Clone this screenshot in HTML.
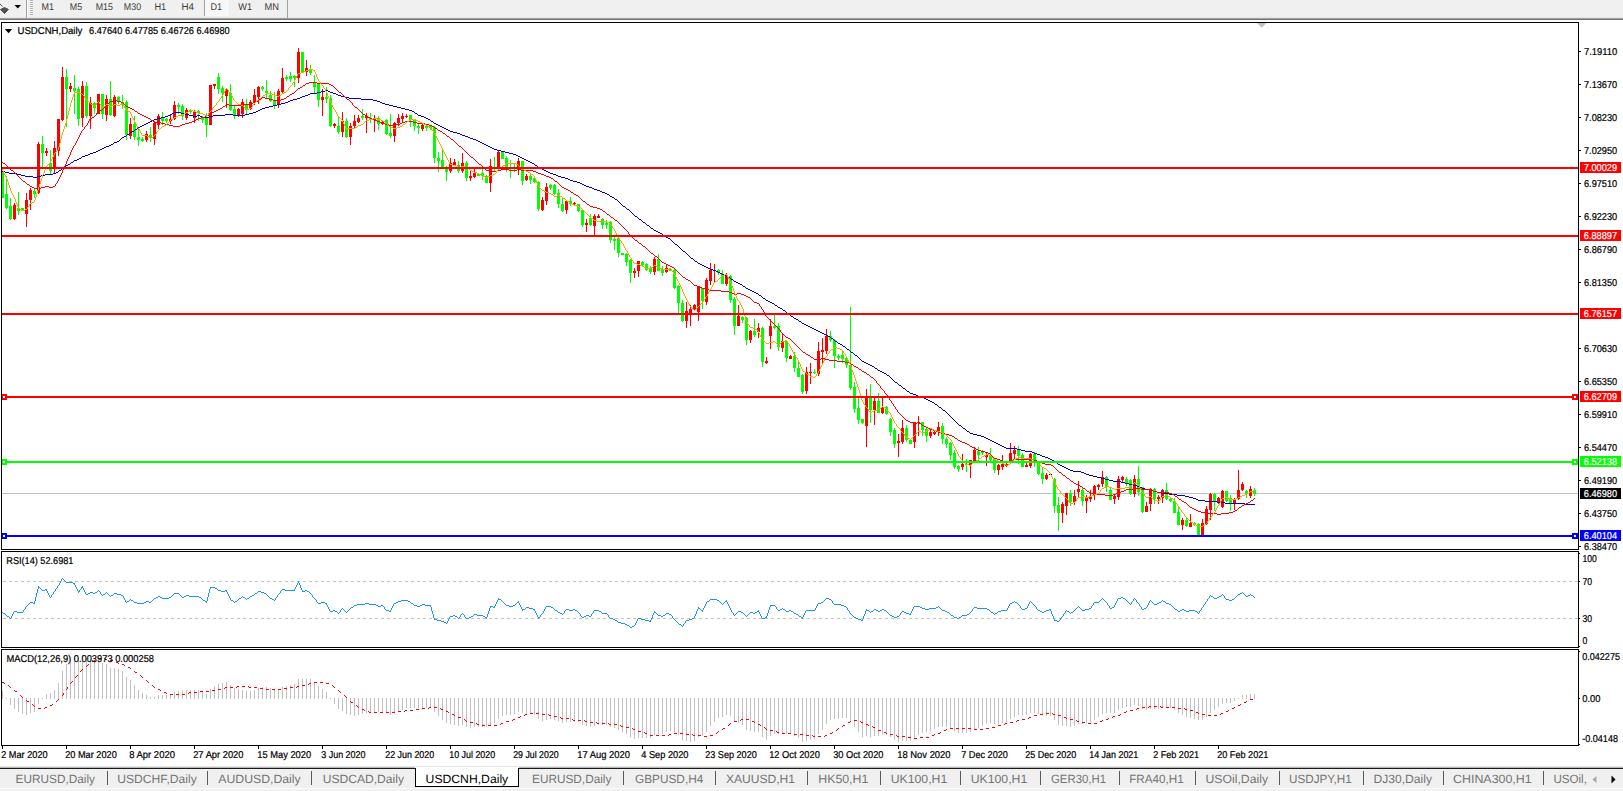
<!DOCTYPE html>
<html><head><meta charset="utf-8"><title>USDCNH,Daily</title>
<style>
html,body{margin:0;padding:0;background:#fff;overflow:hidden}
svg{display:block}
text{font-family:"Liberation Sans",sans-serif;text-rendering:geometricPrecision}
</style></head><body>
<svg width="1623" height="791" viewBox="0 0 1623 791">
<rect x="0" y="0" width="1623" height="791" fill="#fff"/>
<rect x="0" y="0" width="1623" height="18" fill="#f0f0f0"/>
<rect x="0" y="17" width="1623" height="1" fill="#e4e4e4"/>
<rect x="0" y="18" width="1623" height="1" fill="#a4a4a4"/>
<rect x="0" y="19" width="1623" height="1" fill="#707070"/>
<rect x="26" y="0" width="1" height="18" fill="#a0a0a0"/><rect x="27" y="0" width="1" height="18" fill="#fff"/>
<rect x="30" y="0" width="3" height="1" fill="#b4b4b4"/>
<rect x="30" y="2" width="3" height="1" fill="#b4b4b4"/>
<rect x="30" y="4" width="3" height="1" fill="#b4b4b4"/>
<rect x="30" y="6" width="3" height="1" fill="#b4b4b4"/>
<rect x="30" y="8" width="3" height="1" fill="#b4b4b4"/>
<rect x="30" y="10" width="3" height="1" fill="#b4b4b4"/>
<rect x="30" y="12" width="3" height="1" fill="#b4b4b4"/>
<rect x="30" y="14" width="3" height="1" fill="#b4b4b4"/>
<rect x="205" y="0" width="24" height="16" fill="#f8f8f8"/><rect x="204" y="0" width="1" height="16" fill="#a0a0a0"/>
<rect x="287" y="0" width="1" height="18" fill="#a0a0a0"/>
<path d="M0,4 L2.5,6.5 M0.5,9.5 L4.5,13.5 L8.5,9.5 L4.5,7.5 Z" fill="#505050" stroke="#505050" stroke-width="1"/>
<path d="M14.5,5 L21,5 L17.75,8.5 Z" fill="#000"/>
<text x="41.6" y="10" font-size="9.8" fill="#3c3c3c" textLength="12.5" lengthAdjust="spacingAndGlyphs">M1</text>
<text x="69.8" y="10" font-size="9.8" fill="#3c3c3c" textLength="12.3" lengthAdjust="spacingAndGlyphs">M5</text>
<text x="95.7" y="10" font-size="9.8" fill="#3c3c3c" textLength="17.2" lengthAdjust="spacingAndGlyphs">M15</text>
<text x="123.8" y="10" font-size="9.8" fill="#3c3c3c" textLength="17.3" lengthAdjust="spacingAndGlyphs">M30</text>
<text x="154.4" y="10" font-size="9.8" fill="#3c3c3c" textLength="11.8" lengthAdjust="spacingAndGlyphs">H1</text>
<text x="181.4" y="10" font-size="9.8" fill="#3c3c3c" textLength="12.5" lengthAdjust="spacingAndGlyphs">H4</text>
<text x="210.5" y="10" font-size="9.8" fill="#3c3c3c" textLength="11.6" lengthAdjust="spacingAndGlyphs">D1</text>
<text x="238.3" y="10" font-size="9.8" fill="#3c3c3c" textLength="13.8" lengthAdjust="spacingAndGlyphs">W1</text>
<text x="264.6" y="10" font-size="9.8" fill="#3c3c3c" textLength="14.5" lengthAdjust="spacingAndGlyphs">MN</text>
<rect x="2" y="493" width="1576" height="1" fill="#c0c0c0"/>
<g shape-rendering="crispEdges">
<rect x="2" y="168" width="1" height="30" fill="#00ff00"/><rect x="1" y="171" width="3" height="27" fill="#00ff00"/><rect x="6" y="176" width="1" height="33" fill="#00ff00"/><rect x="5" y="194" width="3" height="14" fill="#00ff00"/><rect x="10" y="198" width="1" height="22" fill="#00ff00"/><rect x="9" y="206" width="3" height="13" fill="#00ff00"/><rect x="14" y="203" width="1" height="17" fill="#ff0000"/><rect x="13" y="205" width="3" height="14" fill="#ff0000"/><rect x="18" y="192" width="1" height="23" fill="#00ff00"/><rect x="17" y="208" width="3" height="3" fill="#00ff00"/><rect x="22" y="208" width="1" height="3" fill="#00ff00"/><rect x="21" y="208" width="3" height="3" fill="#00ff00"/><rect x="26" y="193" width="1" height="34" fill="#ff0000"/><rect x="25" y="200" width="3" height="14" fill="#ff0000"/><rect x="30" y="188" width="1" height="22" fill="#ff0000"/><rect x="29" y="190" width="3" height="10" fill="#ff0000"/><rect x="34" y="189" width="1" height="9" fill="#00ff00"/><rect x="33" y="191" width="3" height="3" fill="#00ff00"/><rect x="38" y="142" width="1" height="52" fill="#ff0000"/><rect x="37" y="144" width="3" height="49" fill="#ff0000"/><rect x="42" y="136" width="1" height="32" fill="#00ff00"/><rect x="41" y="144" width="3" height="9" fill="#00ff00"/><rect x="46" y="148" width="1" height="8" fill="#ff0000"/><rect x="45" y="151" width="3" height="2" fill="#ff0000"/><rect x="50" y="150" width="1" height="24" fill="#00ff00"/><rect x="49" y="163" width="3" height="8" fill="#00ff00"/><rect x="54" y="141" width="1" height="32" fill="#ff0000"/><rect x="53" y="148" width="3" height="20" fill="#ff0000"/><rect x="58" y="119" width="1" height="37" fill="#ff0000"/><rect x="57" y="119" width="3" height="32" fill="#ff0000"/><rect x="62" y="67" width="1" height="54" fill="#ff0000"/><rect x="61" y="77" width="3" height="43" fill="#ff0000"/><rect x="66" y="69" width="1" height="58" fill="#00ff00"/><rect x="65" y="77" width="3" height="12" fill="#00ff00"/><rect x="70" y="83" width="1" height="9" fill="#ff0000"/><rect x="69" y="86" width="3" height="3" fill="#ff0000"/><rect x="74" y="75" width="1" height="39" fill="#00ff00"/><rect x="73" y="88" width="3" height="3" fill="#00ff00"/><rect x="78" y="87" width="1" height="39" fill="#00ff00"/><rect x="77" y="89" width="3" height="30" fill="#00ff00"/><rect x="82" y="81" width="1" height="46" fill="#ff0000"/><rect x="81" y="86" width="3" height="32" fill="#ff0000"/><rect x="86" y="82" width="1" height="36" fill="#00ff00"/><rect x="85" y="86" width="3" height="30" fill="#00ff00"/><rect x="90" y="97" width="1" height="32" fill="#ff0000"/><rect x="89" y="103" width="3" height="13" fill="#ff0000"/><rect x="94" y="102" width="1" height="12" fill="#00ff00"/><rect x="93" y="103" width="3" height="5" fill="#00ff00"/><rect x="98" y="94" width="1" height="20" fill="#ff0000"/><rect x="97" y="94" width="3" height="20" fill="#ff0000"/><rect x="102" y="94" width="1" height="25" fill="#00ff00"/><rect x="101" y="94" width="3" height="20" fill="#00ff00"/><rect x="106" y="95" width="1" height="26" fill="#ff0000"/><rect x="105" y="99" width="3" height="16" fill="#ff0000"/><rect x="110" y="81" width="1" height="35" fill="#00ff00"/><rect x="109" y="99" width="3" height="16" fill="#00ff00"/><rect x="114" y="95" width="1" height="22" fill="#ff0000"/><rect x="113" y="97" width="3" height="19" fill="#ff0000"/><rect x="118" y="96" width="1" height="8" fill="#00ff00"/><rect x="117" y="97" width="3" height="5" fill="#00ff00"/><rect x="122" y="95" width="1" height="14" fill="#00ff00"/><rect x="121" y="102" width="3" height="2" fill="#00ff00"/><rect x="126" y="100" width="1" height="40" fill="#00ff00"/><rect x="125" y="102" width="3" height="33" fill="#00ff00"/><rect x="130" y="118" width="1" height="21" fill="#ff0000"/><rect x="129" y="124" width="3" height="12" fill="#ff0000"/><rect x="134" y="116" width="1" height="24" fill="#00ff00"/><rect x="133" y="124" width="3" height="13" fill="#00ff00"/><rect x="138" y="127" width="1" height="19" fill="#00ff00"/><rect x="137" y="137" width="3" height="3" fill="#00ff00"/><rect x="142" y="137" width="1" height="5" fill="#00ff00"/><rect x="141" y="139" width="3" height="2" fill="#00ff00"/><rect x="146" y="131" width="1" height="11" fill="#ff0000"/><rect x="145" y="134" width="3" height="6" fill="#ff0000"/><rect x="150" y="127" width="1" height="15" fill="#00ff00"/><rect x="149" y="135" width="3" height="2" fill="#00ff00"/><rect x="154" y="121" width="1" height="24" fill="#ff0000"/><rect x="153" y="123" width="3" height="16" fill="#ff0000"/><rect x="158" y="114" width="1" height="15" fill="#ff0000"/><rect x="157" y="116" width="3" height="9" fill="#ff0000"/><rect x="162" y="112" width="1" height="13" fill="#00ff00"/><rect x="161" y="118" width="3" height="3" fill="#00ff00"/><rect x="166" y="118" width="1" height="5" fill="#00ff00"/><rect x="165" y="119" width="3" height="2" fill="#00ff00"/><rect x="170" y="115" width="1" height="9" fill="#ff0000"/><rect x="169" y="119" width="3" height="2" fill="#ff0000"/><rect x="174" y="101" width="1" height="19" fill="#ff0000"/><rect x="173" y="105" width="3" height="14" fill="#ff0000"/><rect x="178" y="103" width="1" height="11" fill="#00ff00"/><rect x="177" y="105" width="3" height="2" fill="#00ff00"/><rect x="182" y="104" width="1" height="16" fill="#00ff00"/><rect x="181" y="106" width="3" height="10" fill="#00ff00"/><rect x="186" y="108" width="1" height="12" fill="#ff0000"/><rect x="185" y="110" width="3" height="8" fill="#ff0000"/><rect x="190" y="109" width="1" height="5" fill="#00ff00"/><rect x="189" y="110" width="3" height="2" fill="#00ff00"/><rect x="194" y="110" width="1" height="13" fill="#ff0000"/><rect x="193" y="111" width="3" height="7" fill="#ff0000"/><rect x="198" y="110" width="1" height="11" fill="#00ff00"/><rect x="197" y="111" width="3" height="2" fill="#00ff00"/><rect x="202" y="116" width="1" height="7" fill="#00ff00"/><rect x="201" y="118" width="3" height="2" fill="#00ff00"/><rect x="206" y="113" width="1" height="24" fill="#00ff00"/><rect x="205" y="118" width="3" height="7" fill="#00ff00"/><rect x="210" y="85" width="1" height="40" fill="#ff0000"/><rect x="209" y="85" width="3" height="40" fill="#ff0000"/><rect x="214" y="84" width="1" height="5" fill="#ff0000"/><rect x="213" y="84" width="3" height="2" fill="#ff0000"/><rect x="218" y="73" width="1" height="21" fill="#00ff00"/><rect x="217" y="77" width="3" height="12" fill="#00ff00"/><rect x="222" y="86" width="1" height="16" fill="#00ff00"/><rect x="221" y="88" width="3" height="5" fill="#00ff00"/><rect x="226" y="88" width="1" height="20" fill="#ff0000"/><rect x="225" y="90" width="3" height="6" fill="#ff0000"/><rect x="230" y="84" width="1" height="27" fill="#00ff00"/><rect x="229" y="93" width="3" height="17" fill="#00ff00"/><rect x="234" y="105" width="1" height="14" fill="#00ff00"/><rect x="233" y="109" width="3" height="7" fill="#00ff00"/><rect x="238" y="108" width="1" height="9" fill="#ff0000"/><rect x="237" y="109" width="3" height="6" fill="#ff0000"/><rect x="242" y="99" width="1" height="19" fill="#ff0000"/><rect x="241" y="102" width="3" height="12" fill="#ff0000"/><rect x="246" y="99" width="1" height="15" fill="#00ff00"/><rect x="245" y="105" width="3" height="5" fill="#00ff00"/><rect x="250" y="100" width="1" height="10" fill="#ff0000"/><rect x="249" y="102" width="3" height="7" fill="#ff0000"/><rect x="254" y="89" width="1" height="16" fill="#ff0000"/><rect x="253" y="95" width="3" height="7" fill="#ff0000"/><rect x="258" y="86" width="1" height="18" fill="#ff0000"/><rect x="257" y="87" width="3" height="10" fill="#ff0000"/><rect x="262" y="86" width="1" height="5" fill="#00ff00"/><rect x="261" y="87" width="3" height="2" fill="#00ff00"/><rect x="266" y="80" width="1" height="18" fill="#00ff00"/><rect x="265" y="91" width="3" height="2" fill="#00ff00"/><rect x="270" y="91" width="1" height="11" fill="#00ff00"/><rect x="269" y="95" width="3" height="6" fill="#00ff00"/><rect x="274" y="92" width="1" height="17" fill="#00ff00"/><rect x="273" y="100" width="3" height="5" fill="#00ff00"/><rect x="278" y="89" width="1" height="19" fill="#ff0000"/><rect x="277" y="91" width="3" height="13" fill="#ff0000"/><rect x="282" y="68" width="1" height="25" fill="#ff0000"/><rect x="281" y="78" width="3" height="14" fill="#ff0000"/><rect x="286" y="75" width="1" height="6" fill="#00ff00"/><rect x="285" y="77" width="3" height="2" fill="#00ff00"/><rect x="290" y="72" width="1" height="10" fill="#00ff00"/><rect x="289" y="76" width="3" height="3" fill="#00ff00"/><rect x="294" y="75" width="1" height="12" fill="#00ff00"/><rect x="293" y="76" width="3" height="2" fill="#00ff00"/><rect x="298" y="48" width="1" height="35" fill="#ff0000"/><rect x="297" y="52" width="3" height="26" fill="#ff0000"/><rect x="302" y="52" width="1" height="21" fill="#00ff00"/><rect x="301" y="52" width="3" height="20" fill="#00ff00"/><rect x="306" y="60" width="1" height="16" fill="#ff0000"/><rect x="305" y="68" width="3" height="4" fill="#ff0000"/><rect x="310" y="65" width="1" height="10" fill="#00ff00"/><rect x="309" y="69" width="3" height="4" fill="#00ff00"/><rect x="314" y="75" width="1" height="18" fill="#00ff00"/><rect x="313" y="83" width="3" height="4" fill="#00ff00"/><rect x="318" y="83" width="1" height="24" fill="#00ff00"/><rect x="317" y="84" width="3" height="16" fill="#00ff00"/><rect x="322" y="89" width="1" height="27" fill="#ff0000"/><rect x="321" y="97" width="3" height="3" fill="#ff0000"/><rect x="326" y="87" width="1" height="16" fill="#00ff00"/><rect x="325" y="97" width="3" height="2" fill="#00ff00"/><rect x="330" y="95" width="1" height="32" fill="#00ff00"/><rect x="329" y="98" width="3" height="28" fill="#00ff00"/><rect x="334" y="123" width="1" height="5" fill="#ff0000"/><rect x="333" y="124" width="3" height="2" fill="#ff0000"/><rect x="338" y="116" width="1" height="18" fill="#00ff00"/><rect x="337" y="126" width="3" height="6" fill="#00ff00"/><rect x="342" y="112" width="1" height="25" fill="#ff0000"/><rect x="341" y="121" width="3" height="11" fill="#ff0000"/><rect x="346" y="118" width="1" height="20" fill="#00ff00"/><rect x="345" y="121" width="3" height="16" fill="#00ff00"/><rect x="350" y="123" width="1" height="22" fill="#ff0000"/><rect x="349" y="126" width="3" height="11" fill="#ff0000"/><rect x="354" y="115" width="1" height="14" fill="#ff0000"/><rect x="353" y="121" width="3" height="5" fill="#ff0000"/><rect x="358" y="115" width="1" height="8" fill="#ff0000"/><rect x="357" y="118" width="3" height="4" fill="#ff0000"/><rect x="362" y="109" width="1" height="11" fill="#00ff00"/><rect x="361" y="116" width="3" height="2" fill="#00ff00"/><rect x="366" y="113" width="1" height="20" fill="#ff0000"/><rect x="365" y="116" width="3" height="2" fill="#ff0000"/><rect x="370" y="113" width="1" height="10" fill="#00ff00"/><rect x="369" y="118" width="3" height="1" fill="#00ff00"/><rect x="374" y="115" width="1" height="17" fill="#ff0000"/><rect x="373" y="118" width="3" height="2" fill="#ff0000"/><rect x="378" y="116" width="1" height="14" fill="#00ff00"/><rect x="377" y="118" width="3" height="6" fill="#00ff00"/><rect x="382" y="121" width="1" height="4" fill="#ff0000"/><rect x="381" y="122" width="3" height="2" fill="#ff0000"/><rect x="386" y="119" width="1" height="16" fill="#00ff00"/><rect x="385" y="120" width="3" height="14" fill="#00ff00"/><rect x="390" y="114" width="1" height="24" fill="#00ff00"/><rect x="389" y="133" width="3" height="3" fill="#00ff00"/><rect x="394" y="122" width="1" height="20" fill="#ff0000"/><rect x="393" y="123" width="3" height="13" fill="#ff0000"/><rect x="398" y="114" width="1" height="12" fill="#ff0000"/><rect x="397" y="118" width="3" height="5" fill="#ff0000"/><rect x="402" y="113" width="1" height="9" fill="#ff0000"/><rect x="401" y="116" width="3" height="3" fill="#ff0000"/><rect x="406" y="114" width="1" height="4" fill="#ff0000"/><rect x="405" y="116" width="3" height="1" fill="#ff0000"/><rect x="410" y="115" width="1" height="12" fill="#00ff00"/><rect x="409" y="115" width="3" height="5" fill="#00ff00"/><rect x="414" y="120" width="1" height="11" fill="#00ff00"/><rect x="413" y="120" width="3" height="6" fill="#00ff00"/><rect x="418" y="123" width="1" height="11" fill="#00ff00"/><rect x="417" y="126" width="3" height="2" fill="#00ff00"/><rect x="422" y="124" width="1" height="7" fill="#ff0000"/><rect x="421" y="125" width="3" height="4" fill="#ff0000"/><rect x="426" y="125" width="1" height="6" fill="#00ff00"/><rect x="425" y="126" width="3" height="2" fill="#00ff00"/><rect x="430" y="125" width="1" height="5" fill="#00ff00"/><rect x="429" y="126" width="3" height="2" fill="#00ff00"/><rect x="434" y="126" width="1" height="37" fill="#00ff00"/><rect x="433" y="127" width="3" height="31" fill="#00ff00"/><rect x="438" y="152" width="1" height="20" fill="#00ff00"/><rect x="437" y="158" width="3" height="3" fill="#00ff00"/><rect x="442" y="150" width="1" height="18" fill="#00ff00"/><rect x="441" y="160" width="3" height="7" fill="#00ff00"/><rect x="446" y="166" width="1" height="15" fill="#00ff00"/><rect x="445" y="168" width="3" height="4" fill="#00ff00"/><rect x="450" y="158" width="1" height="15" fill="#ff0000"/><rect x="449" y="163" width="3" height="8" fill="#ff0000"/><rect x="454" y="159" width="1" height="7" fill="#ff0000"/><rect x="453" y="162" width="3" height="3" fill="#ff0000"/><rect x="458" y="161" width="1" height="12" fill="#00ff00"/><rect x="457" y="165" width="3" height="6" fill="#00ff00"/><rect x="462" y="153" width="1" height="20" fill="#ff0000"/><rect x="461" y="163" width="3" height="8" fill="#ff0000"/><rect x="466" y="161" width="1" height="20" fill="#00ff00"/><rect x="465" y="163" width="3" height="15" fill="#00ff00"/><rect x="470" y="171" width="1" height="10" fill="#ff0000"/><rect x="469" y="176" width="3" height="2" fill="#ff0000"/><rect x="474" y="169" width="1" height="9" fill="#ff0000"/><rect x="473" y="173" width="3" height="4" fill="#ff0000"/><rect x="478" y="173" width="1" height="3" fill="#00ff00"/><rect x="477" y="174" width="3" height="2" fill="#00ff00"/><rect x="482" y="166" width="1" height="14" fill="#00ff00"/><rect x="481" y="173" width="3" height="3" fill="#00ff00"/><rect x="486" y="175" width="1" height="8" fill="#00ff00"/><rect x="485" y="176" width="3" height="7" fill="#00ff00"/><rect x="490" y="159" width="1" height="33" fill="#ff0000"/><rect x="489" y="166" width="3" height="17" fill="#ff0000"/><rect x="494" y="157" width="1" height="14" fill="#00ff00"/><rect x="493" y="167" width="3" height="2" fill="#00ff00"/><rect x="498" y="150" width="1" height="21" fill="#ff0000"/><rect x="497" y="152" width="3" height="16" fill="#ff0000"/><rect x="502" y="152" width="1" height="7" fill="#00ff00"/><rect x="501" y="152" width="3" height="7" fill="#00ff00"/><rect x="506" y="156" width="1" height="16" fill="#00ff00"/><rect x="505" y="158" width="3" height="9" fill="#00ff00"/><rect x="510" y="160" width="1" height="18" fill="#00ff00"/><rect x="509" y="167" width="3" height="2" fill="#00ff00"/><rect x="514" y="163" width="1" height="9" fill="#00ff00"/><rect x="513" y="168" width="3" height="1" fill="#00ff00"/><rect x="518" y="158" width="1" height="17" fill="#ff0000"/><rect x="517" y="161" width="3" height="8" fill="#ff0000"/><rect x="522" y="161" width="1" height="24" fill="#00ff00"/><rect x="521" y="161" width="3" height="20" fill="#00ff00"/><rect x="526" y="174" width="1" height="7" fill="#ff0000"/><rect x="525" y="176" width="3" height="4" fill="#ff0000"/><rect x="530" y="174" width="1" height="10" fill="#00ff00"/><rect x="529" y="176" width="3" height="4" fill="#00ff00"/><rect x="534" y="176" width="1" height="7" fill="#00ff00"/><rect x="533" y="178" width="3" height="4" fill="#00ff00"/><rect x="538" y="181" width="1" height="30" fill="#00ff00"/><rect x="537" y="182" width="3" height="27" fill="#00ff00"/><rect x="542" y="197" width="1" height="14" fill="#ff0000"/><rect x="541" y="200" width="3" height="10" fill="#ff0000"/><rect x="546" y="183" width="1" height="22" fill="#ff0000"/><rect x="545" y="187" width="3" height="14" fill="#ff0000"/><rect x="550" y="184" width="1" height="6" fill="#00ff00"/><rect x="549" y="185" width="3" height="3" fill="#00ff00"/><rect x="554" y="184" width="1" height="11" fill="#00ff00"/><rect x="553" y="185" width="3" height="9" fill="#00ff00"/><rect x="558" y="189" width="1" height="19" fill="#00ff00"/><rect x="557" y="193" width="3" height="11" fill="#00ff00"/><rect x="562" y="198" width="1" height="14" fill="#00ff00"/><rect x="561" y="204" width="3" height="7" fill="#00ff00"/><rect x="566" y="200" width="1" height="14" fill="#ff0000"/><rect x="565" y="201" width="3" height="9" fill="#ff0000"/><rect x="570" y="197" width="1" height="9" fill="#00ff00"/><rect x="569" y="201" width="3" height="3" fill="#00ff00"/><rect x="574" y="202" width="1" height="3" fill="#ff0000"/><rect x="573" y="203" width="3" height="1" fill="#ff0000"/><rect x="578" y="204" width="1" height="8" fill="#00ff00"/><rect x="577" y="204" width="3" height="7" fill="#00ff00"/><rect x="582" y="209" width="1" height="18" fill="#00ff00"/><rect x="581" y="210" width="3" height="15" fill="#00ff00"/><rect x="586" y="219" width="1" height="13" fill="#ff0000"/><rect x="585" y="223" width="3" height="2" fill="#ff0000"/><rect x="590" y="214" width="1" height="12" fill="#00ff00"/><rect x="589" y="218" width="3" height="7" fill="#00ff00"/><rect x="594" y="214" width="1" height="22" fill="#ff0000"/><rect x="593" y="216" width="3" height="10" fill="#ff0000"/><rect x="598" y="214" width="1" height="4" fill="#ff0000"/><rect x="597" y="216" width="3" height="2" fill="#ff0000"/><rect x="602" y="218" width="1" height="11" fill="#00ff00"/><rect x="601" y="219" width="3" height="6" fill="#00ff00"/><rect x="606" y="220" width="1" height="9" fill="#00ff00"/><rect x="605" y="223" width="3" height="2" fill="#00ff00"/><rect x="610" y="221" width="1" height="22" fill="#00ff00"/><rect x="609" y="222" width="3" height="18" fill="#00ff00"/><rect x="614" y="236" width="1" height="14" fill="#00ff00"/><rect x="613" y="239" width="3" height="2" fill="#00ff00"/><rect x="618" y="236" width="1" height="21" fill="#00ff00"/><rect x="617" y="238" width="3" height="15" fill="#00ff00"/><rect x="622" y="253" width="1" height="2" fill="#00ff00"/><rect x="621" y="253" width="3" height="2" fill="#00ff00"/><rect x="626" y="253" width="1" height="13" fill="#00ff00"/><rect x="625" y="254" width="3" height="8" fill="#00ff00"/><rect x="630" y="259" width="1" height="24" fill="#00ff00"/><rect x="629" y="260" width="3" height="13" fill="#00ff00"/><rect x="634" y="268" width="1" height="10" fill="#ff0000"/><rect x="633" y="271" width="3" height="2" fill="#ff0000"/><rect x="638" y="261" width="1" height="16" fill="#ff0000"/><rect x="637" y="261" width="3" height="10" fill="#ff0000"/><rect x="642" y="261" width="1" height="5" fill="#00ff00"/><rect x="641" y="262" width="3" height="3" fill="#00ff00"/><rect x="646" y="263" width="1" height="8" fill="#00ff00"/><rect x="645" y="264" width="3" height="6" fill="#00ff00"/><rect x="650" y="266" width="1" height="8" fill="#00ff00"/><rect x="649" y="268" width="3" height="4" fill="#00ff00"/><rect x="654" y="257" width="1" height="18" fill="#ff0000"/><rect x="653" y="259" width="3" height="13" fill="#ff0000"/><rect x="658" y="254" width="1" height="17" fill="#00ff00"/><rect x="657" y="259" width="3" height="12" fill="#00ff00"/><rect x="662" y="266" width="1" height="10" fill="#00ff00"/><rect x="661" y="269" width="3" height="4" fill="#00ff00"/><rect x="666" y="264" width="1" height="9" fill="#ff0000"/><rect x="665" y="268" width="3" height="4" fill="#ff0000"/><rect x="670" y="268" width="1" height="3" fill="#00ff00"/><rect x="669" y="269" width="3" height="2" fill="#00ff00"/><rect x="674" y="269" width="1" height="20" fill="#00ff00"/><rect x="673" y="270" width="3" height="18" fill="#00ff00"/><rect x="678" y="285" width="1" height="28" fill="#00ff00"/><rect x="677" y="286" width="3" height="17" fill="#00ff00"/><rect x="682" y="300" width="1" height="22" fill="#00ff00"/><rect x="681" y="303" width="3" height="18" fill="#00ff00"/><rect x="686" y="302" width="1" height="26" fill="#ff0000"/><rect x="685" y="311" width="3" height="10" fill="#ff0000"/><rect x="690" y="305" width="1" height="21" fill="#ff0000"/><rect x="689" y="309" width="3" height="4" fill="#ff0000"/><rect x="694" y="304" width="1" height="7" fill="#ff0000"/><rect x="693" y="305" width="3" height="5" fill="#ff0000"/><rect x="698" y="286" width="1" height="35" fill="#ff0000"/><rect x="697" y="287" width="3" height="25" fill="#ff0000"/><rect x="702" y="288" width="1" height="21" fill="#00ff00"/><rect x="701" y="288" width="3" height="13" fill="#00ff00"/><rect x="706" y="278" width="1" height="27" fill="#ff0000"/><rect x="705" y="280" width="3" height="22" fill="#ff0000"/><rect x="710" y="263" width="1" height="22" fill="#ff0000"/><rect x="709" y="270" width="3" height="11" fill="#ff0000"/><rect x="714" y="264" width="1" height="18" fill="#ff0000"/><rect x="713" y="270" width="3" height="1" fill="#ff0000"/><rect x="718" y="269" width="1" height="6" fill="#00ff00"/><rect x="717" y="270" width="3" height="3" fill="#00ff00"/><rect x="722" y="270" width="1" height="14" fill="#00ff00"/><rect x="721" y="274" width="3" height="10" fill="#00ff00"/><rect x="726" y="273" width="1" height="13" fill="#ff0000"/><rect x="725" y="275" width="3" height="9" fill="#ff0000"/><rect x="730" y="275" width="1" height="28" fill="#00ff00"/><rect x="729" y="276" width="3" height="24" fill="#00ff00"/><rect x="734" y="297" width="1" height="38" fill="#00ff00"/><rect x="733" y="299" width="3" height="27" fill="#00ff00"/><rect x="738" y="305" width="1" height="21" fill="#ff0000"/><rect x="737" y="316" width="3" height="10" fill="#ff0000"/><rect x="742" y="316" width="1" height="7" fill="#00ff00"/><rect x="741" y="317" width="3" height="3" fill="#00ff00"/><rect x="746" y="317" width="1" height="28" fill="#00ff00"/><rect x="745" y="318" width="3" height="22" fill="#00ff00"/><rect x="750" y="330" width="1" height="13" fill="#ff0000"/><rect x="749" y="331" width="3" height="9" fill="#ff0000"/><rect x="754" y="319" width="1" height="18" fill="#00ff00"/><rect x="753" y="331" width="3" height="4" fill="#00ff00"/><rect x="758" y="323" width="1" height="15" fill="#ff0000"/><rect x="757" y="328" width="3" height="4" fill="#ff0000"/><rect x="762" y="327" width="1" height="40" fill="#00ff00"/><rect x="761" y="328" width="3" height="34" fill="#00ff00"/><rect x="766" y="357" width="1" height="7" fill="#ff0000"/><rect x="765" y="361" width="3" height="2" fill="#ff0000"/><rect x="770" y="319" width="1" height="30" fill="#ff0000"/><rect x="769" y="326" width="3" height="10" fill="#ff0000"/><rect x="774" y="315" width="1" height="14" fill="#00ff00"/><rect x="773" y="326" width="3" height="2" fill="#00ff00"/><rect x="778" y="323" width="1" height="28" fill="#00ff00"/><rect x="777" y="326" width="3" height="21" fill="#00ff00"/><rect x="782" y="333" width="1" height="19" fill="#ff0000"/><rect x="781" y="341" width="3" height="7" fill="#ff0000"/><rect x="786" y="340" width="1" height="22" fill="#00ff00"/><rect x="785" y="341" width="3" height="17" fill="#00ff00"/><rect x="790" y="355" width="1" height="4" fill="#ff0000"/><rect x="789" y="356" width="3" height="3" fill="#ff0000"/><rect x="794" y="352" width="1" height="20" fill="#00ff00"/><rect x="793" y="356" width="3" height="12" fill="#00ff00"/><rect x="798" y="362" width="1" height="15" fill="#00ff00"/><rect x="797" y="368" width="3" height="9" fill="#00ff00"/><rect x="802" y="374" width="1" height="20" fill="#00ff00"/><rect x="801" y="375" width="3" height="17" fill="#00ff00"/><rect x="806" y="367" width="1" height="27" fill="#ff0000"/><rect x="805" y="372" width="3" height="19" fill="#ff0000"/><rect x="810" y="363" width="1" height="21" fill="#ff0000"/><rect x="809" y="372" width="3" height="1" fill="#ff0000"/><rect x="814" y="369" width="1" height="5" fill="#00ff00"/><rect x="813" y="372" width="3" height="1" fill="#00ff00"/><rect x="818" y="342" width="1" height="34" fill="#ff0000"/><rect x="817" y="351" width="3" height="23" fill="#ff0000"/><rect x="822" y="338" width="1" height="26" fill="#ff0000"/><rect x="821" y="350" width="3" height="2" fill="#ff0000"/><rect x="826" y="329" width="1" height="25" fill="#ff0000"/><rect x="825" y="336" width="3" height="15" fill="#ff0000"/><rect x="830" y="331" width="1" height="11" fill="#00ff00"/><rect x="829" y="336" width="3" height="4" fill="#00ff00"/><rect x="834" y="339" width="1" height="29" fill="#00ff00"/><rect x="833" y="340" width="3" height="16" fill="#00ff00"/><rect x="838" y="354" width="1" height="6" fill="#00ff00"/><rect x="837" y="356" width="3" height="2" fill="#00ff00"/><rect x="842" y="350" width="1" height="13" fill="#00ff00"/><rect x="841" y="355" width="3" height="4" fill="#00ff00"/><rect x="846" y="357" width="1" height="11" fill="#00ff00"/><rect x="845" y="358" width="3" height="7" fill="#00ff00"/><rect x="850" y="307" width="1" height="83" fill="#00ff00"/><rect x="849" y="365" width="3" height="23" fill="#00ff00"/><rect x="854" y="382" width="1" height="31" fill="#00ff00"/><rect x="853" y="387" width="3" height="22" fill="#00ff00"/><rect x="858" y="398" width="1" height="26" fill="#00ff00"/><rect x="857" y="408" width="3" height="12" fill="#00ff00"/><rect x="862" y="419" width="1" height="5" fill="#00ff00"/><rect x="861" y="419" width="3" height="4" fill="#00ff00"/><rect x="866" y="389" width="1" height="58" fill="#ff0000"/><rect x="865" y="397" width="3" height="29" fill="#ff0000"/><rect x="870" y="384" width="1" height="39" fill="#00ff00"/><rect x="869" y="398" width="3" height="12" fill="#00ff00"/><rect x="874" y="397" width="1" height="28" fill="#ff0000"/><rect x="873" y="401" width="3" height="9" fill="#ff0000"/><rect x="878" y="393" width="1" height="20" fill="#00ff00"/><rect x="877" y="401" width="3" height="12" fill="#00ff00"/><rect x="882" y="397" width="1" height="17" fill="#ff0000"/><rect x="881" y="407" width="3" height="6" fill="#ff0000"/><rect x="886" y="406" width="1" height="9" fill="#00ff00"/><rect x="885" y="407" width="3" height="7" fill="#00ff00"/><rect x="890" y="418" width="1" height="18" fill="#00ff00"/><rect x="889" y="419" width="3" height="13" fill="#00ff00"/><rect x="894" y="428" width="1" height="20" fill="#00ff00"/><rect x="893" y="430" width="3" height="14" fill="#00ff00"/><rect x="898" y="434" width="1" height="23" fill="#ff0000"/><rect x="897" y="441" width="3" height="2" fill="#ff0000"/><rect x="902" y="420" width="1" height="24" fill="#ff0000"/><rect x="901" y="428" width="3" height="14" fill="#ff0000"/><rect x="906" y="425" width="1" height="17" fill="#00ff00"/><rect x="905" y="428" width="3" height="12" fill="#00ff00"/><rect x="910" y="439" width="1" height="5" fill="#00ff00"/><rect x="909" y="440" width="3" height="4" fill="#00ff00"/><rect x="914" y="422" width="1" height="26" fill="#ff0000"/><rect x="913" y="422" width="3" height="20" fill="#ff0000"/><rect x="918" y="416" width="1" height="20" fill="#ff0000"/><rect x="917" y="422" width="3" height="1" fill="#ff0000"/><rect x="922" y="422" width="1" height="14" fill="#00ff00"/><rect x="921" y="422" width="3" height="8" fill="#00ff00"/><rect x="926" y="428" width="1" height="14" fill="#00ff00"/><rect x="925" y="429" width="3" height="7" fill="#00ff00"/><rect x="930" y="428" width="1" height="10" fill="#ff0000"/><rect x="929" y="432" width="3" height="4" fill="#ff0000"/><rect x="934" y="431" width="1" height="4" fill="#ff0000"/><rect x="933" y="432" width="3" height="2" fill="#ff0000"/><rect x="938" y="422" width="1" height="14" fill="#ff0000"/><rect x="937" y="427" width="3" height="5" fill="#ff0000"/><rect x="942" y="423" width="1" height="21" fill="#00ff00"/><rect x="941" y="426" width="3" height="13" fill="#00ff00"/><rect x="946" y="437" width="1" height="11" fill="#00ff00"/><rect x="945" y="439" width="3" height="5" fill="#00ff00"/><rect x="950" y="442" width="1" height="18" fill="#00ff00"/><rect x="949" y="443" width="3" height="12" fill="#00ff00"/><rect x="954" y="450" width="1" height="19" fill="#00ff00"/><rect x="953" y="453" width="3" height="14" fill="#00ff00"/><rect x="958" y="465" width="1" height="7" fill="#00ff00"/><rect x="957" y="466" width="3" height="3" fill="#00ff00"/><rect x="962" y="454" width="1" height="16" fill="#ff0000"/><rect x="961" y="464" width="3" height="3" fill="#ff0000"/><rect x="966" y="459" width="1" height="13" fill="#00ff00"/><rect x="965" y="464" width="3" height="1" fill="#00ff00"/><rect x="970" y="460" width="1" height="18" fill="#ff0000"/><rect x="969" y="460" width="3" height="5" fill="#ff0000"/><rect x="974" y="447" width="1" height="14" fill="#ff0000"/><rect x="973" y="450" width="3" height="11" fill="#ff0000"/><rect x="978" y="447" width="1" height="14" fill="#00ff00"/><rect x="977" y="451" width="3" height="4" fill="#00ff00"/><rect x="982" y="450" width="1" height="5" fill="#00ff00"/><rect x="981" y="451" width="3" height="2" fill="#00ff00"/><rect x="986" y="453" width="1" height="13" fill="#ff0000"/><rect x="985" y="455" width="3" height="2" fill="#ff0000"/><rect x="990" y="448" width="1" height="13" fill="#00ff00"/><rect x="989" y="455" width="3" height="5" fill="#00ff00"/><rect x="994" y="458" width="1" height="15" fill="#00ff00"/><rect x="993" y="459" width="3" height="11" fill="#00ff00"/><rect x="998" y="464" width="1" height="11" fill="#ff0000"/><rect x="997" y="465" width="3" height="5" fill="#ff0000"/><rect x="1002" y="455" width="1" height="15" fill="#ff0000"/><rect x="1001" y="464" width="3" height="3" fill="#ff0000"/><rect x="1006" y="462" width="1" height="5" fill="#ff0000"/><rect x="1005" y="464" width="3" height="2" fill="#ff0000"/><rect x="1010" y="443" width="1" height="21" fill="#ff0000"/><rect x="1009" y="453" width="3" height="10" fill="#ff0000"/><rect x="1014" y="446" width="1" height="13" fill="#ff0000"/><rect x="1013" y="450" width="3" height="4" fill="#ff0000"/><rect x="1018" y="446" width="1" height="18" fill="#00ff00"/><rect x="1017" y="449" width="3" height="7" fill="#00ff00"/><rect x="1022" y="453" width="1" height="14" fill="#00ff00"/><rect x="1021" y="455" width="3" height="12" fill="#00ff00"/><rect x="1026" y="463" width="1" height="4" fill="#ff0000"/><rect x="1025" y="465" width="3" height="2" fill="#ff0000"/><rect x="1030" y="453" width="1" height="15" fill="#ff0000"/><rect x="1029" y="454" width="3" height="12" fill="#ff0000"/><rect x="1034" y="452" width="1" height="15" fill="#00ff00"/><rect x="1033" y="454" width="3" height="8" fill="#00ff00"/><rect x="1038" y="462" width="1" height="13" fill="#00ff00"/><rect x="1037" y="462" width="3" height="12" fill="#00ff00"/><rect x="1042" y="467" width="1" height="17" fill="#00ff00"/><rect x="1041" y="473" width="3" height="6" fill="#00ff00"/><rect x="1046" y="473" width="1" height="7" fill="#ff0000"/><rect x="1045" y="475" width="3" height="4" fill="#ff0000"/><rect x="1050" y="474" width="1" height="1" fill="#000"/><rect x="1049" y="474" width="3" height="1" fill="#000"/><rect x="1054" y="478" width="1" height="35" fill="#00ff00"/><rect x="1053" y="479" width="3" height="27" fill="#00ff00"/><rect x="1058" y="497" width="1" height="34" fill="#00ff00"/><rect x="1057" y="505" width="3" height="8" fill="#00ff00"/><rect x="1062" y="502" width="1" height="21" fill="#ff0000"/><rect x="1061" y="504" width="3" height="9" fill="#ff0000"/><rect x="1066" y="493" width="1" height="22" fill="#ff0000"/><rect x="1065" y="493" width="3" height="13" fill="#ff0000"/><rect x="1070" y="490" width="1" height="16" fill="#00ff00"/><rect x="1069" y="493" width="3" height="9" fill="#00ff00"/><rect x="1074" y="490" width="1" height="15" fill="#ff0000"/><rect x="1073" y="496" width="3" height="6" fill="#ff0000"/><rect x="1078" y="481" width="1" height="17" fill="#ff0000"/><rect x="1077" y="489" width="3" height="3" fill="#ff0000"/><rect x="1082" y="488" width="1" height="18" fill="#00ff00"/><rect x="1081" y="490" width="3" height="11" fill="#00ff00"/><rect x="1086" y="495" width="1" height="18" fill="#ff0000"/><rect x="1085" y="498" width="3" height="3" fill="#ff0000"/><rect x="1090" y="490" width="1" height="12" fill="#ff0000"/><rect x="1089" y="496" width="3" height="3" fill="#ff0000"/><rect x="1094" y="485" width="1" height="15" fill="#ff0000"/><rect x="1093" y="486" width="3" height="8" fill="#ff0000"/><rect x="1098" y="484" width="1" height="6" fill="#ff0000"/><rect x="1097" y="485" width="3" height="2" fill="#ff0000"/><rect x="1102" y="471" width="1" height="16" fill="#ff0000"/><rect x="1101" y="477" width="3" height="7" fill="#ff0000"/><rect x="1106" y="476" width="1" height="16" fill="#00ff00"/><rect x="1105" y="477" width="3" height="10" fill="#00ff00"/><rect x="1110" y="487" width="1" height="13" fill="#00ff00"/><rect x="1109" y="490" width="3" height="10" fill="#00ff00"/><rect x="1114" y="495" width="1" height="9" fill="#ff0000"/><rect x="1113" y="496" width="3" height="3" fill="#ff0000"/><rect x="1118" y="476" width="1" height="24" fill="#ff0000"/><rect x="1117" y="479" width="3" height="18" fill="#ff0000"/><rect x="1122" y="476" width="1" height="6" fill="#ff0000"/><rect x="1121" y="477" width="3" height="3" fill="#ff0000"/><rect x="1126" y="477" width="1" height="9" fill="#00ff00"/><rect x="1125" y="479" width="3" height="4" fill="#00ff00"/><rect x="1130" y="479" width="1" height="16" fill="#00ff00"/><rect x="1129" y="480" width="3" height="14" fill="#00ff00"/><rect x="1134" y="475" width="1" height="22" fill="#ff0000"/><rect x="1133" y="479" width="3" height="15" fill="#ff0000"/><rect x="1138" y="466" width="1" height="30" fill="#00ff00"/><rect x="1137" y="479" width="3" height="13" fill="#00ff00"/><rect x="1142" y="487" width="1" height="26" fill="#00ff00"/><rect x="1141" y="487" width="3" height="25" fill="#00ff00"/><rect x="1146" y="502" width="1" height="10" fill="#ff0000"/><rect x="1145" y="506" width="3" height="6" fill="#ff0000"/><rect x="1150" y="488" width="1" height="23" fill="#ff0000"/><rect x="1149" y="489" width="3" height="15" fill="#ff0000"/><rect x="1154" y="488" width="1" height="16" fill="#00ff00"/><rect x="1153" y="489" width="3" height="10" fill="#00ff00"/><rect x="1158" y="495" width="1" height="9" fill="#ff0000"/><rect x="1157" y="497" width="3" height="2" fill="#ff0000"/><rect x="1162" y="489" width="1" height="14" fill="#ff0000"/><rect x="1161" y="490" width="3" height="8" fill="#ff0000"/><rect x="1166" y="483" width="1" height="17" fill="#00ff00"/><rect x="1165" y="490" width="3" height="9" fill="#00ff00"/><rect x="1170" y="498" width="1" height="4" fill="#00ff00"/><rect x="1169" y="499" width="3" height="2" fill="#00ff00"/><rect x="1174" y="498" width="1" height="15" fill="#00ff00"/><rect x="1173" y="501" width="3" height="12" fill="#00ff00"/><rect x="1178" y="507" width="1" height="18" fill="#00ff00"/><rect x="1177" y="512" width="3" height="13" fill="#00ff00"/><rect x="1182" y="518" width="1" height="12" fill="#ff0000"/><rect x="1181" y="520" width="3" height="5" fill="#ff0000"/><rect x="1186" y="517" width="1" height="10" fill="#00ff00"/><rect x="1185" y="520" width="3" height="6" fill="#00ff00"/><rect x="1190" y="514" width="1" height="13" fill="#ff0000"/><rect x="1189" y="523" width="3" height="4" fill="#ff0000"/><rect x="1194" y="522" width="1" height="4" fill="#00ff00"/><rect x="1193" y="523" width="3" height="2" fill="#00ff00"/><rect x="1198" y="523" width="1" height="12" fill="#00ff00"/><rect x="1197" y="524" width="3" height="11" fill="#00ff00"/><rect x="1202" y="519" width="1" height="16" fill="#ff0000"/><rect x="1201" y="523" width="3" height="12" fill="#ff0000"/><rect x="1206" y="506" width="1" height="19" fill="#ff0000"/><rect x="1205" y="509" width="3" height="15" fill="#ff0000"/><rect x="1210" y="493" width="1" height="27" fill="#ff0000"/><rect x="1209" y="494" width="3" height="16" fill="#ff0000"/><rect x="1214" y="493" width="1" height="18" fill="#00ff00"/><rect x="1213" y="494" width="3" height="7" fill="#00ff00"/><rect x="1218" y="497" width="1" height="7" fill="#ff0000"/><rect x="1217" y="498" width="3" height="4" fill="#ff0000"/><rect x="1222" y="490" width="1" height="18" fill="#ff0000"/><rect x="1221" y="491" width="3" height="16" fill="#ff0000"/><rect x="1226" y="491" width="1" height="11" fill="#00ff00"/><rect x="1225" y="491" width="3" height="10" fill="#00ff00"/><rect x="1230" y="495" width="1" height="16" fill="#00ff00"/><rect x="1229" y="498" width="3" height="6" fill="#00ff00"/><rect x="1234" y="498" width="1" height="12" fill="#ff0000"/><rect x="1233" y="499" width="3" height="4" fill="#ff0000"/><rect x="1238" y="470" width="1" height="30" fill="#ff0000"/><rect x="1237" y="490" width="3" height="9" fill="#ff0000"/><rect x="1242" y="482" width="1" height="9" fill="#ff0000"/><rect x="1241" y="484" width="3" height="6" fill="#ff0000"/><rect x="1246" y="490" width="1" height="8" fill="#00ff00"/><rect x="1245" y="491" width="3" height="3" fill="#00ff00"/><rect x="1250" y="486" width="1" height="12" fill="#ff0000"/><rect x="1249" y="489" width="3" height="7" fill="#ff0000"/><rect x="1254" y="488" width="1" height="8" fill="#00ff00"/><rect x="1253" y="490" width="3" height="4" fill="#00ff00"/>
<path d="M647 225h2v1h-2zM956 422h1v1h-1zM1109 480h4v1h-4zM1217 502h8v1h-8zM934 403h1v1h-1zM281 103h4v1h-4zM382 103h3v1h-3zM297 98h3v1h-3zM349 98h12v1h-12zM918 396h3v1h-3zM165 116h3v1h-3zM193 116h4v1h-4zM200 116h2v1h-2zM209 116h4v1h-4zM421 116h3v1h-3zM2 171h3v1h-3zM58 171h1v1h-1zM546 171h2v1h-2zM258 110h2v1h-2zM409 110h3v1h-3zM98 150h2v1h-2zM497 150h4v1h-4zM903 388h2v1h-2zM1086 474h3v1h-3zM100 149h2v1h-2zM494 149h3v1h-3zM1205 501h12v1h-12zM847 349h2v1h-2zM859 358h1v1h-1zM679 247h1v1h-1zM148 122h2v1h-2zM433 122h1v1h-1zM25 176h8v1h-8zM37 176h4v1h-4zM558 176h3v1h-3zM1177 495h8v1h-8zM680 248h1v1h-1zM174 112h7v1h-7zM253 112h3v1h-3zM414 112h1v1h-1zM668 238h2v1h-2zM642 221h1v1h-1zM144 124h2v1h-2zM436 124h2v1h-2zM90 153h3v1h-3zM509 153h4v1h-4zM977 435h4v1h-4zM643 222h2v1h-2zM1042 456h3v1h-3zM1113 481h8v1h-8zM21 175h4v1h-4zM41 175h4v1h-4zM556 175h2v1h-2zM1225 503h20v1h-20zM963 428h2v1h-2zM780 308h2v1h-2zM1034 453h3v1h-3zM170 114h2v1h-2zM185 114h4v1h-4zM225 114h8v1h-8zM245 114h4v1h-4zM417 114h1v1h-1zM293 99h4v1h-4zM361 99h12v1h-12zM1161 493h8v1h-8zM589 187h3v1h-3zM887 375h2v1h-2zM582 184h2v1h-2zM5 172h4v1h-4zM56 172h2v1h-2zM548 172h2v1h-2zM889 376h1v1h-1zM899 385h2v1h-2zM127 134h2v1h-2zM460 134h2v1h-2zM262 108h3v1h-3zM401 108h4v1h-4zM300 97h2v1h-2zM345 97h4v1h-4zM854 354h1v1h-1zM1129 484h4v1h-4zM843 346h2v1h-2zM1006 448h11v1h-11zM855 355h2v1h-2zM663 235h2v1h-2zM835 341h2v1h-2zM675 244h2v1h-2zM686 253h1v1h-1zM981 436h3v1h-3zM9 173h8v1h-8zM53 173h3v1h-3zM550 173h3v1h-3zM130 132h2v1h-2zM453 132h4v1h-4zM687 254h1v1h-1zM59 170h2v1h-2zM544 170h2v1h-2zM65 166h1v1h-1zM537 166h1v1h-1zM168 115h2v1h-2zM189 115h4v1h-4zM197 115h3v1h-3zM213 115h12v1h-12zM233 115h12v1h-12zM418 115h3v1h-3zM638 218h1v1h-1zM656 231h2v1h-2zM135 129h2v1h-2zM446 129h2v1h-2zM310 93h7v1h-7zM333 93h3v1h-3zM111 144h2v1h-2zM484 144h2v1h-2zM592 188h2v1h-2zM959 425h2v1h-2zM106 146h3v1h-3zM488 146h2v1h-2zM260 109h2v1h-2zM405 109h4v1h-4zM875 368h2v1h-2zM154 119h3v1h-3zM428 119h2v1h-2zM877 369h1v1h-1zM713 270h3v1h-3zM831 338h2v1h-2zM321 91h4v1h-4zM328 91h2v1h-2zM850 351h1v1h-1zM716 271h2v1h-2zM17 174h4v1h-4zM45 174h8v1h-8zM553 174h3v1h-3zM317 92h4v1h-4zM330 92h3v1h-3zM851 352h2v1h-2zM708 268h2v1h-2zM700 264h2v1h-2zM290 100h3v1h-3zM373 100h4v1h-4zM124 136h2v1h-2zM465 136h3v1h-3zM651 228h2v1h-2zM824 334h2v1h-2zM682 250h1v1h-1zM129 133h1v1h-1zM457 133h3v1h-3zM70 163h1v1h-1zM532 163h2v1h-2zM77 159h2v1h-2zM524 159h2v1h-2zM1105 479h4v1h-4zM134 130h1v1h-1zM448 130h2v1h-2zM932 402h2v1h-2zM924 398h2v1h-2zM277 104h4v1h-4zM385 104h4v1h-4zM79 158h2v1h-2zM522 158h2v1h-2zM916 395h2v1h-2zM157 118h4v1h-4zM426 118h2v1h-2zM1084 473h2v1h-2zM577 182h3v1h-3zM891 378h1v1h-1zM152 120h2v1h-2zM430 120h1v1h-1zM109 145h2v1h-2zM486 145h2v1h-2zM845 347h1v1h-1zM864 362h2v1h-2zM826 335h2v1h-2zM846 348h1v1h-1zM818 331h2v1h-2zM122 137h2v1h-2zM468 137h2v1h-2zM1125 483h4v1h-4zM666 237h2v1h-2zM119 140h1v1h-1zM476 140h2v1h-2zM967 431h2v1h-2zM946 412h1v1h-1zM1032 452h2v1h-2zM969 432h1v1h-1zM586 186h3v1h-3zM580 183h2v1h-2zM1017 449h4v1h-4zM71 162h2v1h-2zM530 162h2v1h-2zM886 374h1v1h-1zM878 370h2v1h-2zM1137 486h3v1h-3zM840 344h2v1h-2zM842 345h1v1h-1zM61 169h1v1h-1zM542 169h2v1h-2zM1050 459h2v1h-2zM662 234h1v1h-1zM654 230h2v1h-2zM288 101h2v1h-2zM377 101h3v1h-3zM132 131h2v1h-2zM450 131h3v1h-3zM85 155h3v1h-3zM516 155h2v1h-2zM610 196h2v1h-2zM597 190h3v1h-3zM1073 471h8v1h-8zM1140 487h2v1h-2zM874 367h1v1h-1zM866 363h2v1h-2zM1245 504h10v1h-10zM706 267h2v1h-2zM698 263h2v1h-2zM146 123h2v1h-2zM434 123h2v1h-2zM325 90h3v1h-3zM285 102h3v1h-3zM380 102h2v1h-2zM88 154h2v1h-2zM513 154h3v1h-3zM650 227h1v1h-1zM787 313h2v1h-2zM1025 451h7v1h-7zM913 394h3v1h-3zM161 117h4v1h-4zM202 117h7v1h-7zM424 117h2v1h-2zM302 96h3v1h-3zM341 96h4v1h-4zM868 364h2v1h-2zM102 148h2v1h-2zM492 148h2v1h-2zM1081 472h3v1h-3zM693 259h1v1h-1zM1121 482h4v1h-4zM816 330h2v1h-2zM808 326h2v1h-2zM973 434h4v1h-4zM62 168h1v1h-1zM540 168h2v1h-2zM645 223h1v1h-1zM810 327h2v1h-2zM802 323h2v1h-2zM1037 454h3v1h-3zM955 421h1v1h-1zM966 430h1v1h-1zM96 151h2v1h-2zM501 151h4v1h-4zM902 387h1v1h-1zM1157 492h4v1h-4zM1198 500h7v1h-7zM265 107h4v1h-4zM397 107h4v1h-4zM857 356h1v1h-1zM858 357h1v1h-1zM689 256h1v1h-1zM678 246h1v1h-1zM798 320h1v1h-1zM138 127h2v1h-2zM442 127h2v1h-2zM1040 455h2v1h-2zM962 427h1v1h-1zM1101 478h4v1h-4zM898 384h1v1h-1zM880 371h2v1h-2zM834 340h1v1h-1zM853 353h1v1h-1zM710 269h3v1h-3zM702 265h2v1h-2zM704 266h2v1h-2zM66 165h2v1h-2zM535 165h2v1h-2zM117 141h2v1h-2zM478 141h2v1h-2zM256 111h2v1h-2zM412 111h2v1h-2zM73 161h1v1h-1zM528 161h2v1h-2zM81 157h1v1h-1zM520 157h2v1h-2zM957 423h1v1h-1zM893 380h1v1h-1zM910 393h3v1h-3zM894 381h1v1h-1zM104 147h2v1h-2zM490 147h2v1h-2zM830 337h1v1h-1zM849 350h1v1h-1zM822 333h2v1h-2zM691 258h2v1h-2zM814 329h2v1h-2zM806 325h2v1h-2zM970 433h3v1h-3zM754 292h2v1h-2zM1153 491h4v1h-4zM573 181h4v1h-4zM74 160h3v1h-3zM526 160h2v1h-2zM269 106h4v1h-4zM393 106h4v1h-4zM1070 470h3v1h-3zM1064 467h2v1h-2zM1133 485h4v1h-4zM775 305h2v1h-2zM794 318h2v1h-2zM777 306h1v1h-1zM140 126h2v1h-2zM440 126h2v1h-2zM1097 477h4v1h-4zM895 382h2v1h-2zM172 113h2v1h-2zM181 113h4v1h-4zM249 113h4v1h-4zM415 113h2v1h-2zM150 121h2v1h-2zM431 121h2v1h-2zM988 439h2v1h-2zM1052 460h2v1h-2zM951 417h1v1h-1zM607 194h2v1h-2zM763 298h2v1h-2zM600 191h2v1h-2zM872 366h2v1h-2zM570 180h3v1h-3zM695 261h2v1h-2zM273 105h4v1h-4zM389 105h4v1h-4zM697 262h1v1h-1zM820 332h2v1h-2zM812 328h2v1h-2zM142 125h2v1h-2zM438 125h2v1h-2zM759 295h2v1h-2zM905 389h1v1h-1zM906 390h1v1h-1zM860 359h1v1h-1zM113 143h1v1h-1zM482 143h2v1h-2zM120 139h1v1h-1zM473 139h3v1h-3zM681 249h1v1h-1zM799 321h2v1h-2zM618 201h1v1h-1zM629 210h1v1h-1zM801 322h1v1h-1zM953 419h1v1h-1zM1169 494h8v1h-8zM774 304h1v1h-1zM1093 476h4v1h-4zM901 386h1v1h-1zM882 372h2v1h-2zM1000 445h2v1h-2zM837 342h1v1h-1zM1002 446h2v1h-2zM994 442h2v1h-2zM688 255h1v1h-1zM63 167h2v1h-2zM538 167h2v1h-2zM612 197h2v1h-2zM768 301h2v1h-2zM614 198h1v1h-1zM762 297h1v1h-1zM907 391h2v1h-2zM870 365h2v1h-2zM862 361h2v1h-2zM683 251h2v1h-2zM694 260h1v1h-1zM68 164h2v1h-2zM534 164h1v1h-1zM82 156h3v1h-3zM518 156h2v1h-2zM783 310h2v1h-2zM620 203h1v1h-1zM756 293h2v1h-2zM758 294h1v1h-1zM750 290h2v1h-2zM308 94h2v1h-2zM336 94h2v1h-2zM1149 490h4v1h-4zM114 142h3v1h-3zM480 142h2v1h-2zM33 177h4v1h-4zM561 177h4v1h-4zM1068 469h2v1h-2zM804 324h2v1h-2zM690 257h1v1h-1zM615 199h2v1h-2zM778 307h2v1h-2zM738 283h2v1h-2zM998 444h2v1h-2zM992 441h2v1h-2zM1055 462h2v1h-2zM793 317h1v1h-1zM137 128h1v1h-1zM444 128h2v1h-2zM965 429h1v1h-1zM602 192h3v1h-3zM766 300h2v1h-2zM594 189h3v1h-3zM565 178h3v1h-3zM605 193h2v1h-2zM789 314h1v1h-1zM935 404h2v1h-2zM1145 489h4v1h-4zM568 179h2v1h-2zM121 138h1v1h-1zM470 138h3v1h-3zM1058 464h2v1h-2zM785 311h1v1h-1zM921 397h3v1h-3zM743 286h2v1h-2zM736 282h2v1h-2zM1004 447h2v1h-2zM1060 465h2v1h-2zM627 209h2v1h-2zM943 410h2v1h-2zM772 303h2v1h-2zM791 316h2v1h-2zM617 200h1v1h-1zM765 299h1v1h-1zM305 95h3v1h-3zM338 95h3v1h-3zM731 279h2v1h-2zM1142 488h3v1h-3zM724 275h2v1h-2zM1196 499h2v1h-2zM984 437h2v1h-2zM622 205h1v1h-1zM634 215h1v1h-1zM939 407h2v1h-2zM786 312h1v1h-1zM958 424h1v1h-1zM761 296h1v1h-1zM726 276h2v1h-2zM126 135h1v1h-1zM462 135h3v1h-3zM861 360h1v1h-1zM782 309h1v1h-1zM947 413h1v1h-1zM619 202h1v1h-1zM748 289h2v1h-2zM796 319h2v1h-2zM942 409h1v1h-1zM770 302h2v1h-2zM1021 450h4v1h-4zM1193 498h3v1h-3zM996 443h2v1h-2zM990 440h2v1h-2zM677 245h1v1h-1zM609 195h1v1h-1zM1045 457h3v1h-3zM937 405h1v1h-1zM938 406h1v1h-1zM672 241h1v1h-1zM646 224h1v1h-1zM752 291h2v1h-2zM926 399h2v1h-2zM746 288h2v1h-2zM1062 466h2v1h-2zM630 211h1v1h-1zM641 220h1v1h-1zM631 212h1v1h-1zM93 152h3v1h-3zM505 152h4v1h-4zM740 284h2v1h-2zM742 285h1v1h-1zM734 281h2v1h-2zM1189 497h4v1h-4zM986 438h2v1h-2zM674 243h1v1h-1zM625 207h1v1h-1zM626 208h1v1h-1zM637 217h1v1h-1zM790 315h1v1h-1zM728 277h2v1h-2zM730 278h1v1h-1zM722 274h2v1h-2zM621 204h1v1h-1zM632 213h1v1h-1zM930 401h2v1h-2zM633 214h1v1h-1zM1089 475h4v1h-4zM665 236h1v1h-1zM945 411h1v1h-1zM1185 496h4v1h-4zM660 233h2v1h-2zM1057 463h1v1h-1zM1048 458h2v1h-2zM653 229h1v1h-1zM623 206h2v1h-2zM952 418h1v1h-1zM941 408h1v1h-1zM718 272h2v1h-2zM720 273h2v1h-2zM828 336h2v1h-2zM649 226h1v1h-1zM928 400h2v1h-2zM1066 468h2v1h-2zM670 239h1v1h-1zM671 240h1v1h-1zM954 420h1v1h-1zM584 185h2v1h-2zM890 377h1v1h-1zM745 287h1v1h-1zM838 343h2v1h-2zM1054 461h1v1h-1zM639 219h2v1h-2zM658 232h2v1h-2zM884 373h2v1h-2zM897 383h1v1h-1zM733 280h1v1h-1zM833 339h1v1h-1zM635 216h2v1h-2zM673 242h1v1h-1zM892 379h1v1h-1zM948 414h1v1h-1zM949 415h1v1h-1zM961 426h1v1h-1zM950 416h1v1h-1zM909 392h1v1h-1zM685 252h1v1h-1z" fill="#0000cd"/>
<path d="M262 97h3v1h-3zM286 97h1v1h-1zM345 97h1v1h-1zM859 369h2v1h-2zM110 101h3v1h-3zM117 101h4v1h-4zM256 101h2v1h-2zM350 101h1v1h-1zM11 170h2v1h-2zM62 170h1v1h-1zM486 170h3v1h-3zM497 170h4v1h-4zM509 170h8v1h-8zM521 170h12v1h-12zM997 459h3v1h-3zM1013 459h20v1h-20zM71 150h1v1h-1zM464 150h1v1h-1zM73 146h1v1h-1zM459 146h2v1h-2zM113 100h4v1h-4zM258 100h1v1h-1zM273 100h8v1h-8zM349 100h1v1h-1zM79 136h1v1h-1zM447 136h2v1h-2zM1089 492h1v1h-1zM1118 492h3v1h-3zM1157 492h12v1h-12zM1205 513h12v1h-12zM1221 513h8v1h-8zM297 89h1v1h-1zM336 89h1v1h-1zM18 176h1v1h-1zM60 176h1v1h-1zM546 176h3v1h-3zM89 119h1v1h-1zM150 119h1v1h-1zM196 119h2v1h-2zM372 119h2v1h-2zM105 105h1v1h-1zM125 105h1v1h-1zM225 105h1v1h-1zM229 105h12v1h-12zM353 105h1v1h-1zM672 267h2v1h-2zM96 114h1v1h-1zM140 114h2v1h-2zM209 114h1v1h-1zM363 114h2v1h-2zM104 106h1v1h-1zM126 106h2v1h-2zM223 106h2v1h-2zM354 106h1v1h-1zM1093 494h12v1h-12zM1113 494h3v1h-3zM1172 494h2v1h-2zM95 115h1v1h-1zM142 115h2v1h-2zM207 115h2v1h-2zM365 115h1v1h-1zM938 432h3v1h-3zM765 314h1v1h-1zM1186 503h1v1h-1zM1246 503h2v1h-2zM873 378h1v1h-1zM799 348h1v1h-1zM1086 490h1v1h-1zM1124 490h2v1h-2zM1149 490h4v1h-4zM309 82h8v1h-8zM90 118h2v1h-2zM148 118h2v1h-2zM198 118h3v1h-3zM370 118h2v1h-2zM1053 466h1v1h-1zM845 362h4v1h-4zM16 174h1v1h-1zM61 174h1v1h-1zM541 174h3v1h-3zM80 133h1v1h-1zM443 133h2v1h-2zM910 422h3v1h-3zM917 422h2v1h-2zM1201 512h4v1h-4zM1229 512h4v1h-4zM13 171h1v1h-1zM62 171h1v1h-1zM489 171h8v1h-8zM533 171h3v1h-3zM985 452h3v1h-3zM84 128h1v1h-1zM435 128h2v1h-2zM70 152h1v1h-1zM466 152h1v1h-1zM88 122h1v1h-1zM154 122h7v1h-7zM189 122h3v1h-3zM380 122h2v1h-2zM402 122h3v1h-3zM413 122h4v1h-4zM98 111h2v1h-2zM135 111h2v1h-2zM214 111h2v1h-2zM360 111h1v1h-1zM660 260h1v1h-1zM811 357h2v1h-2zM1083 488h2v1h-2zM1133 488h8v1h-8zM67 160h1v1h-1zM475 160h1v1h-1zM97 112h1v1h-1zM137 112h1v1h-1zM212 112h2v1h-2zM361 112h1v1h-1zM813 358h1v1h-1zM821 358h4v1h-4zM869 375h1v1h-1zM721 291h8v1h-8zM862 371h2v1h-2zM106 104h1v1h-1zM124 104h1v1h-1zM226 104h3v1h-3zM241 104h8v1h-8zM352 104h1v1h-1zM9 168h1v1h-1zM63 168h1v1h-1zM484 168h1v1h-1zM82 130h1v1h-1zM438 130h2v1h-2zM303 85h2v1h-2zM331 85h2v1h-2zM85 126h1v1h-1zM173 126h7v1h-7zM432 126h2v1h-2zM86 125h1v1h-1zM169 125h4v1h-4zM180 125h2v1h-2zM389 125h4v1h-4zM429 125h3v1h-3zM1179 499h2v1h-2zM1253 499h1v1h-1zM300 87h2v1h-2zM334 87h1v1h-1zM1090 493h3v1h-3zM1116 493h2v1h-2zM1169 493h3v1h-3zM259 99h2v1h-2zM269 99h4v1h-4zM281 99h3v1h-3zM347 99h2v1h-2zM767 317h1v1h-1zM643 246h2v1h-2zM768 318h1v1h-1zM645 247h1v1h-1zM77 140h1v1h-1zM453 140h1v1h-1zM864 372h2v1h-2zM107 103h2v1h-2zM123 103h1v1h-1zM249 103h4v1h-4zM352 103h1v1h-1zM876 381h1v1h-1zM886 394h1v1h-1zM856 367h2v1h-2zM887 395h1v1h-1zM1056 469h1v1h-1zM901 415h1v1h-1zM994 458h3v1h-3zM104 107h1v1h-1zM128 107h2v1h-2zM222 107h1v1h-1zM355 107h2v1h-2zM709 290h12v1h-12zM88 121h1v1h-1zM153 121h1v1h-1zM192 121h2v1h-2zM377 121h3v1h-3zM405 121h8v1h-8zM610 216h1v1h-1zM1085 489h1v1h-1zM1126 489h7v1h-7zM1141 489h8v1h-8zM651 253h2v1h-2zM670 266h2v1h-2zM92 117h2v1h-2zM146 117h2v1h-2zM201 117h4v1h-4zM368 117h2v1h-2zM639 243h2v1h-2zM851 364h2v1h-2zM871 377h2v1h-2zM76 142h1v1h-1zM455 142h1v1h-1zM1051 465h2v1h-2zM906 420h2v1h-2zM17 175h1v1h-1zM60 175h1v1h-1zM544 175h2v1h-2zM837 361h8v1h-8zM72 149h1v1h-1zM463 149h1v1h-1zM908 421h2v1h-2zM991 455h1v1h-1zM981 451h4v1h-4zM967 444h2v1h-2zM748 297h2v1h-2zM635 240h2v1h-2zM606 213h1v1h-1zM100 110h2v1h-2zM134 110h1v1h-1zM216 110h2v1h-2zM359 110h1v1h-1zM770 320h1v1h-1zM866 373h1v1h-1zM732 293h2v1h-2zM737 293h4v1h-4zM867 374h2v1h-2zM889 398h1v1h-1zM892 403h1v1h-1zM893 404h1v1h-1zM20 178h1v1h-1zM59 178h1v1h-1zM551 178h2v1h-2zM903 417h1v1h-1zM705 289h4v1h-4zM83 129h1v1h-1zM437 129h1v1h-1zM814 359h7v1h-7zM825 359h4v1h-4zM84 127h1v1h-1zM434 127h1v1h-1zM697 286h3v1h-3zM829 360h8v1h-8zM67 159h1v1h-1zM474 159h1v1h-1zM1105 495h8v1h-8zM1174 495h1v1h-1zM600 209h2v1h-2zM27 184h2v1h-2zM55 184h1v1h-1zM559 184h1v1h-1zM776 326h1v1h-1zM103 108h1v1h-1zM130 108h2v1h-2zM220 108h2v1h-2zM357 108h1v1h-1zM602 210h1v1h-1zM806 354h2v1h-2zM109 102h1v1h-1zM121 102h2v1h-2zM253 102h3v1h-3zM351 102h1v1h-1zM777 327h1v1h-1zM854 366h2v1h-2zM32 187h2v1h-2zM41 187h4v1h-4zM49 187h4v1h-4zM562 187h2v1h-2zM933 430h3v1h-3zM1071 481h2v1h-2zM77 139h1v1h-1zM451 139h2v1h-2zM72 148h1v1h-1zM462 148h1v1h-1zM70 154h1v1h-1zM468 154h1v1h-1zM1178 498h1v1h-1zM1254 498h1v1h-1zM674 268h1v1h-1zM655 256h2v1h-2zM675 269h1v1h-1zM757 303h2v1h-2zM66 161h1v1h-1zM476 161h1v1h-1zM801 350h1v1h-1zM936 431h2v1h-2zM849 363h2v1h-2zM87 124h1v1h-1zM165 124h4v1h-4zM182 124h3v1h-3zM385 124h4v1h-4zM393 124h7v1h-7zM425 124h4v1h-4zM1002 461h7v1h-7zM1037 461h3v1h-3zM79 135h1v1h-1zM446 135h1v1h-1zM75 144h1v1h-1zM457 144h1v1h-1zM1045 464h6v1h-6zM5 164h1v1h-1zM65 164h1v1h-1zM479 164h2v1h-2zM978 450h3v1h-3zM74 145h1v1h-1zM458 145h1v1h-1zM1181 500h1v1h-1zM1251 500h2v1h-2zM972 447h2v1h-2zM87 123h1v1h-1zM161 123h4v1h-4zM185 123h4v1h-4zM382 123h3v1h-3zM400 123h2v1h-2zM417 123h8v1h-8zM302 86h1v1h-1zM333 86h1v1h-1zM306 83h3v1h-3zM317 83h12v1h-12zM603 211h2v1h-2zM662 262h2v1h-2zM287 96h2v1h-2zM344 96h1v1h-1zM779 329h1v1h-1zM1196 510h2v1h-2zM1235 510h2v1h-2zM96 113h1v1h-1zM138 113h2v1h-2zM210 113h2v1h-2zM362 113h1v1h-1zM702 288h3v1h-3zM694 285h3v1h-3zM294 92h1v1h-1zM339 92h2v1h-2zM760 306h1v1h-1zM647 249h1v1h-1zM618 222h1v1h-1zM658 258h1v1h-1zM1187 504h1v1h-1zM1244 504h2v1h-2zM597 208h3v1h-3zM659 259h1v1h-1zM803 352h2v1h-2zM583 201h2v1h-2zM930 429h3v1h-3zM1076 484h2v1h-2zM1087 491h2v1h-2zM1121 491h3v1h-3zM1153 491h4v1h-4zM7 166h1v1h-1zM64 166h1v1h-1zM482 166h1v1h-1zM68 157h1v1h-1zM471 157h2v1h-2zM261 98h1v1h-1zM265 98h4v1h-4zM284 98h2v1h-2zM346 98h1v1h-1zM754 302h3v1h-3zM613 218h1v1h-1zM653 254h1v1h-1zM654 255h1v1h-1zM766 316h1v1h-1zM781 332h1v1h-1zM941 433h4v1h-4zM874 379h1v1h-1zM1000 460h2v1h-2zM1009 460h4v1h-4zM1033 460h4v1h-4zM875 380h1v1h-1zM913 423h4v1h-4zM919 423h2v1h-2zM1054 467h1v1h-1zM2 162h1v1h-1zM66 162h1v1h-1zM477 162h1v1h-1zM993 457h1v1h-1zM25 182h1v1h-1zM57 182h1v1h-1zM557 182h1v1h-1zM3 163h2v1h-2zM66 163h1v1h-1zM478 163h1v1h-1zM14 172h1v1h-1zM62 172h1v1h-1zM536 172h2v1h-2zM30 186h2v1h-2zM45 186h4v1h-4zM53 186h2v1h-2zM561 186h1v1h-1zM970 446h2v1h-2zM750 298h1v1h-1zM962 442h3v1h-3zM607 214h2v1h-2zM668 265h2v1h-2zM772 322h1v1h-1zM751 299h1v1h-1zM638 242h1v1h-1zM609 215h1v1h-1zM649 251h1v1h-1zM620 224h1v1h-1zM773 323h1v1h-1zM650 252h1v1h-1zM661 261h1v1h-1zM23 181h2v1h-2zM57 181h1v1h-1zM555 181h2v1h-2zM574 194h2v1h-2zM1198 511h3v1h-3zM1233 511h2v1h-2zM870 376h1v1h-1zM19 177h1v1h-1zM59 177h1v1h-1zM549 177h2v1h-2zM693 284h1v1h-1zM593 207h4v1h-4zM615 220h2v1h-2zM746 296h2v1h-2zM605 212h1v1h-1zM78 137h1v1h-1zM449 137h1v1h-1zM10 169h1v1h-1zM63 169h1v1h-1zM485 169h1v1h-1zM501 169h8v1h-8zM517 169h4v1h-4zM783 334h1v1h-1zM876 382h1v1h-1zM1082 487h1v1h-1zM877 383h1v1h-1zM928 428h2v1h-2zM1194 509h2v1h-2zM1237 509h1v1h-1zM887 396h1v1h-1zM1074 483h2v1h-2zM891 402h1v1h-1zM774 324h1v1h-1zM753 301h1v1h-1zM611 217h2v1h-2zM775 325h1v1h-1zM922 425h2v1h-2zM26 183h1v1h-1zM56 183h1v1h-1zM558 183h1v1h-1zM34 188h7v1h-7zM564 188h2v1h-2zM853 365h1v1h-1zM1042 463h3v1h-3zM974 448h2v1h-2zM976 449h2v1h-2zM683 277h2v1h-2zM94 116h1v1h-1zM144 116h2v1h-2zM205 116h2v1h-2zM366 116h2v1h-2zM664 263h2v1h-2zM685 278h1v1h-1zM1188 505h1v1h-1zM1242 505h2v1h-2zM666 264h2v1h-2zM734 294h3v1h-3zM741 294h3v1h-3zM290 94h2v1h-2zM342 94h1v1h-1zM102 109h1v1h-1zM132 109h2v1h-2zM218 109h2v1h-2zM358 109h1v1h-1zM878 384h1v1h-1zM1065 476h1v1h-1zM22 180h1v1h-1zM58 180h1v1h-1zM554 180h1v1h-1zM889 399h1v1h-1zM879 385h1v1h-1zM15 173h1v1h-1zM61 173h1v1h-1zM538 173h3v1h-3zM893 405h1v1h-1zM70 153h1v1h-1zM467 153h1v1h-1zM75 143h1v1h-1zM456 143h1v1h-1zM679 273h1v1h-1zM289 95h1v1h-1zM343 95h1v1h-1zM955 438h2v1h-2zM680 274h1v1h-1zM29 185h1v1h-1zM55 185h1v1h-1zM560 185h1v1h-1zM292 93h2v1h-2zM341 93h1v1h-1zM568 190h2v1h-2zM1078 485h2v1h-2zM1061 473h1v1h-1zM1080 486h2v1h-2zM68 158h1v1h-1zM473 158h1v1h-1zM700 287h2v1h-2zM295 91h1v1h-1zM338 91h1v1h-1zM1217 514h4v1h-4zM1182 501h2v1h-2zM1250 501h1v1h-1zM686 279h2v1h-2zM89 120h1v1h-1zM151 120h2v1h-2zM194 120h2v1h-2zM374 120h3v1h-3zM657 257h1v1h-1zM858 368h1v1h-1zM881 388h1v1h-1zM921 424h1v1h-1zM891 401h1v1h-1zM1057 470h1v1h-1zM895 407h1v1h-1zM69 155h1v1h-1zM469 155h1v1h-1zM6 165h1v1h-1zM65 165h1v1h-1zM481 165h1v1h-1zM69 156h1v1h-1zM470 156h1v1h-1zM688 280h2v1h-2zM622 226h1v1h-1zM682 276h1v1h-1zM576 195h2v1h-2zM578 196h1v1h-1zM1063 475h2v1h-2zM1177 497h1v1h-1zM969 445h1v1h-1zM21 179h1v1h-1zM58 179h1v1h-1zM553 179h1v1h-1zM960 441h2v1h-2zM305 84h1v1h-1zM329 84h2v1h-2zM954 437h1v1h-1zM764 313h1v1h-1zM771 321h1v1h-1zM590 206h3v1h-3zM566 189h2v1h-2zM1058 471h1v1h-1zM883 390h1v1h-1zM1059 472h2v1h-2zM897 410h1v1h-1zM691 282h1v1h-1zM692 283h1v1h-1zM625 229h1v1h-1zM926 427h2v1h-2zM1073 482h1v1h-1zM1040 462h2v1h-2zM676 270h1v1h-1zM759 304h1v1h-1zM762 309h1v1h-1zM1067 478h2v1h-2zM885 393h1v1h-1zM1069 479h1v1h-1zM1175 496h2v1h-2zM965 443h2v1h-2zM958 440h2v1h-2zM589 205h1v1h-1zM78 138h1v1h-1zM450 138h1v1h-1zM780 330h1v1h-1zM570 191h1v1h-1zM571 192h2v1h-2zM1189 506h1v1h-1zM1241 506h1v1h-1zM71 151h1v1h-1zM465 151h1v1h-1zM678 272h1v1h-1zM764 312h1v1h-1zM585 202h1v1h-1zM729 292h3v1h-3zM861 370h1v1h-1zM924 426h2v1h-2zM1070 480h1v1h-1zM1184 502h2v1h-2zM1248 502h2v1h-2zM8 167h1v1h-1zM64 167h1v1h-1zM483 167h1v1h-1zM73 147h1v1h-1zM461 147h1v1h-1zM902 416h1v1h-1zM614 219h1v1h-1zM296 90h1v1h-1zM337 90h1v1h-1zM629 234h1v1h-1zM580 198h1v1h-1zM793 342h1v1h-1zM581 199h1v1h-1zM1055 468h1v1h-1zM1066 477h1v1h-1zM298 88h2v1h-2zM335 88h1v1h-1zM752 300h1v1h-1zM621 225h1v1h-1zM81 131h1v1h-1zM440 131h2v1h-2zM744 295h2v1h-2zM957 439h1v1h-1zM949 435h3v1h-3zM788 338h2v1h-2zM587 204h2v1h-2zM1192 508h2v1h-2zM1238 508h1v1h-1zM1062 474h1v1h-1zM904 418h1v1h-1zM627 231h1v1h-1zM952 436h2v1h-2zM784 335h1v1h-1zM582 200h1v1h-1zM795 344h1v1h-1zM785 336h1v1h-1zM895 408h1v1h-1zM896 409h1v1h-1zM690 281h1v1h-1zM623 227h1v1h-1zM624 228h1v1h-1zM802 351h1v1h-1zM761 308h1v1h-1zM573 193h1v1h-1zM786 337h2v1h-2zM880 386h1v1h-1zM1190 507h2v1h-2zM1239 507h2v1h-2zM894 406h1v1h-1zM884 392h1v1h-1zM897 411h1v1h-1zM898 412h1v1h-1zM81 132h1v1h-1zM442 132h1v1h-1zM681 275h1v1h-1zM778 328h1v1h-1zM759 305h1v1h-1zM617 221h1v1h-1zM763 311h1v1h-1zM899 413h1v1h-1zM900 414h1v1h-1zM780 331h1v1h-1zM791 340h1v1h-1zM628 233h1v1h-1zM579 197h1v1h-1zM792 341h1v1h-1zM945 434h4v1h-4zM761 307h1v1h-1zM619 223h1v1h-1zM634 239h1v1h-1zM798 347h1v1h-1zM586 203h1v1h-1zM884 391h1v1h-1zM888 397h1v1h-1zM76 141h1v1h-1zM454 141h1v1h-1zM626 230h1v1h-1zM782 333h1v1h-1zM805 353h1v1h-1zM763 310h1v1h-1zM800 349h1v1h-1zM890 400h1v1h-1zM80 134h1v1h-1zM445 134h1v1h-1zM628 232h1v1h-1zM988 453h2v1h-2zM990 454h1v1h-1zM769 319h1v1h-1zM808 355h2v1h-2zM646 248h1v1h-1zM810 356h1v1h-1zM630 235h1v1h-1zM641 244h1v1h-1zM794 343h1v1h-1zM631 236h1v1h-1zM642 245h1v1h-1zM765 315h1v1h-1zM880 387h1v1h-1zM992 456h1v1h-1zM637 241h1v1h-1zM648 250h1v1h-1zM790 339h1v1h-1zM905 419h1v1h-1zM632 237h1v1h-1zM796 345h1v1h-1zM633 238h1v1h-1zM797 346h1v1h-1zM882 389h1v1h-1zM677 271h1v1h-1z" fill="#ff0000"/>
<path d="M805 372h1v1h-1zM818 372h1v1h-1zM853 372h1v1h-1zM963 461h1v1h-1zM974 461h2v1h-2zM998 461h2v1h-2zM1012 461h1v1h-1zM1034 461h1v1h-1zM70 105h1v1h-1zM93 105h1v1h-1zM95 105h1v1h-1zM101 105h1v1h-1zM105 105h1v1h-1zM108 105h2v1h-2zM112 105h2v1h-2zM117 105h3v1h-3zM123 105h1v1h-1zM215 105h1v1h-1zM241 105h2v1h-2zM252 105h1v1h-1zM332 105h1v1h-1zM61 137h1v1h-1zM149 137h1v1h-1zM151 137h2v1h-2zM436 137h1v1h-1zM226 88h1v1h-1zM288 88h1v1h-1zM324 88h1v1h-1zM70 104h1v1h-1zM91 104h2v1h-2zM96 104h1v1h-1zM100 104h1v1h-1zM106 104h2v1h-2zM114 104h3v1h-3zM120 104h2v1h-2zM123 104h1v1h-1zM216 104h1v1h-1zM238 104h3v1h-3zM253 104h1v1h-1zM331 104h1v1h-1zM958 455h1v1h-1zM984 455h2v1h-2zM989 455h2v1h-2zM64 128h1v1h-1zM138 128h1v1h-1zM160 128h1v1h-1zM346 128h9v1h-9zM393 128h4v1h-4zM431 128h1v1h-1zM1065 497h1v1h-1zM1078 497h3v1h-3zM1085 497h4v1h-4zM1146 497h3v1h-3zM1151 497h1v1h-1zM1161 497h1v1h-1zM1170 497h1v1h-1zM1225 497h3v1h-3zM1238 497h2v1h-2zM901 431h1v1h-1zM918 431h3v1h-3zM925 431h2v1h-2zM937 431h3v1h-3zM631 258h1v1h-1zM60 140h1v1h-1zM438 140h1v1h-1zM65 123h1v1h-1zM135 123h1v1h-1zM167 123h1v1h-1zM343 123h1v1h-1zM363 123h1v1h-1zM386 123h1v1h-1zM405 123h1v1h-1zM422 123h2v1h-2zM634 263h3v1h-3zM1068 501h1v1h-1zM1075 501h1v1h-1zM1157 501h2v1h-2zM1175 501h1v1h-1zM1220 501h1v1h-1zM753 328h2v1h-2zM1042 467h2v1h-2zM1196 525h2v1h-2zM1203 525h2v1h-2zM66 119h1v1h-1zM133 119h1v1h-1zM171 119h2v1h-2zM341 119h1v1h-1zM369 119h4v1h-4zM377 119h4v1h-4zM410 119h6v1h-6zM1057 487h1v1h-1zM1104 487h2v1h-2zM1109 487h3v1h-3zM1125 487h4v1h-4zM1139 487h1v1h-1zM1068 500h1v1h-1zM1076 500h1v1h-1zM1154 500h3v1h-3zM1159 500h1v1h-1zM1174 500h1v1h-1zM1221 500h1v1h-1zM3 172h1v1h-1zM44 172h1v1h-1zM474 172h3v1h-3zM496 172h1v1h-1zM528 172h2v1h-2zM72 98h1v1h-1zM85 98h1v1h-1zM220 98h1v1h-1zM233 98h1v1h-1zM259 98h2v1h-2zM329 98h1v1h-1zM1061 493h1v1h-1zM1097 493h2v1h-2zM1143 493h1v1h-1zM1247 493h2v1h-2zM902 432h1v1h-1zM917 432h1v1h-1zM921 432h4v1h-4zM940 432h2v1h-2zM896 425h1v1h-1zM59 145h1v1h-1zM440 145h1v1h-1zM952 442h1v1h-1zM676 278h1v1h-1zM719 278h1v1h-1zM728 278h1v1h-1zM47 165h1v1h-1zM453 165h3v1h-3zM503 165h2v1h-2zM518 165h1v1h-1zM301 72h3v1h-3zM315 72h1v1h-1zM65 124h1v1h-1zM136 124h1v1h-1zM166 124h1v1h-1zM344 124h1v1h-1zM361 124h2v1h-2zM387 124h1v1h-1zM403 124h2v1h-2zM424 124h2v1h-2zM679 283h1v1h-1zM713 283h1v1h-1zM731 283h1v1h-1zM622 243h1v1h-1zM69 107h1v1h-1zM102 107h1v1h-1zM124 107h1v1h-1zM213 107h1v1h-1zM244 107h1v1h-1zM251 107h1v1h-1zM333 107h1v1h-1zM764 341h1v1h-1zM773 341h2v1h-2zM782 341h3v1h-3zM787 341h1v1h-1zM65 125h1v1h-1zM136 125h1v1h-1zM164 125h2v1h-2zM344 125h1v1h-1zM358 125h3v1h-3zM388 125h1v1h-1zM402 125h1v1h-1zM426 125h2v1h-2zM798 361h1v1h-1zM823 361h1v1h-1zM848 361h1v1h-1zM63 130h1v1h-1zM139 130h1v1h-1zM158 130h1v1h-1zM432 130h1v1h-1zM686 299h1v1h-1zM704 299h1v1h-1zM737 299h1v1h-1zM225 90h1v1h-1zM228 90h1v1h-1zM287 90h1v1h-1zM325 90h1v1h-1zM644 267h2v1h-2zM651 267h2v1h-2zM658 267h2v1h-2zM63 131h1v1h-1zM140 131h1v1h-1zM157 131h1v1h-1zM433 131h1v1h-1zM59 143h1v1h-1zM439 143h1v1h-1zM813 377h2v1h-2zM854 377h1v1h-1zM637 264h3v1h-3zM4 173h1v1h-1zM43 173h1v1h-1zM477 173h2v1h-2zM495 173h1v1h-1zM530 173h1v1h-1zM5 176h1v1h-1zM42 176h1v1h-1zM482 176h3v1h-3zM488 176h2v1h-2zM534 176h1v1h-1zM1049 472h1v1h-1zM64 127h1v1h-1zM137 127h1v1h-1zM161 127h1v1h-1zM345 127h1v1h-1zM355 127h2v1h-2zM390 127h3v1h-3zM397 127h3v1h-3zM430 127h1v1h-1zM1053 479h1v1h-1zM68 112h1v1h-1zM130 112h1v1h-1zM186 112h2v1h-2zM196 112h2v1h-2zM209 112h1v1h-1zM336 112h1v1h-1zM64 126h1v1h-1zM137 126h1v1h-1zM162 126h2v1h-2zM345 126h1v1h-1zM357 126h1v1h-1zM389 126h1v1h-1zM400 126h2v1h-2zM428 126h2v1h-2zM72 97h1v1h-1zM84 97h1v1h-1zM221 97h1v1h-1zM232 97h1v1h-1zM261 97h1v1h-1zM328 97h1v1h-1zM66 122h1v1h-1zM135 122h1v1h-1zM168 122h1v1h-1zM343 122h1v1h-1zM364 122h1v1h-1zM385 122h1v1h-1zM406 122h1v1h-1zM420 122h2v1h-2zM869 411h1v1h-1zM872 411h2v1h-2zM888 411h1v1h-1zM679 284h1v1h-1zM713 284h1v1h-1zM731 284h1v1h-1zM858 388h1v1h-1zM1057 488h1v1h-1zM1102 488h2v1h-2zM1112 488h2v1h-2zM1117 488h8v1h-8zM1140 488h1v1h-1zM70 103h1v1h-1zM90 103h1v1h-1zM96 103h1v1h-1zM99 103h1v1h-1zM122 103h1v1h-1zM216 103h1v1h-1zM237 103h1v1h-1zM254 103h1v1h-1zM331 103h1v1h-1zM74 93h1v1h-1zM80 93h2v1h-2zM223 93h1v1h-1zM230 93h1v1h-1zM266 93h6v1h-6zM282 93h2v1h-2zM327 93h1v1h-1zM289 87h1v1h-1zM323 87h1v1h-1zM864 404h1v1h-1zM1055 484h1v1h-1zM1132 484h1v1h-1zM1137 484h1v1h-1zM224 91h1v1h-1zM228 91h1v1h-1zM286 91h1v1h-1zM326 91h1v1h-1zM861 398h1v1h-1zM53 156h1v1h-1zM446 156h1v1h-1zM865 405h1v1h-1zM684 295h1v1h-1zM707 295h1v1h-1zM735 295h1v1h-1zM763 340h1v1h-1zM785 340h2v1h-2zM687 300h1v1h-1zM703 300h1v1h-1zM738 300h1v1h-1zM18 208h2v1h-2zM27 208h1v1h-1zM581 208h1v1h-1zM68 111h1v1h-1zM128 111h2v1h-2zM188 111h2v1h-2zM193 111h3v1h-3zM210 111h1v1h-1zM335 111h1v1h-1zM678 281h1v1h-1zM715 281h2v1h-2zM730 281h1v1h-1zM1066 498h1v1h-1zM1077 498h1v1h-1zM1152 498h1v1h-1zM1160 498h1v1h-1zM1171 498h2v1h-2zM1222 498h3v1h-3zM1228 498h2v1h-2zM1236 498h2v1h-2zM71 102h1v1h-1zM89 102h1v1h-1zM97 102h1v1h-1zM99 102h1v1h-1zM217 102h1v1h-1zM236 102h1v1h-1zM255 102h1v1h-1zM330 102h1v1h-1zM225 89h1v1h-1zM227 89h1v1h-1zM288 89h1v1h-1zM325 89h1v1h-1zM67 117h1v1h-1zM132 117h1v1h-1zM174 117h2v1h-2zM339 117h1v1h-1zM67 118h1v1h-1zM133 118h1v1h-1zM173 118h1v1h-1zM340 118h1v1h-1zM373 118h4v1h-4zM22 210h3v1h-3zM583 210h1v1h-1zM1064 496h1v1h-1zM1081 496h4v1h-4zM1089 496h3v1h-3zM1145 496h1v1h-1zM1149 496h2v1h-2zM1162 496h3v1h-3zM1168 496h2v1h-2zM1240 496h2v1h-2zM803 371h2v1h-2zM818 371h1v1h-1zM852 371h1v1h-1zM1177 504h1v1h-1zM1219 504h1v1h-1zM1177 505h1v1h-1zM1218 505h1v1h-1zM68 113h1v1h-1zM130 113h1v1h-1zM184 113h2v1h-2zM198 113h5v1h-5zM208 113h1v1h-1zM336 113h1v1h-1zM964 462h1v1h-1zM973 462h1v1h-1zM1000 462h2v1h-2zM1011 462h1v1h-1zM1035 462h2v1h-2zM4 174h1v1h-1zM43 174h1v1h-1zM479 174h2v1h-2zM493 174h2v1h-2zM531 174h2v1h-2zM71 101h1v1h-1zM88 101h1v1h-1zM98 101h1v1h-1zM218 101h1v1h-1zM235 101h1v1h-1zM256 101h1v1h-1zM330 101h1v1h-1zM70 106h1v1h-1zM94 106h1v1h-1zM101 106h1v1h-1zM103 106h2v1h-2zM110 106h2v1h-2zM124 106h1v1h-1zM214 106h1v1h-1zM243 106h1v1h-1zM252 106h1v1h-1zM332 106h1v1h-1zM866 407h1v1h-1zM881 407h1v1h-1zM883 407h2v1h-2zM59 146h1v1h-1zM441 146h1v1h-1zM675 275h1v1h-1zM722 275h3v1h-3zM727 275h1v1h-1zM894 422h1v1h-1zM58 148h1v1h-1zM442 148h1v1h-1zM677 280h1v1h-1zM717 280h1v1h-1zM729 280h1v1h-1zM1063 495h1v1h-1zM1092 495h2v1h-2zM1144 495h1v1h-1zM1165 495h3v1h-3zM1242 495h3v1h-3zM16 203h1v1h-1zM30 203h2v1h-2zM570 203h2v1h-2zM961 459h1v1h-1zM978 459h1v1h-1zM994 459h2v1h-2zM1014 459h2v1h-2zM1031 459h2v1h-2zM966 464h3v1h-3zM971 464h1v1h-1zM1004 464h2v1h-2zM1008 464h2v1h-2zM1038 464h1v1h-1zM689 304h1v1h-1zM700 304h1v1h-1zM740 304h1v1h-1zM15 201h1v1h-1zM34 201h1v1h-1zM567 201h2v1h-2zM62 133h1v1h-1zM141 133h1v1h-1zM156 133h1v1h-1zM434 133h1v1h-1zM2 169h1v1h-1zM45 169h1v1h-1zM469 169h1v1h-1zM498 169h1v1h-1zM522 169h2v1h-2zM796 357h1v1h-1zM825 357h1v1h-1zM846 357h1v1h-1zM969 465h2v1h-2zM1006 465h2v1h-2zM1039 465h2v1h-2zM685 297h1v1h-1zM705 297h1v1h-1zM736 297h1v1h-1zM800 364h1v1h-1zM822 364h1v1h-1zM850 364h1v1h-1zM797 358h1v1h-1zM825 358h1v1h-1zM847 358h1v1h-1zM61 138h1v1h-1zM150 138h1v1h-1zM437 138h1v1h-1zM46 166h1v1h-1zM456 166h2v1h-2zM461 166h4v1h-4zM502 166h1v1h-1zM519 166h1v1h-1zM958 454h1v1h-1zM986 454h3v1h-3zM807 374h2v1h-2zM816 374h1v1h-1zM853 374h1v1h-1zM1194 524h2v1h-2zM1205 524h1v1h-1zM1051 475h1v1h-1zM12 193h1v1h-1zM36 193h1v1h-1zM549 193h2v1h-2zM1179 507h1v1h-1zM1217 507h1v1h-1zM859 390h1v1h-1zM890 414h1v1h-1zM10 190h1v1h-1zM37 190h1v1h-1zM542 190h2v1h-2zM960 458h1v1h-1zM979 458h2v1h-2zM993 458h1v1h-1zM1016 458h2v1h-2zM1021 458h10v1h-10zM906 437h2v1h-2zM912 437h1v1h-1zM948 437h1v1h-1zM66 121h1v1h-1zM134 121h1v1h-1zM169 121h1v1h-1zM342 121h1v1h-1zM365 121h1v1h-1zM383 121h2v1h-2zM407 121h2v1h-2zM418 121h2v1h-2zM868 410h1v1h-1zM874 410h3v1h-3zM887 410h1v1h-1zM904 435h1v1h-1zM914 435h1v1h-1zM946 435h1v1h-1zM685 296h1v1h-1zM706 296h1v1h-1zM736 296h1v1h-1zM67 115h1v1h-1zM131 115h1v1h-1zM178 115h3v1h-3zM205 115h1v1h-1zM207 115h1v1h-1zM337 115h1v1h-1zM766 343h3v1h-3zM776 343h1v1h-1zM780 343h1v1h-1zM788 343h1v1h-1zM690 306h1v1h-1zM698 306h1v1h-1zM741 306h1v1h-1zM899 428h1v1h-1zM930 428h2v1h-2zM777 344h1v1h-1zM779 344h1v1h-1zM789 344h1v1h-1zM48 164h1v1h-1zM450 164h3v1h-3zM505 164h1v1h-1zM516 164h2v1h-2zM74 92h6v1h-6zM224 92h1v1h-1zM229 92h1v1h-1zM284 92h2v1h-2zM326 92h1v1h-1zM66 120h1v1h-1zM134 120h1v1h-1zM170 120h1v1h-1zM342 120h1v1h-1zM366 120h3v1h-3zM381 120h2v1h-2zM409 120h1v1h-1zM416 120h2v1h-2zM68 114h1v1h-1zM131 114h1v1h-1zM181 114h3v1h-3zM203 114h2v1h-2zM208 114h1v1h-1zM337 114h1v1h-1zM61 135h1v1h-1zM142 135h5v1h-5zM154 135h1v1h-1zM435 135h1v1h-1zM642 266h2v1h-2zM653 266h1v1h-1zM656 266h2v1h-2zM744 313h1v1h-1zM45 168h1v1h-1zM467 168h2v1h-2zM499 168h2v1h-2zM521 168h1v1h-1zM1067 499h1v1h-1zM1076 499h1v1h-1zM1153 499h1v1h-1zM1160 499h1v1h-1zM1173 499h1v1h-1zM1221 499h1v1h-1zM1230 499h6v1h-6zM1190 521h1v1h-1zM1207 521h1v1h-1zM3 171h1v1h-1zM44 171h1v1h-1zM472 171h2v1h-2zM496 171h1v1h-1zM526 171h2v1h-2zM759 334h1v1h-1zM9 186h1v1h-1zM39 186h1v1h-1zM538 186h1v1h-1zM762 339h1v1h-1zM60 139h1v1h-1zM437 139h1v1h-1zM896 424h1v1h-1zM59 144h1v1h-1zM440 144h1v1h-1zM1069 502h1v1h-1zM1073 502h2v1h-2zM1175 502h1v1h-1zM1220 502h1v1h-1zM676 277h1v1h-1zM720 277h1v1h-1zM728 277h1v1h-1zM800 366h1v1h-1zM821 366h1v1h-1zM850 366h1v1h-1zM900 430h1v1h-1zM927 430h2v1h-2zM934 430h3v1h-3zM609 223h1v1h-1zM17 204h1v1h-1zM29 204h1v1h-1zM572 204h2v1h-2zM806 373h1v1h-1zM817 373h1v1h-1zM853 373h1v1h-1zM50 161h1v1h-1zM448 161h1v1h-1zM683 293h1v1h-1zM708 293h1v1h-1zM734 293h1v1h-1zM69 110h1v1h-1zM126 110h2v1h-2zM190 110h3v1h-3zM211 110h1v1h-1zM335 110h1v1h-1zM298 73h3v1h-3zM315 73h1v1h-1zM686 298h1v1h-1zM705 298h1v1h-1zM737 298h1v1h-1zM12 194h1v1h-1zM36 194h1v1h-1zM551 194h2v1h-2zM60 142h1v1h-1zM439 142h1v1h-1zM73 96h1v1h-1zM84 96h1v1h-1zM221 96h1v1h-1zM232 96h1v1h-1zM262 96h1v1h-1zM277 96h2v1h-2zM328 96h1v1h-1zM294 80h1v1h-1zM318 80h1v1h-1zM11 191h1v1h-1zM37 191h1v1h-1zM544 191h2v1h-2zM858 387h1v1h-1zM2 170h1v1h-1zM44 170h1v1h-1zM470 170h2v1h-2zM497 170h1v1h-1zM524 170h2v1h-2zM1055 483h1v1h-1zM1133 483h1v1h-1zM1135 483h2v1h-2zM67 116h1v1h-1zM132 116h1v1h-1zM176 116h2v1h-2zM206 116h1v1h-1zM338 116h1v1h-1zM69 108h1v1h-1zM125 108h1v1h-1zM212 108h1v1h-1zM245 108h1v1h-1zM249 108h2v1h-2zM333 108h1v1h-1zM619 239h1v1h-1zM960 457h1v1h-1zM981 457h1v1h-1zM992 457h1v1h-1zM1018 457h3v1h-3zM623 245h1v1h-1zM61 136h1v1h-1zM147 136h2v1h-2zM153 136h1v1h-1zM436 136h1v1h-1zM760 336h1v1h-1zM1044 468h2v1h-2zM682 290h1v1h-1zM709 290h1v1h-1zM733 290h1v1h-1zM6 177h1v1h-1zM42 177h1v1h-1zM485 177h3v1h-3zM534 177h1v1h-1zM749 326h1v1h-1zM1062 494h1v1h-1zM1094 494h3v1h-3zM1144 494h1v1h-1zM1245 494h2v1h-2zM293 82h1v1h-1zM320 82h1v1h-1zM11 192h1v1h-1zM37 192h1v1h-1zM546 192h3v1h-3zM10 188h1v1h-1zM38 188h1v1h-1zM540 188h1v1h-1zM898 427h1v1h-1zM10 189h1v1h-1zM38 189h1v1h-1zM541 189h1v1h-1zM15 200h1v1h-1zM34 200h1v1h-1zM566 200h1v1h-1zM611 225h1v1h-1zM49 163h1v1h-1zM449 163h1v1h-1zM506 163h10v1h-10zM20 209h2v1h-2zM25 209h2v1h-2zM582 209h1v1h-1zM597 221h10v1h-10zM612 226h1v1h-1zM615 231h1v1h-1zM8 184h1v1h-1zM39 184h1v1h-1zM537 184h1v1h-1zM962 460h1v1h-1zM976 460h2v1h-2zM996 460h2v1h-2zM1013 460h1v1h-1zM1033 460h1v1h-1zM680 285h1v1h-1zM712 285h1v1h-1zM731 285h1v1h-1zM640 265h2v1h-2zM654 265h2v1h-2zM890 413h1v1h-1zM5 175h1v1h-1zM42 175h1v1h-1zM481 175h1v1h-1zM490 175h3v1h-3zM533 175h1v1h-1zM633 262h1v1h-1zM683 292h1v1h-1zM708 292h1v1h-1zM734 292h1v1h-1zM54 154h1v1h-1zM445 154h1v1h-1zM306 70h3v1h-3zM313 70h2v1h-2zM870 412h2v1h-2zM889 412h1v1h-1zM951 441h1v1h-1zM954 446h1v1h-1zM607 222h2v1h-2zM689 305h1v1h-1zM699 305h1v1h-1zM741 305h1v1h-1zM9 187h1v1h-1zM38 187h1v1h-1zM539 187h1v1h-1zM621 242h1v1h-1zM584 211h1v1h-1zM1193 523h1v1h-1zM1206 523h1v1h-1zM625 248h1v1h-1zM800 365h1v1h-1zM821 365h1v1h-1zM850 365h1v1h-1zM759 333h1v1h-1zM765 342h1v1h-1zM769 342h4v1h-4zM775 342h1v1h-1zM781 342h1v1h-1zM787 342h1v1h-1zM46 167h1v1h-1zM458 167h3v1h-3zM465 167h2v1h-2zM501 167h1v1h-1zM520 167h1v1h-1zM868 409h1v1h-1zM877 409h2v1h-2zM886 409h1v1h-1zM859 392h1v1h-1zM860 393h1v1h-1zM900 429h1v1h-1zM929 429h1v1h-1zM932 429h2v1h-2zM309 69h4v1h-4zM1060 491h1v1h-1zM1100 491h1v1h-1zM1141 491h1v1h-1zM1250 491h3v1h-3zM863 403h1v1h-1zM646 268h5v1h-5zM660 268h2v1h-2zM669 268h2v1h-2zM1060 492h1v1h-1zM1099 492h1v1h-1zM1142 492h1v1h-1zM1249 492h1v1h-1zM613 228h1v1h-1zM62 132h1v1h-1zM140 132h1v1h-1zM156 132h1v1h-1zM433 132h1v1h-1zM51 160h1v1h-1zM448 160h1v1h-1zM662 269h7v1h-7zM671 269h1v1h-1zM614 229h1v1h-1zM73 95h1v1h-1zM83 95h1v1h-1zM222 95h1v1h-1zM231 95h1v1h-1zM263 95h2v1h-2zM274 95h3v1h-3zM279 95h2v1h-2zM327 95h1v1h-1zM631 259h1v1h-1zM744 315h1v1h-1zM6 178h1v1h-1zM41 178h1v1h-1zM535 178h1v1h-1zM1070 503h3v1h-3zM1176 503h1v1h-1zM1219 503h1v1h-1zM13 195h1v1h-1zM36 195h1v1h-1zM553 195h1v1h-1zM557 195h3v1h-3zM1179 508h1v1h-1zM1216 508h1v1h-1zM290 86h1v1h-1zM323 86h1v1h-1zM865 406h1v1h-1zM882 406h1v1h-1zM952 443h1v1h-1zM58 147h1v1h-1zM441 147h1v1h-1zM17 206h1v1h-1zM28 206h1v1h-1zM577 206h2v1h-2zM623 244h1v1h-1zM627 251h1v1h-1zM792 350h1v1h-1zM830 350h1v1h-1zM842 350h1v1h-1zM799 362h1v1h-1zM823 362h1v1h-1zM849 362h1v1h-1zM855 379h1v1h-1zM13 196h1v1h-1zM36 196h1v1h-1zM554 196h3v1h-3zM560 196h2v1h-2zM1053 480h1v1h-1zM959 456h1v1h-1zM982 456h2v1h-2zM991 456h1v1h-1zM1050 474h1v1h-1zM858 389h1v1h-1zM1058 489h1v1h-1zM1101 489h1v1h-1zM1114 489h3v1h-3zM1140 489h1v1h-1zM675 276h1v1h-1zM721 276h1v1h-1zM727 276h1v1h-1zM672 271h1v1h-1zM791 349h1v1h-1zM831 349h2v1h-2zM840 349h2v1h-2zM688 302h1v1h-1zM702 302h1v1h-1zM739 302h1v1h-1zM791 348h1v1h-1zM833 348h1v1h-1zM837 348h3v1h-3zM69 109h1v1h-1zM125 109h1v1h-1zM212 109h1v1h-1zM246 109h3v1h-3zM334 109h1v1h-1zM633 261h1v1h-1zM1178 506h1v1h-1zM1217 506h1v1h-1zM1181 511h1v1h-1zM1215 511h1v1h-1zM14 198h1v1h-1zM35 198h1v1h-1zM563 198h2v1h-2zM905 436h1v1h-1zM913 436h1v1h-1zM947 436h1v1h-1zM58 149h1v1h-1zM442 149h1v1h-1zM908 438h2v1h-2zM911 438h1v1h-1zM949 438h1v1h-1zM57 150h1v1h-1zM443 150h1v1h-1zM951 440h1v1h-1zM1185 516h1v1h-1zM1211 516h1v1h-1zM18 207h1v1h-1zM27 207h1v1h-1zM579 207h2v1h-2zM594 220h3v1h-3zM1059 490h1v1h-1zM1100 490h1v1h-1zM1141 490h1v1h-1zM1253 490h2v1h-2zM797 359h1v1h-1zM824 359h1v1h-1zM847 359h1v1h-1zM778 345h1v1h-1zM789 345h1v1h-1zM965 463h1v1h-1zM972 463h1v1h-1zM1002 463h2v1h-2zM1010 463h1v1h-1zM1037 463h1v1h-1zM1048 471h1v1h-1zM1051 476h1v1h-1zM1052 477h1v1h-1zM63 129h1v1h-1zM139 129h1v1h-1zM159 129h1v1h-1zM431 129h1v1h-1zM904 434h1v1h-1zM915 434h1v1h-1zM944 434h2v1h-2zM867 408h1v1h-1zM879 408h2v1h-2zM885 408h1v1h-1zM744 314h1v1h-1zM71 100h1v1h-1zM87 100h1v1h-1zM219 100h1v1h-1zM234 100h1v1h-1zM257 100h1v1h-1zM329 100h1v1h-1zM15 199h1v1h-1zM35 199h1v1h-1zM565 199h1v1h-1zM73 94h1v1h-1zM82 94h1v1h-1zM223 94h1v1h-1zM231 94h1v1h-1zM265 94h1v1h-1zM272 94h2v1h-2zM281 94h1v1h-1zM327 94h1v1h-1zM860 395h1v1h-1zM1056 485h1v1h-1zM1131 485h1v1h-1zM1138 485h1v1h-1zM17 205h1v1h-1zM29 205h1v1h-1zM574 205h3v1h-3zM678 282h1v1h-1zM714 282h1v1h-1zM730 282h1v1h-1zM855 378h1v1h-1zM294 81h1v1h-1zM319 81h1v1h-1zM1050 473h1v1h-1zM892 417h1v1h-1zM16 202h1v1h-1zM32 202h2v1h-2zM569 202h1v1h-1zM295 78h1v1h-1zM317 78h1v1h-1zM687 301h1v1h-1zM703 301h1v1h-1zM739 301h1v1h-1zM7 179h1v1h-1zM41 179h1v1h-1zM535 179h1v1h-1zM1056 486h1v1h-1zM1106 486h3v1h-3zM1129 486h2v1h-2zM1139 486h1v1h-1zM792 351h1v1h-1zM829 351h1v1h-1zM843 351h1v1h-1zM1181 510h1v1h-1zM1215 510h1v1h-1zM624 247h1v1h-1zM802 370h1v1h-1zM819 370h1v1h-1zM852 370h1v1h-1zM682 291h1v1h-1zM709 291h1v1h-1zM734 291h1v1h-1zM14 197h1v1h-1zM35 197h1v1h-1zM562 197h1v1h-1zM761 337h1v1h-1zM55 152h1v1h-1zM444 152h1v1h-1zM304 71h2v1h-2zM314 71h1v1h-1zM681 287h1v1h-1zM711 287h1v1h-1zM732 287h1v1h-1zM612 227h1v1h-1zM615 232h1v1h-1zM9 185h1v1h-1zM39 185h1v1h-1zM538 185h1v1h-1zM51 159h1v1h-1zM447 159h1v1h-1zM691 307h1v1h-1zM697 307h1v1h-1zM742 307h1v1h-1zM589 216h1v1h-1zM680 286h1v1h-1zM712 286h1v1h-1zM732 286h1v1h-1zM693 309h1v1h-1zM695 309h1v1h-1zM743 309h1v1h-1zM793 353h1v1h-1zM828 353h1v1h-1zM844 353h1v1h-1zM746 320h1v1h-1zM1041 466h1v1h-1zM62 134h1v1h-1zM141 134h1v1h-1zM155 134h1v1h-1zM435 134h1v1h-1zM798 360h1v1h-1zM824 360h1v1h-1zM848 360h1v1h-1zM297 75h1v1h-1zM316 75h1v1h-1zM1186 517h1v1h-1zM1210 517h1v1h-1zM954 447h1v1h-1zM801 367h1v1h-1zM820 367h1v1h-1zM851 367h1v1h-1zM50 162h1v1h-1zM449 162h1v1h-1zM625 249h1v1h-1zM626 250h1v1h-1zM629 255h1v1h-1zM903 433h1v1h-1zM916 433h1v1h-1zM942 433h2v1h-2zM860 394h1v1h-1zM614 230h1v1h-1zM810 376h3v1h-3zM815 376h1v1h-1zM854 376h1v1h-1zM745 317h1v1h-1zM296 77h1v1h-1zM317 77h1v1h-1zM7 180h1v1h-1zM41 180h1v1h-1zM536 180h1v1h-1zM72 99h1v1h-1zM86 99h1v1h-1zM219 99h1v1h-1zM233 99h1v1h-1zM258 99h1v1h-1zM329 99h1v1h-1zM956 450h1v1h-1zM953 444h1v1h-1zM627 252h1v1h-1zM624 246h1v1h-1zM802 369h1v1h-1zM819 369h1v1h-1zM851 369h1v1h-1zM799 363h1v1h-1zM822 363h1v1h-1zM849 363h1v1h-1zM855 380h1v1h-1zM856 381h1v1h-1zM1054 481h1v1h-1zM53 155h1v1h-1zM445 155h1v1h-1zM688 303h1v1h-1zM701 303h1v1h-1zM740 303h1v1h-1zM795 355h1v1h-1zM827 355h1v1h-1zM845 355h1v1h-1zM809 375h1v1h-1zM816 375h1v1h-1zM854 375h1v1h-1zM297 74h1v1h-1zM316 74h1v1h-1zM56 151h1v1h-1zM443 151h1v1h-1zM585 212h1v1h-1zM692 308h1v1h-1zM696 308h1v1h-1zM742 308h1v1h-1zM1052 478h1v1h-1zM1182 512h1v1h-1zM1214 512h1v1h-1zM891 416h1v1h-1zM674 274h1v1h-1zM725 274h2v1h-2zM793 352h1v1h-1zM829 352h1v1h-1zM843 352h1v1h-1zM790 346h1v1h-1zM591 218h2v1h-2zM296 76h1v1h-1zM316 76h1v1h-1zM745 316h1v1h-1zM1180 509h1v1h-1zM1216 509h1v1h-1zM292 83h1v1h-1zM320 83h1v1h-1zM857 385h1v1h-1zM860 396h1v1h-1zM587 214h1v1h-1zM588 215h1v1h-1zM892 418h1v1h-1zM291 85h1v1h-1zM322 85h1v1h-1zM893 419h1v1h-1zM677 279h1v1h-1zM718 279h1v1h-1zM729 279h1v1h-1zM761 338h1v1h-1zM856 383h1v1h-1zM910 439h1v1h-1zM950 439h1v1h-1zM682 289h1v1h-1zM710 289h1v1h-1zM733 289h1v1h-1zM8 182h1v1h-1zM40 182h1v1h-1zM536 182h1v1h-1zM616 234h1v1h-1zM743 311h1v1h-1zM590 217h1v1h-1zM746 321h1v1h-1zM757 330h1v1h-1zM1046 469h1v1h-1zM8 183h1v1h-1zM40 183h1v1h-1zM537 183h1v1h-1zM750 327h3v1h-3zM891 415h1v1h-1zM801 368h1v1h-1zM820 368h1v1h-1zM851 368h1v1h-1zM955 449h1v1h-1zM629 256h1v1h-1zM630 257h1v1h-1zM1184 514h1v1h-1zM1212 514h1v1h-1zM857 384h1v1h-1zM618 237h1v1h-1zM748 324h1v1h-1zM745 318h1v1h-1zM7 181h1v1h-1zM40 181h1v1h-1zM536 181h1v1h-1zM295 79h1v1h-1zM318 79h1v1h-1zM956 451h1v1h-1zM953 445h1v1h-1zM794 354h1v1h-1zM827 354h1v1h-1zM845 354h1v1h-1zM681 288h1v1h-1zM711 288h1v1h-1zM733 288h1v1h-1zM628 253h1v1h-1zM856 382h1v1h-1zM1054 482h1v1h-1zM1134 482h1v1h-1zM684 294h1v1h-1zM707 294h1v1h-1zM735 294h1v1h-1zM673 273h1v1h-1zM616 233h1v1h-1zM1187 518h1v1h-1zM1209 518h1v1h-1zM694 310h1v1h-1zM743 310h1v1h-1zM795 356h1v1h-1zM826 356h1v1h-1zM846 356h1v1h-1zM1198 526h5v1h-5zM862 400h1v1h-1zM52 158h1v1h-1zM447 158h1v1h-1zM955 448h1v1h-1zM790 347h1v1h-1zM834 347h3v1h-3zM1189 520h1v1h-1zM1208 520h1v1h-1zM586 213h1v1h-1zM1188 519h1v1h-1zM1209 519h1v1h-1zM671 270h1v1h-1zM895 423h1v1h-1zM292 84h1v1h-1zM321 84h1v1h-1zM857 386h1v1h-1zM861 397h1v1h-1zM755 329h2v1h-2zM893 420h1v1h-1zM1191 522h2v1h-2zM1207 522h1v1h-1zM894 421h1v1h-1zM60 141h1v1h-1zM438 141h1v1h-1zM897 426h1v1h-1zM673 272h1v1h-1zM957 453h1v1h-1zM1183 513h1v1h-1zM1213 513h1v1h-1zM52 157h1v1h-1zM446 157h1v1h-1zM617 236h1v1h-1zM743 312h1v1h-1zM747 323h1v1h-1zM758 332h1v1h-1zM1184 515h1v1h-1zM1212 515h1v1h-1zM593 219h1v1h-1zM619 238h1v1h-1zM745 319h1v1h-1zM760 335h1v1h-1zM749 325h1v1h-1zM610 224h1v1h-1zM861 399h1v1h-1zM957 452h1v1h-1zM628 254h1v1h-1zM632 260h1v1h-1zM54 153h1v1h-1zM444 153h1v1h-1zM617 235h1v1h-1zM620 240h1v1h-1zM621 241h1v1h-1zM747 322h1v1h-1zM758 331h1v1h-1zM1047 470h1v1h-1zM859 391h1v1h-1zM862 401h1v1h-1zM863 402h1v1h-1z" fill="#ffa500"/>
<rect x="2" y="167" width="1576" height="2" fill="#ff0000"/>
<rect x="2" y="235" width="1576" height="2" fill="#ff0000"/>
<rect x="2" y="313" width="1576" height="2" fill="#ff0000"/>
<rect x="2" y="396" width="1576" height="2" fill="#ff0000"/>
<rect x="1" y="394" width="6" height="6" fill="#ff0000"/><rect x="3" y="396" width="2" height="2" fill="#fff"/>
<rect x="1572" y="394" width="6" height="6" fill="#ff0000"/><rect x="1574" y="396" width="2" height="2" fill="#fff"/>
<rect x="2" y="461" width="1576" height="2" fill="#00ff00"/>
<rect x="1" y="459" width="6" height="6" fill="#00ff00"/><rect x="3" y="461" width="2" height="2" fill="#fff"/>
<rect x="1572" y="459" width="6" height="6" fill="#00ff00"/><rect x="1574" y="461" width="2" height="2" fill="#fff"/>
<rect x="2" y="535" width="1576" height="2" fill="#0000ff"/>
<rect x="1" y="533" width="6" height="6" fill="#0000ff"/><rect x="3" y="535" width="2" height="2" fill="#fff"/>
<rect x="1572" y="533" width="6" height="6" fill="#0000ff"/><rect x="1574" y="535" width="2" height="2" fill="#fff"/>
</g>
<g shape-rendering="crispEdges"><line x1="3" y1="581.5" x2="1578" y2="581.5" stroke="#c0c0c0" stroke-dasharray="3,3"/><line x1="3" y1="618.5" x2="1578" y2="618.5" stroke="#c0c0c0" stroke-dasharray="3,3"/></g>
<g shape-rendering="crispEdges"><path d="M25 608h1v1h-1zM328 608h1v1h-1zM342 608h1v1h-1zM350 608h1v1h-1zM384 608h1v1h-1zM391 608h1v1h-1zM431 608h1v1h-1zM489 608h1v1h-1zM521 608h1v1h-1zM525 608h1v1h-1zM529 608h4v1h-4zM545 608h1v1h-1zM553 608h1v1h-1zM698 608h2v1h-2zM703 608h1v1h-1zM730 608h1v1h-1zM769 608h1v1h-1zM776 608h1v1h-1zM782 608h1v1h-1zM815 608h1v1h-1zM847 608h1v1h-1zM913 608h1v1h-1zM922 608h3v1h-3zM929 608h7v1h-7zM940 608h1v1h-1zM973 608h1v1h-1zM977 608h10v1h-10zM1007 608h1v1h-1zM1021 608h1v1h-1zM1025 608h2v1h-2zM1036 608h1v1h-1zM1076 608h1v1h-1zM1080 608h1v1h-1zM1089 608h2v1h-2zM1110 608h2v1h-2zM1141 608h1v1h-1zM1144 608h2v1h-2zM1174 608h1v1h-1zM1201 608h1v1h-1zM30 602h3v1h-3zM34 602h1v1h-1zM126 602h1v1h-1zM134 602h3v1h-3zM144 602h2v1h-2zM149 602h2v1h-2zM206 602h1v1h-1zM234 602h1v1h-1zM317 602h1v1h-1zM321 602h4v1h-4zM396 602h2v1h-2zM410 602h1v1h-1zM496 602h1v1h-1zM503 602h1v1h-1zM517 602h2v1h-2zM706 602h1v1h-1zM720 602h1v1h-1zM724 602h1v1h-1zM727 602h1v1h-1zM821 602h2v1h-2zM832 602h1v1h-1zM1012 602h2v1h-2zM1015 602h2v1h-2zM1029 602h1v1h-1zM1031 602h1v1h-1zM1094 602h5v1h-5zM1106 602h1v1h-1zM1116 602h1v1h-1zM1128 602h1v1h-1zM1131 602h1v1h-1zM1137 602h1v1h-1zM1149 602h1v1h-1zM1152 602h1v1h-1zM1159 602h2v1h-2zM1165 602h1v1h-1zM1205 602h1v1h-1zM14 611h3v1h-3zM23 611h1v1h-1zM330 611h3v1h-3zM335 611h2v1h-2zM340 611h1v1h-1zM345 611h1v1h-1zM347 611h1v1h-1zM389 611h2v1h-2zM432 611h1v1h-1zM488 611h1v1h-1zM535 611h1v1h-1zM543 611h1v1h-1zM557 611h1v1h-1zM564 611h1v1h-1zM577 611h1v1h-1zM593 611h1v1h-1zM599 611h2v1h-2zM654 611h1v1h-1zM696 611h1v1h-1zM702 611h1v1h-1zM731 611h1v1h-1zM738 611h3v1h-3zM757 611h2v1h-2zM768 611h1v1h-1zM786 611h3v1h-3zM791 611h2v1h-2zM805 611h1v1h-1zM849 611h1v1h-1zM865 611h1v1h-1zM869 611h1v1h-1zM871 611h2v1h-2zM878 611h2v1h-2zM886 611h1v1h-1zM902 611h2v1h-2zM911 611h1v1h-1zM945 611h2v1h-2zM971 611h1v1h-1zM990 611h1v1h-1zM998 611h3v1h-3zM1040 611h2v1h-2zM1044 611h2v1h-2zM1051 611h1v1h-1zM1065 611h1v1h-1zM1067 611h2v1h-2zM1073 611h1v1h-1zM1178 611h2v1h-2zM1186 611h3v1h-3zM1195 611h2v1h-2zM1199 611h1v1h-1zM29 603h1v1h-1zM33 603h2v1h-2zM137 603h7v1h-7zM318 603h3v1h-3zM325 603h2v1h-2zM365 603h4v1h-4zM394 603h2v1h-2zM411 603h2v1h-2zM496 603h1v1h-1zM504 603h1v1h-1zM516 603h1v1h-1zM519 603h1v1h-1zM706 603h1v1h-1zM721 603h1v1h-1zM723 603h1v1h-1zM727 603h1v1h-1zM818 603h3v1h-3zM833 603h1v1h-1zM1010 603h2v1h-2zM1017 603h1v1h-1zM1029 603h1v1h-1zM1032 603h1v1h-1zM1093 603h1v1h-1zM1107 603h1v1h-1zM1115 603h1v1h-1zM1129 603h1v1h-1zM1131 603h1v1h-1zM1138 603h1v1h-1zM1148 603h1v1h-1zM1153 603h1v1h-1zM1157 603h2v1h-2zM1166 603h3v1h-3zM1205 603h1v1h-1zM35 600h1v1h-1zM125 600h1v1h-1zM129 600h1v1h-1zM131 600h2v1h-2zM152 600h1v1h-1zM203 600h2v1h-2zM207 600h1v1h-1zM231 600h2v1h-2zM237 600h1v1h-1zM274 600h1v1h-1zM316 600h1v1h-1zM401 600h7v1h-7zM497 600h1v1h-1zM501 600h1v1h-1zM709 600h1v1h-1zM717 600h2v1h-2zM726 600h1v1h-1zM824 600h1v1h-1zM831 600h1v1h-1zM1100 600h1v1h-1zM1104 600h1v1h-1zM1117 600h1v1h-1zM1126 600h1v1h-1zM1133 600h1v1h-1zM1136 600h1v1h-1zM1150 600h1v1h-1zM1162 600h1v1h-1zM1207 600h1v1h-1zM1229 600h3v1h-3zM24 609h1v1h-1zM329 609h1v1h-1zM341 609h1v1h-1zM343 609h1v1h-1zM349 609h1v1h-1zM385 609h1v1h-1zM391 609h1v1h-1zM431 609h1v1h-1zM489 609h1v1h-1zM522 609h3v1h-3zM533 609h2v1h-2zM544 609h1v1h-1zM554 609h1v1h-1zM566 609h3v1h-3zM573 609h2v1h-2zM697 609h1v1h-1zM700 609h1v1h-1zM703 609h1v1h-1zM730 609h1v1h-1zM769 609h1v1h-1zM777 609h1v1h-1zM780 609h2v1h-2zM783 609h2v1h-2zM815 609h1v1h-1zM847 609h1v1h-1zM866 609h1v1h-1zM874 609h2v1h-2zM882 609h2v1h-2zM912 609h1v1h-1zM925 609h4v1h-4zM941 609h1v1h-1zM972 609h1v1h-1zM987 609h2v1h-2zM1007 609h1v1h-1zM1022 609h3v1h-3zM1037 609h1v1h-1zM1049 609h2v1h-2zM1075 609h1v1h-1zM1081 609h1v1h-1zM1085 609h4v1h-4zM1142 609h2v1h-2zM1175 609h2v1h-2zM1182 609h2v1h-2zM1201 609h1v1h-1zM6 615h1v1h-1zM12 615h1v1h-1zM433 615h1v1h-1zM453 615h2v1h-2zM460 615h1v1h-1zM464 615h1v1h-1zM473 615h1v1h-1zM477 615h6v1h-6zM487 615h1v1h-1zM537 615h1v1h-1zM540 615h1v1h-1zM580 615h1v1h-1zM586 615h3v1h-3zM591 615h1v1h-1zM608 615h1v1h-1zM652 615h1v1h-1zM658 615h3v1h-3zM663 615h2v1h-2zM671 615h1v1h-1zM695 615h1v1h-1zM734 615h1v1h-1zM745 615h1v1h-1zM747 615h1v1h-1zM760 615h1v1h-1zM767 615h1v1h-1zM798 615h1v1h-1zM803 615h1v1h-1zM852 615h1v1h-1zM864 615h1v1h-1zM890 615h2v1h-2zM899 615h1v1h-1zM951 615h2v1h-2zM962 615h5v1h-5zM1052 615h1v1h-1zM1063 615h1v1h-1zM36 595h1v1h-1zM49 595h1v1h-1zM51 595h1v1h-1zM102 595h1v1h-1zM109 595h1v1h-1zM111 595h2v1h-2zM121 595h2v1h-2zM172 595h1v1h-1zM180 595h1v1h-1zM186 595h3v1h-3zM208 595h1v1h-1zM228 595h1v1h-1zM252 595h2v1h-2zM267 595h1v1h-1zM277 595h1v1h-1zM312 595h1v1h-1zM1210 595h1v1h-1zM1221 595h1v1h-1zM1223 595h1v1h-1zM1237 595h1v1h-1zM1245 595h1v1h-1zM1248 595h2v1h-2zM1251 595h2v1h-2zM26 606h1v1h-1zM327 606h1v1h-1zM353 606h1v1h-1zM378 606h3v1h-3zM383 606h1v1h-1zM392 606h1v1h-1zM417 606h3v1h-3zM430 606h1v1h-1zM490 606h3v1h-3zM494 606h1v1h-1zM509 606h4v1h-4zM520 606h1v1h-1zM546 606h5v1h-5zM704 606h1v1h-1zM729 606h1v1h-1zM770 606h1v1h-1zM775 606h1v1h-1zM816 606h1v1h-1zM844 606h2v1h-2zM914 606h6v1h-6zM938 606h1v1h-1zM1008 606h1v1h-1zM1020 606h1v1h-1zM1027 606h1v1h-1zM1035 606h1v1h-1zM1078 606h1v1h-1zM1091 606h1v1h-1zM1109 606h1v1h-1zM1114 606h1v1h-1zM1140 606h1v1h-1zM1147 606h1v1h-1zM1172 606h1v1h-1zM1203 606h1v1h-1zM37 591h1v1h-1zM47 591h1v1h-1zM54 591h1v1h-1zM78 591h2v1h-2zM84 591h1v1h-1zM97 591h1v1h-1zM99 591h1v1h-1zM209 591h1v1h-1zM221 591h4v1h-4zM226 591h1v1h-1zM258 591h3v1h-3zM280 591h1v1h-1zM302 591h3v1h-3zM307 591h2v1h-2zM35 597h1v1h-1zM50 597h1v1h-1zM123 597h1v1h-1zM156 597h2v1h-2zM160 597h2v1h-2zM169 597h2v1h-2zM182 597h2v1h-2zM199 597h2v1h-2zM207 597h1v1h-1zM229 597h1v1h-1zM241 597h1v1h-1zM243 597h2v1h-2zM249 597h1v1h-1zM269 597h1v1h-1zM276 597h1v1h-1zM313 597h1v1h-1zM1121 597h2v1h-2zM1209 597h1v1h-1zM1213 597h1v1h-1zM1217 597h2v1h-2zM1224 597h1v1h-1zM1235 597h1v1h-1zM1254 597h1v1h-1zM23 610h1v1h-1zM329 610h1v1h-1zM333 610h2v1h-2zM340 610h1v1h-1zM344 610h1v1h-1zM348 610h1v1h-1zM386 610h3v1h-3zM390 610h1v1h-1zM431 610h1v1h-1zM489 610h1v1h-1zM522 610h1v1h-1zM534 610h1v1h-1zM544 610h1v1h-1zM555 610h2v1h-2zM565 610h1v1h-1zM569 610h4v1h-4zM575 610h2v1h-2zM594 610h5v1h-5zM697 610h1v1h-1zM701 610h2v1h-2zM731 610h1v1h-1zM758 610h1v1h-1zM768 610h1v1h-1zM778 610h2v1h-2zM785 610h1v1h-1zM789 610h2v1h-2zM806 610h9v1h-9zM848 610h1v1h-1zM866 610h3v1h-3zM873 610h1v1h-1zM876 610h2v1h-2zM880 610h2v1h-2zM884 610h2v1h-2zM912 610h1v1h-1zM942 610h3v1h-3zM972 610h1v1h-1zM989 610h1v1h-1zM1001 610h6v1h-6zM1038 610h2v1h-2zM1046 610h3v1h-3zM1050 610h1v1h-1zM1066 610h1v1h-1zM1074 610h1v1h-1zM1082 610h3v1h-3zM1177 610h1v1h-1zM1180 610h2v1h-2zM1184 610h2v1h-2zM1189 610h6v1h-6zM1200 610h1v1h-1zM34 601h1v1h-1zM125 601h1v1h-1zM127 601h2v1h-2zM133 601h1v1h-1zM146 601h3v1h-3zM151 601h1v1h-1zM205 601h2v1h-2zM233 601h1v1h-1zM235 601h2v1h-2zM316 601h1v1h-1zM398 601h3v1h-3zM408 601h2v1h-2zM497 601h1v1h-1zM502 601h1v1h-1zM518 601h1v1h-1zM707 601h2v1h-2zM719 601h1v1h-1zM725 601h2v1h-2zM823 601h1v1h-1zM832 601h1v1h-1zM1014 601h1v1h-1zM1030 601h1v1h-1zM1099 601h1v1h-1zM1105 601h1v1h-1zM1116 601h1v1h-1zM1127 601h1v1h-1zM1132 601h1v1h-1zM1136 601h1v1h-1zM1149 601h1v1h-1zM1151 601h1v1h-1zM1161 601h1v1h-1zM1163 601h2v1h-2zM1206 601h1v1h-1zM36 593h1v1h-1zM48 593h1v1h-1zM53 593h1v1h-1zM85 593h1v1h-1zM88 593h2v1h-2zM93 593h2v1h-2zM100 593h1v1h-1zM105 593h1v1h-1zM107 593h1v1h-1zM114 593h3v1h-3zM174 593h5v1h-5zM208 593h1v1h-1zM227 593h1v1h-1zM255 593h2v1h-2zM264 593h2v1h-2zM279 593h1v1h-1zM310 593h1v1h-1zM1240 593h2v1h-2zM1243 593h1v1h-1zM36 596h1v1h-1zM49 596h1v1h-1zM51 596h1v1h-1zM110 596h1v1h-1zM123 596h1v1h-1zM158 596h2v1h-2zM171 596h1v1h-1zM181 596h1v1h-1zM184 596h2v1h-2zM189 596h10v1h-10zM208 596h1v1h-1zM229 596h1v1h-1zM242 596h1v1h-1zM250 596h2v1h-2zM268 596h1v1h-1zM277 596h1v1h-1zM312 596h1v1h-1zM1209 596h1v1h-1zM1211 596h2v1h-2zM1219 596h2v1h-2zM1224 596h1v1h-1zM1236 596h1v1h-1zM1246 596h2v1h-2zM1253 596h1v1h-1zM10 618h1v1h-1zM434 618h1v1h-1zM449 618h1v1h-1zM458 618h1v1h-1zM466 618h3v1h-3zM486 618h1v1h-1zM538 618h1v1h-1zM610 618h3v1h-3zM638 618h3v1h-3zM651 618h1v1h-1zM673 618h1v1h-1zM692 618h2v1h-2zM762 618h3v1h-3zM802 618h1v1h-1zM856 618h2v1h-2zM863 618h1v1h-1zM957 618h2v1h-2zM1053 618h1v1h-1zM1060 618h1v1h-1zM441 621h3v1h-3zM447 621h1v1h-1zM617 621h1v1h-1zM636 621h1v1h-1zM649 621h2v1h-2zM676 621h1v1h-1zM685 621h1v1h-1zM1057 621h2v1h-2zM9 617h1v1h-1zM11 617h1v1h-1zM433 617h1v1h-1zM449 617h1v1h-1zM457 617h1v1h-1zM459 617h1v1h-1zM465 617h1v1h-1zM469 617h2v1h-2zM485 617h2v1h-2zM538 617h2v1h-2zM582 617h2v1h-2zM609 617h1v1h-1zM652 617h1v1h-1zM672 617h1v1h-1zM694 617h1v1h-1zM761 617h1v1h-1zM765 617h2v1h-2zM801 617h2v1h-2zM854 617h2v1h-2zM863 617h1v1h-1zM894 617h3v1h-3zM954 617h3v1h-3zM959 617h2v1h-2zM1053 617h1v1h-1zM1061 617h1v1h-1zM37 590h1v1h-1zM42 590h3v1h-3zM46 590h1v1h-1zM55 590h1v1h-1zM77 590h1v1h-1zM79 590h1v1h-1zM84 590h1v1h-1zM98 590h1v1h-1zM209 590h1v1h-1zM218 590h3v1h-3zM225 590h2v1h-2zM281 590h1v1h-1zM285 590h10v1h-10zM302 590h1v1h-1zM305 590h2v1h-2zM28 604h1v1h-1zM326 604h1v1h-1zM357 604h8v1h-8zM369 604h7v1h-7zM393 604h1v1h-1zM413 604h1v1h-1zM422 604h3v1h-3zM495 604h1v1h-1zM505 604h1v1h-1zM515 604h1v1h-1zM519 604h1v1h-1zM705 604h1v1h-1zM722 604h1v1h-1zM728 604h1v1h-1zM817 604h1v1h-1zM834 604h7v1h-7zM1009 604h1v1h-1zM1018 604h1v1h-1zM1028 604h1v1h-1zM1033 604h1v1h-1zM1093 604h1v1h-1zM1107 604h1v1h-1zM1115 604h1v1h-1zM1130 604h1v1h-1zM1139 604h1v1h-1zM1148 604h1v1h-1zM1154 604h3v1h-3zM1169 604h2v1h-2zM1204 604h1v1h-1zM38 587h2v1h-2zM57 587h1v1h-1zM76 587h1v1h-1zM81 587h2v1h-2zM210 587h5v1h-5zM295 587h1v1h-1zM300 587h1v1h-1zM35 599h1v1h-1zM124 599h1v1h-1zM130 599h1v1h-1zM153 599h1v1h-1zM202 599h1v1h-1zM207 599h1v1h-1zM230 599h1v1h-1zM238 599h1v1h-1zM246 599h1v1h-1zM272 599h2v1h-2zM275 599h1v1h-1zM315 599h1v1h-1zM498 599h3v1h-3zM710 599h7v1h-7zM825 599h1v1h-1zM829 599h2v1h-2zM1101 599h1v1h-1zM1103 599h1v1h-1zM1117 599h1v1h-1zM1125 599h1v1h-1zM1133 599h1v1h-1zM1135 599h1v1h-1zM1207 599h1v1h-1zM1226 599h3v1h-3zM1232 599h2v1h-2zM437 620h4v1h-4zM448 620h1v1h-1zM615 620h2v1h-2zM637 620h1v1h-1zM645 620h4v1h-4zM650 620h1v1h-1zM675 620h1v1h-1zM686 620h3v1h-3zM861 620h2v1h-2zM1054 620h3v1h-3zM1059 620h1v1h-1zM37 589h1v1h-1zM41 589h1v1h-1zM45 589h2v1h-2zM55 589h1v1h-1zM77 589h1v1h-1zM80 589h1v1h-1zM83 589h1v1h-1zM209 589h1v1h-1zM217 589h1v1h-1zM282 589h3v1h-3zM294 589h1v1h-1zM301 589h1v1h-1zM35 598h1v1h-1zM124 598h1v1h-1zM154 598h2v1h-2zM162 598h7v1h-7zM201 598h1v1h-1zM207 598h1v1h-1zM230 598h1v1h-1zM239 598h2v1h-2zM245 598h1v1h-1zM247 598h2v1h-2zM270 598h2v1h-2zM275 598h1v1h-1zM314 598h1v1h-1zM498 598h1v1h-1zM826 598h3v1h-3zM1102 598h1v1h-1zM1118 598h3v1h-3zM1123 598h2v1h-2zM1134 598h1v1h-1zM1208 598h1v1h-1zM1214 598h3v1h-3zM1225 598h1v1h-1zM1234 598h1v1h-1zM2 612h1v1h-1zM13 612h1v1h-1zM17 612h6v1h-6zM337 612h1v1h-1zM339 612h1v1h-1zM346 612h1v1h-1zM432 612h1v1h-1zM488 612h1v1h-1zM535 612h1v1h-1zM543 612h1v1h-1zM558 612h2v1h-2zM564 612h1v1h-1zM578 612h1v1h-1zM593 612h1v1h-1zM601 612h1v1h-1zM654 612h2v1h-2zM696 612h1v1h-1zM732 612h1v1h-1zM737 612h1v1h-1zM741 612h2v1h-2zM750 612h3v1h-3zM755 612h2v1h-2zM759 612h1v1h-1zM768 612h1v1h-1zM793 612h1v1h-1zM805 612h1v1h-1zM849 612h1v1h-1zM865 612h1v1h-1zM870 612h1v1h-1zM887 612h1v1h-1zM901 612h1v1h-1zM904 612h2v1h-2zM911 612h1v1h-1zM947 612h2v1h-2zM970 612h1v1h-1zM991 612h2v1h-2zM997 612h1v1h-1zM1042 612h2v1h-2zM1051 612h1v1h-1zM1065 612h1v1h-1zM1069 612h1v1h-1zM1071 612h2v1h-2zM1197 612h1v1h-1zM1199 612h1v1h-1zM5 614h1v1h-1zM12 614h1v1h-1zM433 614h1v1h-1zM461 614h1v1h-1zM463 614h1v1h-1zM474 614h3v1h-3zM487 614h1v1h-1zM536 614h1v1h-1zM541 614h1v1h-1zM562 614h1v1h-1zM580 614h1v1h-1zM591 614h1v1h-1zM607 614h1v1h-1zM653 614h1v1h-1zM657 614h1v1h-1zM665 614h1v1h-1zM669 614h2v1h-2zM695 614h1v1h-1zM733 614h1v1h-1zM735 614h1v1h-1zM744 614h1v1h-1zM748 614h1v1h-1zM760 614h1v1h-1zM767 614h1v1h-1zM796 614h2v1h-2zM804 614h1v1h-1zM851 614h1v1h-1zM864 614h1v1h-1zM889 614h1v1h-1zM900 614h1v1h-1zM909 614h2v1h-2zM950 614h1v1h-1zM967 614h2v1h-2zM994 614h1v1h-1zM1052 614h1v1h-1zM1063 614h1v1h-1zM434 619h3v1h-3zM448 619h1v1h-1zM613 619h2v1h-2zM637 619h1v1h-1zM641 619h4v1h-4zM651 619h1v1h-1zM674 619h1v1h-1zM689 619h3v1h-3zM858 619h3v1h-3zM862 619h1v1h-1zM1054 619h1v1h-1zM1060 619h1v1h-1zM7 616h2v1h-2zM11 616h1v1h-1zM433 616h1v1h-1zM450 616h3v1h-3zM455 616h2v1h-2zM460 616h1v1h-1zM464 616h1v1h-1zM471 616h2v1h-2zM483 616h2v1h-2zM487 616h1v1h-1zM537 616h1v1h-1zM540 616h1v1h-1zM581 616h1v1h-1zM584 616h2v1h-2zM589 616h2v1h-2zM608 616h1v1h-1zM652 616h1v1h-1zM661 616h2v1h-2zM672 616h1v1h-1zM694 616h1v1h-1zM746 616h1v1h-1zM761 616h1v1h-1zM766 616h1v1h-1zM799 616h2v1h-2zM803 616h1v1h-1zM853 616h1v1h-1zM863 616h1v1h-1zM892 616h2v1h-2zM897 616h2v1h-2zM953 616h1v1h-1zM961 616h1v1h-1zM1053 616h1v1h-1zM1062 616h1v1h-1zM38 588h1v1h-1zM40 588h1v1h-1zM56 588h1v1h-1zM76 588h1v1h-1zM81 588h1v1h-1zM83 588h1v1h-1zM210 588h1v1h-1zM215 588h2v1h-2zM295 588h1v1h-1zM301 588h1v1h-1zM25 607h1v1h-1zM328 607h1v1h-1zM351 607h2v1h-2zM384 607h1v1h-1zM392 607h1v1h-1zM431 607h1v1h-1zM490 607h1v1h-1zM493 607h2v1h-2zM521 607h1v1h-1zM526 607h3v1h-3zM545 607h1v1h-1zM551 607h2v1h-2zM698 607h1v1h-1zM704 607h1v1h-1zM729 607h1v1h-1zM769 607h1v1h-1zM776 607h1v1h-1zM816 607h1v1h-1zM846 607h1v1h-1zM913 607h1v1h-1zM920 607h2v1h-2zM936 607h2v1h-2zM939 607h1v1h-1zM974 607h3v1h-3zM1008 607h1v1h-1zM1020 607h1v1h-1zM1027 607h1v1h-1zM1036 607h1v1h-1zM1077 607h1v1h-1zM1079 607h1v1h-1zM1091 607h1v1h-1zM1109 607h1v1h-1zM1112 607h2v1h-2zM1141 607h1v1h-1zM1146 607h1v1h-1zM1173 607h1v1h-1zM1202 607h1v1h-1zM625 624h2v1h-2zM635 624h1v1h-1zM679 624h2v1h-2zM683 624h1v1h-1zM37 592h1v1h-1zM47 592h1v1h-1zM53 592h1v1h-1zM78 592h1v1h-1zM85 592h1v1h-1zM90 592h3v1h-3zM95 592h2v1h-2zM100 592h1v1h-1zM106 592h1v1h-1zM209 592h1v1h-1zM227 592h1v1h-1zM257 592h1v1h-1zM261 592h3v1h-3zM280 592h1v1h-1zM309 592h1v1h-1zM1242 592h1v1h-1zM36 594h1v1h-1zM48 594h1v1h-1zM52 594h1v1h-1zM86 594h2v1h-2zM101 594h1v1h-1zM103 594h2v1h-2zM108 594h1v1h-1zM113 594h1v1h-1zM117 594h4v1h-4zM173 594h1v1h-1zM179 594h1v1h-1zM208 594h1v1h-1zM228 594h1v1h-1zM254 594h1v1h-1zM266 594h1v1h-1zM278 594h1v1h-1zM311 594h1v1h-1zM1222 594h1v1h-1zM1238 594h2v1h-2zM1244 594h1v1h-1zM1250 594h1v1h-1zM3 613h2v1h-2zM13 613h1v1h-1zM338 613h1v1h-1zM432 613h1v1h-1zM462 613h1v1h-1zM488 613h1v1h-1zM536 613h1v1h-1zM542 613h1v1h-1zM560 613h2v1h-2zM563 613h1v1h-1zM579 613h1v1h-1zM592 613h1v1h-1zM602 613h5v1h-5zM653 613h1v1h-1zM656 613h1v1h-1zM666 613h3v1h-3zM696 613h1v1h-1zM733 613h1v1h-1zM736 613h1v1h-1zM743 613h1v1h-1zM749 613h1v1h-1zM753 613h2v1h-2zM759 613h1v1h-1zM767 613h1v1h-1zM794 613h2v1h-2zM804 613h1v1h-1zM850 613h1v1h-1zM865 613h1v1h-1zM888 613h1v1h-1zM900 613h1v1h-1zM906 613h3v1h-3zM910 613h1v1h-1zM949 613h1v1h-1zM969 613h1v1h-1zM993 613h1v1h-1zM995 613h2v1h-2zM1051 613h1v1h-1zM1064 613h1v1h-1zM1070 613h1v1h-1zM1198 613h1v1h-1zM27 605h1v1h-1zM327 605h1v1h-1zM354 605h3v1h-3zM376 605h2v1h-2zM381 605h2v1h-2zM393 605h1v1h-1zM414 605h3v1h-3zM420 605h2v1h-2zM425 605h6v1h-6zM495 605h1v1h-1zM506 605h3v1h-3zM513 605h2v1h-2zM520 605h1v1h-1zM705 605h1v1h-1zM728 605h1v1h-1zM770 605h5v1h-5zM817 605h1v1h-1zM841 605h3v1h-3zM1009 605h1v1h-1zM1019 605h1v1h-1zM1028 605h1v1h-1zM1034 605h1v1h-1zM1092 605h1v1h-1zM1108 605h1v1h-1zM1114 605h1v1h-1zM1139 605h1v1h-1zM1147 605h1v1h-1zM1171 605h1v1h-1zM1203 605h1v1h-1zM629 626h1v1h-1zM632 626h2v1h-2zM682 626h1v1h-1zM444 622h2v1h-2zM447 622h1v1h-1zM618 622h3v1h-3zM636 622h1v1h-1zM677 622h1v1h-1zM685 622h1v1h-1zM446 623h1v1h-1zM621 623h4v1h-4zM635 623h1v1h-1zM678 623h1v1h-1zM684 623h1v1h-1zM59 583h1v1h-1zM73 583h2v1h-2zM297 583h1v1h-1zM299 583h1v1h-1zM59 584h1v1h-1zM74 584h1v1h-1zM297 584h1v1h-1zM299 584h1v1h-1zM627 625h2v1h-2zM634 625h1v1h-1zM681 625h1v1h-1zM683 625h1v1h-1zM38 586h1v1h-1zM57 586h1v1h-1zM75 586h1v1h-1zM82 586h1v1h-1zM296 586h1v1h-1zM300 586h1v1h-1zM60 582h1v1h-1zM66 582h7v1h-7zM298 582h1v1h-1zM61 579h1v1h-1zM63 579h1v1h-1zM630 627h2v1h-2zM58 585h1v1h-1zM75 585h1v1h-1zM296 585h1v1h-1zM300 585h1v1h-1zM60 581h1v1h-1zM65 581h1v1h-1zM298 581h1v1h-1zM62 578h1v1h-1zM61 580h1v1h-1zM64 580h1v1h-1z" fill="#1e90ff"/></g>
<g shape-rendering="crispEdges">
<rect x="2" y="691" width="1" height="8" fill="#c0c0c0"/>
<rect x="6" y="698" width="1" height="1" fill="#c0c0c0"/>
<rect x="10" y="698" width="1" height="7" fill="#c0c0c0"/>
<rect x="14" y="698" width="1" height="11" fill="#c0c0c0"/>
<rect x="18" y="698" width="1" height="14" fill="#c0c0c0"/>
<rect x="22" y="698" width="1" height="16" fill="#c0c0c0"/>
<rect x="26" y="698" width="1" height="17" fill="#c0c0c0"/>
<rect x="30" y="698" width="1" height="15" fill="#c0c0c0"/>
<rect x="34" y="698" width="1" height="14" fill="#c0c0c0"/>
<rect x="38" y="698" width="1" height="6" fill="#c0c0c0"/>
<rect x="42" y="698" width="1" height="1" fill="#c0c0c0"/>
<rect x="46" y="694" width="1" height="5" fill="#c0c0c0"/>
<rect x="50" y="693" width="1" height="6" fill="#c0c0c0"/>
<rect x="54" y="690" width="1" height="9" fill="#c0c0c0"/>
<rect x="58" y="683" width="1" height="16" fill="#c0c0c0"/>
<rect x="62" y="671" width="1" height="28" fill="#c0c0c0"/>
<rect x="66" y="664" width="1" height="35" fill="#c0c0c0"/>
<rect x="70" y="659" width="1" height="40" fill="#c0c0c0"/>
<rect x="74" y="656" width="1" height="43" fill="#c0c0c0"/>
<rect x="78" y="658" width="1" height="41" fill="#c0c0c0"/>
<rect x="82" y="655" width="1" height="44" fill="#c0c0c0"/>
<rect x="86" y="658" width="1" height="41" fill="#c0c0c0"/>
<rect x="90" y="659" width="1" height="40" fill="#c0c0c0"/>
<rect x="94" y="660" width="1" height="39" fill="#c0c0c0"/>
<rect x="98" y="660" width="1" height="39" fill="#c0c0c0"/>
<rect x="102" y="663" width="1" height="36" fill="#c0c0c0"/>
<rect x="106" y="664" width="1" height="35" fill="#c0c0c0"/>
<rect x="110" y="668" width="1" height="31" fill="#c0c0c0"/>
<rect x="114" y="668" width="1" height="31" fill="#c0c0c0"/>
<rect x="118" y="669" width="1" height="30" fill="#c0c0c0"/>
<rect x="122" y="671" width="1" height="28" fill="#c0c0c0"/>
<rect x="126" y="677" width="1" height="22" fill="#c0c0c0"/>
<rect x="130" y="680" width="1" height="19" fill="#c0c0c0"/>
<rect x="134" y="685" width="1" height="14" fill="#c0c0c0"/>
<rect x="138" y="690" width="1" height="9" fill="#c0c0c0"/>
<rect x="142" y="693" width="1" height="6" fill="#c0c0c0"/>
<rect x="146" y="695" width="1" height="4" fill="#c0c0c0"/>
<rect x="150" y="697" width="1" height="2" fill="#c0c0c0"/>
<rect x="154" y="697" width="1" height="2" fill="#c0c0c0"/>
<rect x="158" y="695" width="1" height="4" fill="#c0c0c0"/>
<rect x="162" y="695" width="1" height="4" fill="#c0c0c0"/>
<rect x="166" y="695" width="1" height="4" fill="#c0c0c0"/>
<rect x="170" y="694" width="1" height="5" fill="#c0c0c0"/>
<rect x="174" y="692" width="1" height="7" fill="#c0c0c0"/>
<rect x="178" y="691" width="1" height="8" fill="#c0c0c0"/>
<rect x="182" y="691" width="1" height="8" fill="#c0c0c0"/>
<rect x="186" y="690" width="1" height="9" fill="#c0c0c0"/>
<rect x="190" y="690" width="1" height="9" fill="#c0c0c0"/>
<rect x="194" y="690" width="1" height="9" fill="#c0c0c0"/>
<rect x="198" y="690" width="1" height="9" fill="#c0c0c0"/>
<rect x="202" y="692" width="1" height="7" fill="#c0c0c0"/>
<rect x="206" y="694" width="1" height="5" fill="#c0c0c0"/>
<rect x="210" y="689" width="1" height="10" fill="#c0c0c0"/>
<rect x="214" y="686" width="1" height="13" fill="#c0c0c0"/>
<rect x="218" y="684" width="1" height="15" fill="#c0c0c0"/>
<rect x="222" y="683" width="1" height="16" fill="#c0c0c0"/>
<rect x="226" y="682" width="1" height="17" fill="#c0c0c0"/>
<rect x="230" y="685" width="1" height="14" fill="#c0c0c0"/>
<rect x="234" y="688" width="1" height="11" fill="#c0c0c0"/>
<rect x="238" y="689" width="1" height="10" fill="#c0c0c0"/>
<rect x="242" y="690" width="1" height="9" fill="#c0c0c0"/>
<rect x="246" y="691" width="1" height="8" fill="#c0c0c0"/>
<rect x="250" y="691" width="1" height="8" fill="#c0c0c0"/>
<rect x="254" y="690" width="1" height="9" fill="#c0c0c0"/>
<rect x="258" y="688" width="1" height="11" fill="#c0c0c0"/>
<rect x="262" y="687" width="1" height="12" fill="#c0c0c0"/>
<rect x="266" y="687" width="1" height="12" fill="#c0c0c0"/>
<rect x="270" y="688" width="1" height="11" fill="#c0c0c0"/>
<rect x="274" y="690" width="1" height="9" fill="#c0c0c0"/>
<rect x="278" y="689" width="1" height="10" fill="#c0c0c0"/>
<rect x="282" y="687" width="1" height="12" fill="#c0c0c0"/>
<rect x="286" y="686" width="1" height="13" fill="#c0c0c0"/>
<rect x="290" y="685" width="1" height="14" fill="#c0c0c0"/>
<rect x="294" y="684" width="1" height="15" fill="#c0c0c0"/>
<rect x="298" y="679" width="1" height="20" fill="#c0c0c0"/>
<rect x="302" y="679" width="1" height="20" fill="#c0c0c0"/>
<rect x="306" y="679" width="1" height="20" fill="#c0c0c0"/>
<rect x="310" y="679" width="1" height="20" fill="#c0c0c0"/>
<rect x="314" y="682" width="1" height="17" fill="#c0c0c0"/>
<rect x="318" y="686" width="1" height="13" fill="#c0c0c0"/>
<rect x="322" y="689" width="1" height="10" fill="#c0c0c0"/>
<rect x="326" y="692" width="1" height="7" fill="#c0c0c0"/>
<rect x="330" y="698" width="1" height="1" fill="#c0c0c0"/>
<rect x="334" y="698" width="1" height="6" fill="#c0c0c0"/>
<rect x="338" y="698" width="1" height="11" fill="#c0c0c0"/>
<rect x="342" y="698" width="1" height="13" fill="#c0c0c0"/>
<rect x="346" y="698" width="1" height="16" fill="#c0c0c0"/>
<rect x="350" y="698" width="1" height="17" fill="#c0c0c0"/>
<rect x="354" y="698" width="1" height="18" fill="#c0c0c0"/>
<rect x="358" y="698" width="1" height="17" fill="#c0c0c0"/>
<rect x="362" y="698" width="1" height="16" fill="#c0c0c0"/>
<rect x="366" y="698" width="1" height="15" fill="#c0c0c0"/>
<rect x="370" y="698" width="1" height="15" fill="#c0c0c0"/>
<rect x="374" y="698" width="1" height="14" fill="#c0c0c0"/>
<rect x="378" y="698" width="1" height="14" fill="#c0c0c0"/>
<rect x="382" y="698" width="1" height="14" fill="#c0c0c0"/>
<rect x="386" y="698" width="1" height="15" fill="#c0c0c0"/>
<rect x="390" y="698" width="1" height="17" fill="#c0c0c0"/>
<rect x="394" y="698" width="1" height="15" fill="#c0c0c0"/>
<rect x="398" y="698" width="1" height="14" fill="#c0c0c0"/>
<rect x="402" y="698" width="1" height="12" fill="#c0c0c0"/>
<rect x="406" y="698" width="1" height="10" fill="#c0c0c0"/>
<rect x="410" y="698" width="1" height="10" fill="#c0c0c0"/>
<rect x="414" y="698" width="1" height="10" fill="#c0c0c0"/>
<rect x="418" y="698" width="1" height="10" fill="#c0c0c0"/>
<rect x="422" y="698" width="1" height="10" fill="#c0c0c0"/>
<rect x="426" y="698" width="1" height="10" fill="#c0c0c0"/>
<rect x="430" y="698" width="1" height="10" fill="#c0c0c0"/>
<rect x="434" y="698" width="1" height="14" fill="#c0c0c0"/>
<rect x="438" y="698" width="1" height="18" fill="#c0c0c0"/>
<rect x="442" y="698" width="1" height="22" fill="#c0c0c0"/>
<rect x="446" y="698" width="1" height="25" fill="#c0c0c0"/>
<rect x="450" y="698" width="1" height="26" fill="#c0c0c0"/>
<rect x="454" y="698" width="1" height="27" fill="#c0c0c0"/>
<rect x="458" y="698" width="1" height="28" fill="#c0c0c0"/>
<rect x="462" y="698" width="1" height="27" fill="#c0c0c0"/>
<rect x="466" y="698" width="1" height="29" fill="#c0c0c0"/>
<rect x="470" y="698" width="1" height="30" fill="#c0c0c0"/>
<rect x="474" y="698" width="1" height="29" fill="#c0c0c0"/>
<rect x="478" y="698" width="1" height="29" fill="#c0c0c0"/>
<rect x="482" y="698" width="1" height="29" fill="#c0c0c0"/>
<rect x="486" y="698" width="1" height="29" fill="#c0c0c0"/>
<rect x="490" y="698" width="1" height="27" fill="#c0c0c0"/>
<rect x="494" y="698" width="1" height="25" fill="#c0c0c0"/>
<rect x="498" y="698" width="1" height="21" fill="#c0c0c0"/>
<rect x="502" y="698" width="1" height="18" fill="#c0c0c0"/>
<rect x="506" y="698" width="1" height="17" fill="#c0c0c0"/>
<rect x="510" y="698" width="1" height="17" fill="#c0c0c0"/>
<rect x="514" y="698" width="1" height="16" fill="#c0c0c0"/>
<rect x="518" y="698" width="1" height="14" fill="#c0c0c0"/>
<rect x="522" y="698" width="1" height="15" fill="#c0c0c0"/>
<rect x="526" y="698" width="1" height="16" fill="#c0c0c0"/>
<rect x="530" y="698" width="1" height="16" fill="#c0c0c0"/>
<rect x="534" y="698" width="1" height="17" fill="#c0c0c0"/>
<rect x="538" y="698" width="1" height="21" fill="#c0c0c0"/>
<rect x="542" y="698" width="1" height="23" fill="#c0c0c0"/>
<rect x="546" y="698" width="1" height="22" fill="#c0c0c0"/>
<rect x="550" y="698" width="1" height="21" fill="#c0c0c0"/>
<rect x="554" y="698" width="1" height="22" fill="#c0c0c0"/>
<rect x="558" y="698" width="1" height="23" fill="#c0c0c0"/>
<rect x="562" y="698" width="1" height="25" fill="#c0c0c0"/>
<rect x="566" y="698" width="1" height="24" fill="#c0c0c0"/>
<rect x="570" y="698" width="1" height="24" fill="#c0c0c0"/>
<rect x="574" y="698" width="1" height="24" fill="#c0c0c0"/>
<rect x="578" y="698" width="1" height="24" fill="#c0c0c0"/>
<rect x="582" y="698" width="1" height="27" fill="#c0c0c0"/>
<rect x="586" y="698" width="1" height="28" fill="#c0c0c0"/>
<rect x="590" y="698" width="1" height="29" fill="#c0c0c0"/>
<rect x="594" y="698" width="1" height="28" fill="#c0c0c0"/>
<rect x="598" y="698" width="1" height="27" fill="#c0c0c0"/>
<rect x="602" y="698" width="1" height="27" fill="#c0c0c0"/>
<rect x="606" y="698" width="1" height="27" fill="#c0c0c0"/>
<rect x="610" y="698" width="1" height="29" fill="#c0c0c0"/>
<rect x="614" y="698" width="1" height="30" fill="#c0c0c0"/>
<rect x="618" y="698" width="1" height="32" fill="#c0c0c0"/>
<rect x="622" y="698" width="1" height="34" fill="#c0c0c0"/>
<rect x="626" y="698" width="1" height="36" fill="#c0c0c0"/>
<rect x="630" y="698" width="1" height="39" fill="#c0c0c0"/>
<rect x="634" y="698" width="1" height="41" fill="#c0c0c0"/>
<rect x="638" y="698" width="1" height="40" fill="#c0c0c0"/>
<rect x="642" y="698" width="1" height="40" fill="#c0c0c0"/>
<rect x="646" y="698" width="1" height="40" fill="#c0c0c0"/>
<rect x="650" y="698" width="1" height="40" fill="#c0c0c0"/>
<rect x="654" y="698" width="1" height="37" fill="#c0c0c0"/>
<rect x="658" y="698" width="1" height="36" fill="#c0c0c0"/>
<rect x="662" y="698" width="1" height="36" fill="#c0c0c0"/>
<rect x="666" y="698" width="1" height="34" fill="#c0c0c0"/>
<rect x="670" y="698" width="1" height="33" fill="#c0c0c0"/>
<rect x="674" y="698" width="1" height="34" fill="#c0c0c0"/>
<rect x="678" y="698" width="1" height="37" fill="#c0c0c0"/>
<rect x="682" y="698" width="1" height="42" fill="#c0c0c0"/>
<rect x="686" y="698" width="1" height="43" fill="#c0c0c0"/>
<rect x="690" y="698" width="1" height="44" fill="#c0c0c0"/>
<rect x="694" y="698" width="1" height="43" fill="#c0c0c0"/>
<rect x="698" y="698" width="1" height="39" fill="#c0c0c0"/>
<rect x="702" y="698" width="1" height="38" fill="#c0c0c0"/>
<rect x="706" y="698" width="1" height="34" fill="#c0c0c0"/>
<rect x="710" y="698" width="1" height="28" fill="#c0c0c0"/>
<rect x="714" y="698" width="1" height="24" fill="#c0c0c0"/>
<rect x="718" y="698" width="1" height="20" fill="#c0c0c0"/>
<rect x="722" y="698" width="1" height="19" fill="#c0c0c0"/>
<rect x="726" y="698" width="1" height="17" fill="#c0c0c0"/>
<rect x="730" y="698" width="1" height="18" fill="#c0c0c0"/>
<rect x="734" y="698" width="1" height="23" fill="#c0c0c0"/>
<rect x="738" y="698" width="1" height="25" fill="#c0c0c0"/>
<rect x="742" y="698" width="1" height="27" fill="#c0c0c0"/>
<rect x="746" y="698" width="1" height="32" fill="#c0c0c0"/>
<rect x="750" y="698" width="1" height="33" fill="#c0c0c0"/>
<rect x="754" y="698" width="1" height="34" fill="#c0c0c0"/>
<rect x="758" y="698" width="1" height="34" fill="#c0c0c0"/>
<rect x="762" y="698" width="1" height="39" fill="#c0c0c0"/>
<rect x="766" y="698" width="1" height="42" fill="#c0c0c0"/>
<rect x="770" y="698" width="1" height="38" fill="#c0c0c0"/>
<rect x="774" y="698" width="1" height="36" fill="#c0c0c0"/>
<rect x="778" y="698" width="1" height="36" fill="#c0c0c0"/>
<rect x="782" y="698" width="1" height="35" fill="#c0c0c0"/>
<rect x="786" y="698" width="1" height="36" fill="#c0c0c0"/>
<rect x="790" y="698" width="1" height="36" fill="#c0c0c0"/>
<rect x="794" y="698" width="1" height="38" fill="#c0c0c0"/>
<rect x="798" y="698" width="1" height="40" fill="#c0c0c0"/>
<rect x="802" y="698" width="1" height="44" fill="#c0c0c0"/>
<rect x="806" y="698" width="1" height="43" fill="#c0c0c0"/>
<rect x="810" y="698" width="1" height="42" fill="#c0c0c0"/>
<rect x="814" y="698" width="1" height="41" fill="#c0c0c0"/>
<rect x="818" y="698" width="1" height="36" fill="#c0c0c0"/>
<rect x="822" y="698" width="1" height="32" fill="#c0c0c0"/>
<rect x="826" y="698" width="1" height="26" fill="#c0c0c0"/>
<rect x="830" y="698" width="1" height="22" fill="#c0c0c0"/>
<rect x="834" y="698" width="1" height="21" fill="#c0c0c0"/>
<rect x="838" y="698" width="1" height="21" fill="#c0c0c0"/>
<rect x="842" y="698" width="1" height="20" fill="#c0c0c0"/>
<rect x="846" y="698" width="1" height="20" fill="#c0c0c0"/>
<rect x="850" y="698" width="1" height="23" fill="#c0c0c0"/>
<rect x="854" y="698" width="1" height="29" fill="#c0c0c0"/>
<rect x="858" y="698" width="1" height="34" fill="#c0c0c0"/>
<rect x="862" y="698" width="1" height="39" fill="#c0c0c0"/>
<rect x="866" y="698" width="1" height="38" fill="#c0c0c0"/>
<rect x="870" y="698" width="1" height="39" fill="#c0c0c0"/>
<rect x="874" y="698" width="1" height="38" fill="#c0c0c0"/>
<rect x="878" y="698" width="1" height="38" fill="#c0c0c0"/>
<rect x="882" y="698" width="1" height="37" fill="#c0c0c0"/>
<rect x="886" y="698" width="1" height="37" fill="#c0c0c0"/>
<rect x="890" y="698" width="1" height="39" fill="#c0c0c0"/>
<rect x="894" y="698" width="1" height="42" fill="#c0c0c0"/>
<rect x="898" y="698" width="1" height="44" fill="#c0c0c0"/>
<rect x="902" y="698" width="1" height="43" fill="#c0c0c0"/>
<rect x="906" y="698" width="1" height="43" fill="#c0c0c0"/>
<rect x="910" y="698" width="1" height="43" fill="#c0c0c0"/>
<rect x="914" y="698" width="1" height="40" fill="#c0c0c0"/>
<rect x="918" y="698" width="1" height="37" fill="#c0c0c0"/>
<rect x="922" y="698" width="1" height="35" fill="#c0c0c0"/>
<rect x="926" y="698" width="1" height="34" fill="#c0c0c0"/>
<rect x="930" y="698" width="1" height="33" fill="#c0c0c0"/>
<rect x="934" y="698" width="1" height="31" fill="#c0c0c0"/>
<rect x="938" y="698" width="1" height="29" fill="#c0c0c0"/>
<rect x="942" y="698" width="1" height="29" fill="#c0c0c0"/>
<rect x="946" y="698" width="1" height="29" fill="#c0c0c0"/>
<rect x="950" y="698" width="1" height="30" fill="#c0c0c0"/>
<rect x="954" y="698" width="1" height="33" fill="#c0c0c0"/>
<rect x="958" y="698" width="1" height="35" fill="#c0c0c0"/>
<rect x="962" y="698" width="1" height="35" fill="#c0c0c0"/>
<rect x="966" y="698" width="1" height="35" fill="#c0c0c0"/>
<rect x="970" y="698" width="1" height="34" fill="#c0c0c0"/>
<rect x="974" y="698" width="1" height="31" fill="#c0c0c0"/>
<rect x="978" y="698" width="1" height="30" fill="#c0c0c0"/>
<rect x="982" y="698" width="1" height="28" fill="#c0c0c0"/>
<rect x="986" y="698" width="1" height="26" fill="#c0c0c0"/>
<rect x="990" y="698" width="1" height="25" fill="#c0c0c0"/>
<rect x="994" y="698" width="1" height="26" fill="#c0c0c0"/>
<rect x="998" y="698" width="1" height="26" fill="#c0c0c0"/>
<rect x="1002" y="698" width="1" height="25" fill="#c0c0c0"/>
<rect x="1006" y="698" width="1" height="24" fill="#c0c0c0"/>
<rect x="1010" y="698" width="1" height="21" fill="#c0c0c0"/>
<rect x="1014" y="698" width="1" height="19" fill="#c0c0c0"/>
<rect x="1018" y="698" width="1" height="17" fill="#c0c0c0"/>
<rect x="1022" y="698" width="1" height="17" fill="#c0c0c0"/>
<rect x="1026" y="698" width="1" height="17" fill="#c0c0c0"/>
<rect x="1030" y="698" width="1" height="15" fill="#c0c0c0"/>
<rect x="1034" y="698" width="1" height="15" fill="#c0c0c0"/>
<rect x="1038" y="698" width="1" height="16" fill="#c0c0c0"/>
<rect x="1042" y="698" width="1" height="17" fill="#c0c0c0"/>
<rect x="1046" y="698" width="1" height="18" fill="#c0c0c0"/>
<rect x="1050" y="698" width="1" height="18" fill="#c0c0c0"/>
<rect x="1054" y="698" width="1" height="22" fill="#c0c0c0"/>
<rect x="1058" y="698" width="1" height="27" fill="#c0c0c0"/>
<rect x="1062" y="698" width="1" height="28" fill="#c0c0c0"/>
<rect x="1066" y="698" width="1" height="28" fill="#c0c0c0"/>
<rect x="1070" y="698" width="1" height="29" fill="#c0c0c0"/>
<rect x="1074" y="698" width="1" height="28" fill="#c0c0c0"/>
<rect x="1078" y="698" width="1" height="26" fill="#c0c0c0"/>
<rect x="1082" y="698" width="1" height="26" fill="#c0c0c0"/>
<rect x="1086" y="698" width="1" height="25" fill="#c0c0c0"/>
<rect x="1090" y="698" width="1" height="24" fill="#c0c0c0"/>
<rect x="1094" y="698" width="1" height="22" fill="#c0c0c0"/>
<rect x="1098" y="698" width="1" height="19" fill="#c0c0c0"/>
<rect x="1102" y="698" width="1" height="16" fill="#c0c0c0"/>
<rect x="1106" y="698" width="1" height="15" fill="#c0c0c0"/>
<rect x="1110" y="698" width="1" height="15" fill="#c0c0c0"/>
<rect x="1114" y="698" width="1" height="15" fill="#c0c0c0"/>
<rect x="1118" y="698" width="1" height="12" fill="#c0c0c0"/>
<rect x="1122" y="698" width="1" height="10" fill="#c0c0c0"/>
<rect x="1126" y="698" width="1" height="9" fill="#c0c0c0"/>
<rect x="1130" y="698" width="1" height="9" fill="#c0c0c0"/>
<rect x="1134" y="698" width="1" height="7" fill="#c0c0c0"/>
<rect x="1138" y="698" width="1" height="8" fill="#c0c0c0"/>
<rect x="1142" y="698" width="1" height="11" fill="#c0c0c0"/>
<rect x="1146" y="698" width="1" height="12" fill="#c0c0c0"/>
<rect x="1150" y="698" width="1" height="11" fill="#c0c0c0"/>
<rect x="1154" y="698" width="1" height="11" fill="#c0c0c0"/>
<rect x="1158" y="698" width="1" height="11" fill="#c0c0c0"/>
<rect x="1162" y="698" width="1" height="10" fill="#c0c0c0"/>
<rect x="1166" y="698" width="1" height="10" fill="#c0c0c0"/>
<rect x="1170" y="698" width="1" height="10" fill="#c0c0c0"/>
<rect x="1174" y="698" width="1" height="12" fill="#c0c0c0"/>
<rect x="1178" y="698" width="1" height="15" fill="#c0c0c0"/>
<rect x="1182" y="698" width="1" height="17" fill="#c0c0c0"/>
<rect x="1186" y="698" width="1" height="19" fill="#c0c0c0"/>
<rect x="1190" y="698" width="1" height="20" fill="#c0c0c0"/>
<rect x="1194" y="698" width="1" height="21" fill="#c0c0c0"/>
<rect x="1198" y="698" width="1" height="22" fill="#c0c0c0"/>
<rect x="1202" y="698" width="1" height="22" fill="#c0c0c0"/>
<rect x="1206" y="698" width="1" height="19" fill="#c0c0c0"/>
<rect x="1210" y="698" width="1" height="15" fill="#c0c0c0"/>
<rect x="1214" y="698" width="1" height="12" fill="#c0c0c0"/>
<rect x="1218" y="698" width="1" height="9" fill="#c0c0c0"/>
<rect x="1222" y="698" width="1" height="6" fill="#c0c0c0"/>
<rect x="1226" y="698" width="1" height="5" fill="#c0c0c0"/>
<rect x="1230" y="698" width="1" height="5" fill="#c0c0c0"/>
<rect x="1234" y="698" width="1" height="3" fill="#c0c0c0"/>
<rect x="1238" y="698" width="1" height="1" fill="#c0c0c0"/>
<rect x="1242" y="695" width="1" height="4" fill="#c0c0c0"/>
<rect x="1246" y="695" width="1" height="4" fill="#c0c0c0"/>
<rect x="1250" y="694" width="1" height="5" fill="#c0c0c0"/>
<rect x="1254" y="694" width="1" height="5" fill="#c0c0c0"/>
</g>
<g shape-rendering="crispEdges"><path d="M4 683h1v1h-1zM70 683h1v1h-1zM309 683h2v1h-2zM326 683h3v1h-3zM466 721h1v1h-1zM506 721h3v1h-3zM585 721h2v1h-2zM734 721h3v1h-3zM752 721h2v1h-2zM850 721h1v1h-1zM860 721h1v1h-1zM1016 721h1v1h-1zM1077 721h2v1h-2zM1100 721h2v1h-2zM10 687h1v1h-1zM67 687h1v1h-1zM154 687h1v1h-1zM225 687h2v1h-2zM230 687h3v1h-3zM236 687h1v1h-1zM249 687h2v1h-2zM254 687h3v1h-3zM290 687h3v1h-3zM296 687h1v1h-1zM334 687h1v1h-1zM364 710h1v1h-1zM405 710h2v1h-2zM410 710h3v1h-3zM1130 710h3v1h-3zM1190 710h3v1h-3zM1228 710h1v1h-1zM645 733h2v1h-2zM674 733h3v1h-3zM680 733h3v1h-3zM716 733h1v1h-1zM782 733h3v1h-3zM788 733h3v1h-3zM830 733h2v1h-2zM886 733h1v1h-1zM938 733h2v1h-2zM63 693h1v1h-1zM166 693h1v1h-1zM188 693h1v1h-1zM454 715h1v1h-1zM524 715h1v1h-1zM549 715h2v1h-2zM1034 715h3v1h-3zM1058 715h3v1h-3zM1118 715h2v1h-2zM1208 715h3v1h-3zM1214 715h3v1h-3zM66 689h1v1h-1zM158 689h2v1h-2zM218 689h3v1h-3zM266 689h3v1h-3zM272 689h3v1h-3zM278 689h3v1h-3zM908 737h3v1h-3zM920 737h3v1h-3zM926 737h3v1h-3zM482 725h3v1h-3zM488 725h3v1h-3zM494 725h3v1h-3zM620 725h1v1h-1zM728 725h1v1h-1zM760 725h1v1h-1zM843 725h2v1h-2zM868 725h1v1h-1zM998 725h3v1h-3zM470 722h3v1h-3zM590 722h3v1h-3zM596 722h1v1h-1zM754 722h1v1h-1zM848 722h2v1h-2zM861 722h2v1h-2zM1010 722h3v1h-3zM1082 722h3v1h-3zM626 727h3v1h-3zM764 727h1v1h-1zM873 727h2v1h-2zM992 727h3v1h-3zM87 665h1v1h-1zM124 665h1v1h-1zM63 694h1v1h-1zM170 694h3v1h-3zM176 694h3v1h-3zM182 694h3v1h-3zM650 735h3v1h-3zM656 735h3v1h-3zM662 735h3v1h-3zM668 735h1v1h-1zM693 735h2v1h-2zM698 735h3v1h-3zM710 735h3v1h-3zM806 735h3v1h-3zM812 735h1v1h-1zM825 735h2v1h-2zM896 735h1v1h-1zM932 735h2v1h-2zM15 691h2v1h-2zM200 691h3v1h-3zM206 691h3v1h-3zM339 691h1v1h-1zM561 718h2v1h-2zM566 718h3v1h-3zM1028 718h1v1h-1zM1066 718h1v1h-1zM1108 718h1v1h-1zM669 734h2v1h-2zM686 734h3v1h-3zM692 734h1v1h-1zM794 734h3v1h-3zM800 734h3v1h-3zM890 734h3v1h-3zM934 734h1v1h-1zM128 667h2v1h-2zM164 692h2v1h-2zM189 692h2v1h-2zM194 692h3v1h-3zM340 692h1v1h-1zM458 717h3v1h-3zM518 717h2v1h-2zM560 717h1v1h-1zM1029 717h2v1h-2zM1064 717h2v1h-2zM1112 717h1v1h-1zM38 708h3v1h-3zM44 708h1v1h-1zM422 708h3v1h-3zM428 708h1v1h-1zM440 708h1v1h-1zM1137 708h2v1h-2zM1178 708h3v1h-3zM1184 708h1v1h-1zM1232 708h2v1h-2zM632 728h1v1h-1zM723 728h2v1h-2zM765 728h1v1h-1zM838 728h1v1h-1zM950 728h3v1h-3zM956 728h3v1h-3zM962 728h3v1h-3zM968 728h3v1h-3zM986 728h3v1h-3zM465 720h1v1h-1zM512 720h1v1h-1zM573 720h2v1h-2zM578 720h3v1h-3zM584 720h1v1h-1zM740 720h1v1h-1zM854 720h3v1h-3zM1017 720h2v1h-2zM1076 720h1v1h-1zM1102 720h1v1h-1zM530 713h3v1h-3zM536 713h3v1h-3zM1046 713h3v1h-3zM1052 713h1v1h-1zM1198 713h1v1h-1zM1221 713h2v1h-2zM704 736h3v1h-3zM813 736h2v1h-2zM818 736h3v1h-3zM824 736h1v1h-1zM897 736h2v1h-2zM902 736h3v1h-3zM633 729h2v1h-2zM722 729h1v1h-1zM766 729h1v1h-1zM837 729h1v1h-1zM946 729h1v1h-1zM974 729h3v1h-3zM980 729h3v1h-3zM351 702h2v1h-2zM1244 702h2v1h-2zM369 712h2v1h-2zM374 712h3v1h-3zM380 712h3v1h-3zM386 712h3v1h-3zM392 712h3v1h-3zM448 712h1v1h-1zM1124 712h2v1h-2zM1196 712h2v1h-2zM9 686h1v1h-1zM153 686h1v1h-1zM237 686h2v1h-2zM242 686h3v1h-3zM248 686h1v1h-1zM297 686h2v1h-2zM333 686h1v1h-1zM452 714h2v1h-2zM525 714h2v1h-2zM542 714h3v1h-3zM548 714h1v1h-1zM1040 714h3v1h-3zM1053 714h2v1h-2zM1120 714h1v1h-1zM1202 714h3v1h-3zM1220 714h1v1h-1zM75 677h1v1h-1zM142 677h1v1h-1zM368 711h1v1h-1zM398 711h3v1h-3zM404 711h1v1h-1zM446 711h2v1h-2zM1126 711h1v1h-1zM1226 711h2v1h-2zM476 723h1v1h-1zM501 723h2v1h-2zM597 723h2v1h-2zM602 723h3v1h-3zM608 723h1v1h-1zM730 723h1v1h-1zM1005 723h2v1h-2zM1088 723h3v1h-3zM1094 723h3v1h-3zM464 719h1v1h-1zM513 719h2v1h-2zM572 719h1v1h-1zM741 719h2v1h-2zM746 719h3v1h-3zM1022 719h3v1h-3zM1070 719h3v1h-3zM1106 719h2v1h-2zM362 709h2v1h-2zM416 709h3v1h-3zM441 709h2v1h-2zM1136 709h1v1h-1zM1185 709h2v1h-2zM770 730h3v1h-3zM836 730h1v1h-1zM878 730h3v1h-3zM944 730h2v1h-2zM105 659h2v1h-2zM520 716h1v1h-1zM554 716h3v1h-3zM1113 716h2v1h-2zM45 707h2v1h-2zM358 707h1v1h-1zM429 707h2v1h-2zM434 707h3v1h-3zM1142 707h3v1h-3zM1148 707h1v1h-1zM1161 707h2v1h-2zM1166 707h3v1h-3zM1172 707h3v1h-3zM1234 707h1v1h-1zM135 672h2v1h-2zM21 696h1v1h-1zM345 696h1v1h-1zM2 682h2v1h-2zM71 682h1v1h-1zM148 682h1v1h-1zM314 682h3v1h-3zM320 682h3v1h-3zM67 688h1v1h-1zM224 688h1v1h-1zM260 688h3v1h-3zM284 688h3v1h-3zM33 705h1v1h-1zM50 705h2v1h-2zM356 705h1v1h-1zM1238 705h2v1h-2zM914 738h3v1h-3zM92 661h2v1h-2zM20 695h1v1h-1zM62 695h1v1h-1zM344 695h1v1h-1zM638 731h3v1h-3zM718 731h1v1h-1zM776 731h1v1h-1zM80 671h1v1h-1zM134 671h1v1h-1zM34 706h1v1h-1zM357 706h1v1h-1zM1149 706h2v1h-2zM1154 706h3v1h-3zM1160 706h1v1h-1zM82 669h1v1h-1zM14 690h1v1h-1zM160 690h1v1h-1zM212 690h3v1h-3zM338 690h1v1h-1zM58 699h1v1h-1zM1250 699h3v1h-3zM477 724h2v1h-2zM500 724h1v1h-1zM609 724h2v1h-2zM614 724h3v1h-3zM729 724h1v1h-1zM758 724h2v1h-2zM866 724h2v1h-2zM1004 724h1v1h-1zM644 732h1v1h-1zM717 732h1v1h-1zM777 732h2v1h-2zM832 732h1v1h-1zM884 732h2v1h-2zM940 732h1v1h-1zM116 662h2v1h-2zM22 697h1v1h-1zM346 697h1v1h-1zM621 726h2v1h-2zM842 726h1v1h-1zM872 726h1v1h-1zM77 675h1v1h-1zM140 675h1v1h-1zM94 660h1v1h-1zM110 660h3v1h-3zM32 704h1v1h-1zM52 704h1v1h-1zM1240 704h1v1h-1zM27 701h2v1h-2zM56 701h1v1h-1zM350 701h1v1h-1zM1246 701h1v1h-1zM130 668h1v1h-1zM88 664h1v1h-1zM122 664h2v1h-2zM98 658h3v1h-3zM104 658h1v1h-1zM8 685h1v1h-1zM152 685h1v1h-1zM302 685h3v1h-3zM332 685h1v1h-1zM26 700h1v1h-1zM57 700h1v1h-1zM76 676h1v1h-1zM141 676h1v1h-1zM72 681h1v1h-1zM147 681h1v1h-1zM86 666h1v1h-1zM146 680h1v1h-1zM81 670h1v1h-1zM118 663h1v1h-1zM308 684h1v1h-1z" fill="#ff0000"/></g>
<path d="M1257,23 L1266.4,23 L1261.7,27.8 Z" fill="#c0c0c0"/>
<rect x="1.5" y="22.5" width="1577" height="527" fill="none" stroke="#000" stroke-width="1"/>
<rect x="1.5" y="551.5" width="1577" height="96" fill="none" stroke="#000" stroke-width="1"/>
<rect x="1.5" y="649.5" width="1577" height="96" fill="none" stroke="#000" stroke-width="1"/>
<g shape-rendering="crispEdges">
<rect x="1579" y="51" width="2" height="1" fill="#000"/>
<rect x="1579" y="84" width="2" height="1" fill="#000"/>
<rect x="1579" y="117" width="2" height="1" fill="#000"/>
<rect x="1579" y="150" width="2" height="1" fill="#000"/>
<rect x="1579" y="183" width="2" height="1" fill="#000"/>
<rect x="1579" y="216" width="2" height="1" fill="#000"/>
<rect x="1579" y="249" width="2" height="1" fill="#000"/>
<rect x="1579" y="282" width="2" height="1" fill="#000"/>
<rect x="1579" y="348" width="2" height="1" fill="#000"/>
<rect x="1579" y="381" width="2" height="1" fill="#000"/>
<rect x="1579" y="414" width="2" height="1" fill="#000"/>
<rect x="1579" y="447" width="2" height="1" fill="#000"/>
<rect x="1579" y="480" width="2" height="1" fill="#000"/>
<rect x="1579" y="513" width="2" height="1" fill="#000"/>
<rect x="1579" y="546" width="2" height="1" fill="#000"/>
<rect x="1579" y="553" width="1" height="1" fill="#000"/>
<rect x="1579" y="581" width="1" height="1" fill="#000"/>
<rect x="1579" y="618" width="1" height="1" fill="#000"/>
<rect x="1579" y="646" width="1" height="1" fill="#000"/>
<rect x="1579" y="651" width="1" height="1" fill="#000"/>
<rect x="1579" y="698" width="1" height="1" fill="#000"/>
<rect x="1579" y="744" width="1" height="1" fill="#000"/>
</g>
<text x="1584" y="55" font-size="10" fill="#000" stroke="#000" stroke-width="0.22" textLength="33.2" lengthAdjust="spacingAndGlyphs">7.19110</text>
<text x="1584" y="88" font-size="10" fill="#000" stroke="#000" stroke-width="0.22" textLength="33.2" lengthAdjust="spacingAndGlyphs">7.13670</text>
<text x="1584" y="121" font-size="10" fill="#000" stroke="#000" stroke-width="0.22" textLength="33.2" lengthAdjust="spacingAndGlyphs">7.08230</text>
<text x="1584" y="154" font-size="10" fill="#000" stroke="#000" stroke-width="0.22" textLength="33.2" lengthAdjust="spacingAndGlyphs">7.02950</text>
<text x="1584" y="187" font-size="10" fill="#000" stroke="#000" stroke-width="0.22" textLength="33.2" lengthAdjust="spacingAndGlyphs">6.97510</text>
<text x="1584" y="220" font-size="10" fill="#000" stroke="#000" stroke-width="0.22" textLength="33.2" lengthAdjust="spacingAndGlyphs">6.92230</text>
<text x="1584" y="253" font-size="10" fill="#000" stroke="#000" stroke-width="0.22" textLength="33.2" lengthAdjust="spacingAndGlyphs">6.86790</text>
<text x="1584" y="286" font-size="10" fill="#000" stroke="#000" stroke-width="0.22" textLength="33.2" lengthAdjust="spacingAndGlyphs">6.81350</text>
<text x="1584" y="352" font-size="10" fill="#000" stroke="#000" stroke-width="0.22" textLength="33.2" lengthAdjust="spacingAndGlyphs">6.70630</text>
<text x="1584" y="385" font-size="10" fill="#000" stroke="#000" stroke-width="0.22" textLength="33.2" lengthAdjust="spacingAndGlyphs">6.65350</text>
<text x="1584" y="418" font-size="10" fill="#000" stroke="#000" stroke-width="0.22" textLength="33.2" lengthAdjust="spacingAndGlyphs">6.59910</text>
<text x="1584" y="451" font-size="10" fill="#000" stroke="#000" stroke-width="0.22" textLength="33.2" lengthAdjust="spacingAndGlyphs">6.54470</text>
<text x="1584" y="484" font-size="10" fill="#000" stroke="#000" stroke-width="0.22" textLength="33.2" lengthAdjust="spacingAndGlyphs">6.49190</text>
<text x="1584" y="517" font-size="10" fill="#000" stroke="#000" stroke-width="0.22" textLength="33.2" lengthAdjust="spacingAndGlyphs">6.43750</text>
<text x="1584" y="550" font-size="10" fill="#000" stroke="#000" stroke-width="0.22" textLength="33.2" lengthAdjust="spacingAndGlyphs">6.38470</text>
<rect x="1580" y="162" width="41" height="11" fill="#ff0000" shape-rendering="crispEdges"/>
<text x="1583.8" y="171" font-size="10" fill="#fff" stroke="#fff" stroke-width="0.22" textLength="33.2" lengthAdjust="spacingAndGlyphs">7.00029</text>
<rect x="1580" y="230" width="41" height="11" fill="#ff0000" shape-rendering="crispEdges"/>
<text x="1583.8" y="239" font-size="10" fill="#fff" stroke="#fff" stroke-width="0.22" textLength="33.2" lengthAdjust="spacingAndGlyphs">6.88897</text>
<rect x="1580" y="308" width="41" height="11" fill="#ff0000" shape-rendering="crispEdges"/>
<text x="1583.8" y="317" font-size="10" fill="#fff" stroke="#fff" stroke-width="0.22" textLength="33.2" lengthAdjust="spacingAndGlyphs">6.76157</text>
<rect x="1580" y="391" width="41" height="11" fill="#ff0000" shape-rendering="crispEdges"/>
<text x="1583.8" y="400" font-size="10" fill="#fff" stroke="#fff" stroke-width="0.22" textLength="33.2" lengthAdjust="spacingAndGlyphs">6.62709</text>
<rect x="1580" y="456" width="41" height="11" fill="#00ff00" shape-rendering="crispEdges"/>
<text x="1583.8" y="465" font-size="10" fill="#fff" stroke="#fff" stroke-width="0.22" textLength="33.2" lengthAdjust="spacingAndGlyphs">6.52138</text>
<rect x="1580" y="488" width="41" height="11" fill="#000" shape-rendering="crispEdges"/>
<text x="1583.8" y="497" font-size="10" fill="#fff" stroke="#fff" stroke-width="0.22" textLength="33.2" lengthAdjust="spacingAndGlyphs">6.46980</text>
<rect x="1580" y="530" width="41" height="11" fill="#0000ff" shape-rendering="crispEdges"/>
<text x="1583.8" y="539" font-size="10" fill="#fff" stroke="#fff" stroke-width="0.22" textLength="33.2" lengthAdjust="spacingAndGlyphs">6.40104</text>
<text x="1582.5" y="562" font-size="10" fill="#000" stroke="#000" stroke-width="0.22" textLength="14.3" lengthAdjust="spacingAndGlyphs">100</text>
<text x="1582.5" y="585" font-size="10" fill="#000" stroke="#000" stroke-width="0.22" textLength="9.6" lengthAdjust="spacingAndGlyphs">70</text>
<text x="1582.5" y="622" font-size="10" fill="#000" stroke="#000" stroke-width="0.22" textLength="9.6" lengthAdjust="spacingAndGlyphs">30</text>
<text x="1582.5" y="644" font-size="10" fill="#000" stroke="#000" stroke-width="0.22" textLength="4.8" lengthAdjust="spacingAndGlyphs">0</text>
<text x="1582.2" y="660" font-size="10" fill="#000" stroke="#000" stroke-width="0.22" textLength="37.8" lengthAdjust="spacingAndGlyphs">0.042275</text>
<text x="1582.2" y="702" font-size="10" fill="#000" stroke="#000" stroke-width="0.22" textLength="18.2" lengthAdjust="spacingAndGlyphs">0.00</text>
<text x="1582.2" y="742" font-size="10" fill="#000" stroke="#000" stroke-width="0.22" textLength="35.8" lengthAdjust="spacingAndGlyphs">-0.04148</text>
<path d="M4.8,29 L12.2,29 L8.5,33.2 Z" fill="#000"/>
<text x="17.6" y="34" font-size="10" fill="#000" stroke="#000" stroke-width="0.22" textLength="64.8" lengthAdjust="spacingAndGlyphs">USDCNH,Daily</text>
<text x="89.1" y="34" font-size="10" fill="#000" stroke="#000" stroke-width="0.22" textLength="140.6" lengthAdjust="spacingAndGlyphs">6.47640 6.47785 6.46726 6.46980</text>
<text x="6.3" y="564" font-size="10" fill="#000" stroke="#000" stroke-width="0.22" textLength="67.1" lengthAdjust="spacingAndGlyphs">RSI(14) 52.6981</text>
<text x="6.5" y="662" font-size="10" fill="#000" stroke="#000" stroke-width="0.22" textLength="147.5" lengthAdjust="spacingAndGlyphs">MACD(12,26,9) 0.003973 0.000258</text>
<g shape-rendering="crispEdges">
<rect x="2" y="746" width="1" height="3" fill="#000"/>
<rect x="66" y="746" width="1" height="3" fill="#000"/>
<rect x="130" y="746" width="1" height="3" fill="#000"/>
<rect x="194" y="746" width="1" height="3" fill="#000"/>
<rect x="258" y="746" width="1" height="3" fill="#000"/>
<rect x="322" y="746" width="1" height="3" fill="#000"/>
<rect x="386" y="746" width="1" height="3" fill="#000"/>
<rect x="450" y="746" width="1" height="3" fill="#000"/>
<rect x="514" y="746" width="1" height="3" fill="#000"/>
<rect x="578" y="746" width="1" height="3" fill="#000"/>
<rect x="642" y="746" width="1" height="3" fill="#000"/>
<rect x="706" y="746" width="1" height="3" fill="#000"/>
<rect x="770" y="746" width="1" height="3" fill="#000"/>
<rect x="834" y="746" width="1" height="3" fill="#000"/>
<rect x="898" y="746" width="1" height="3" fill="#000"/>
<rect x="962" y="746" width="1" height="3" fill="#000"/>
<rect x="1026" y="746" width="1" height="3" fill="#000"/>
<rect x="1090" y="746" width="1" height="3" fill="#000"/>
<rect x="1154" y="746" width="1" height="3" fill="#000"/>
<rect x="1218" y="746" width="1" height="3" fill="#000"/>
</g>
<text x="1.2" y="758" font-size="10" fill="#000" stroke="#000" stroke-width="0.22" textLength="46.5" lengthAdjust="spacingAndGlyphs">2 Mar 2020</text>
<text x="65.2" y="758" font-size="10" fill="#000" stroke="#000" stroke-width="0.22" textLength="51.6" lengthAdjust="spacingAndGlyphs">20 Mar 2020</text>
<text x="129.2" y="758" font-size="10" fill="#000" stroke="#000" stroke-width="0.22" textLength="45.7" lengthAdjust="spacingAndGlyphs">8 Apr 2020</text>
<text x="193.2" y="758" font-size="10" fill="#000" stroke="#000" stroke-width="0.22" textLength="50.3" lengthAdjust="spacingAndGlyphs">27 Apr 2020</text>
<text x="257.2" y="758" font-size="10" fill="#000" stroke="#000" stroke-width="0.22" textLength="54" lengthAdjust="spacingAndGlyphs">15 May 2020</text>
<text x="321.2" y="758" font-size="10" fill="#000" stroke="#000" stroke-width="0.22" textLength="44.4" lengthAdjust="spacingAndGlyphs">3 Jun 2020</text>
<text x="385.2" y="758" font-size="10" fill="#000" stroke="#000" stroke-width="0.22" textLength="49" lengthAdjust="spacingAndGlyphs">22 Jun 2020</text>
<text x="449.2" y="758" font-size="10" fill="#000" stroke="#000" stroke-width="0.22" textLength="46" lengthAdjust="spacingAndGlyphs">10 Jul 2020</text>
<text x="513.2" y="758" font-size="10" fill="#000" stroke="#000" stroke-width="0.22" textLength="45.5" lengthAdjust="spacingAndGlyphs">29 Jul 2020</text>
<text x="577.2" y="758" font-size="10" fill="#000" stroke="#000" stroke-width="0.22" textLength="52.7" lengthAdjust="spacingAndGlyphs">17 Aug 2020</text>
<text x="641.2" y="758" font-size="10" fill="#000" stroke="#000" stroke-width="0.22" textLength="47.3" lengthAdjust="spacingAndGlyphs">4 Sep 2020</text>
<text x="705.2" y="758" font-size="10" fill="#000" stroke="#000" stroke-width="0.22" textLength="51.6" lengthAdjust="spacingAndGlyphs">23 Sep 2020</text>
<text x="769.2" y="758" font-size="10" fill="#000" stroke="#000" stroke-width="0.22" textLength="50.7" lengthAdjust="spacingAndGlyphs">12 Oct 2020</text>
<text x="833.2" y="758" font-size="10" fill="#000" stroke="#000" stroke-width="0.22" textLength="50.3" lengthAdjust="spacingAndGlyphs">30 Oct 2020</text>
<text x="897.2" y="758" font-size="10" fill="#000" stroke="#000" stroke-width="0.22" textLength="53.4" lengthAdjust="spacingAndGlyphs">18 Nov 2020</text>
<text x="961.2" y="758" font-size="10" fill="#000" stroke="#000" stroke-width="0.22" textLength="46.7" lengthAdjust="spacingAndGlyphs">7 Dec 2020</text>
<text x="1025.2" y="758" font-size="10" fill="#000" stroke="#000" stroke-width="0.22" textLength="51" lengthAdjust="spacingAndGlyphs">25 Dec 2020</text>
<text x="1089.2" y="758" font-size="10" fill="#000" stroke="#000" stroke-width="0.22" textLength="49.1" lengthAdjust="spacingAndGlyphs">14 Jan 2021</text>
<text x="1153.2" y="758" font-size="10" fill="#000" stroke="#000" stroke-width="0.22" textLength="45.8" lengthAdjust="spacingAndGlyphs">2 Feb 2021</text>
<text x="1217.2" y="758" font-size="10" fill="#000" stroke="#000" stroke-width="0.22" textLength="51.2" lengthAdjust="spacingAndGlyphs">20 Feb 2021</text>
<g shape-rendering="crispEdges">
<rect x="0" y="766" width="1623" height="1" fill="#e6e6e6"/>
<rect x="0" y="767" width="1623" height="1" fill="#b8b8b8"/>
<rect x="0" y="768" width="1623" height="1" fill="#1a1a1a"/>
<rect x="0" y="769" width="1623" height="19" fill="#f0f0f0"/>
<rect x="0" y="788" width="1623" height="1" fill="#fcfcfc"/>
<rect x="0" y="789" width="1623" height="2" fill="#f0f0f0"/>
<rect x="107" y="771" width="1" height="14" fill="#5a5a5a"/>
<rect x="207" y="771" width="1" height="14" fill="#5a5a5a"/>
<rect x="311" y="771" width="1" height="14" fill="#5a5a5a"/>
<rect x="623" y="771" width="1" height="14" fill="#5a5a5a"/>
<rect x="715" y="771" width="1" height="14" fill="#5a5a5a"/>
<rect x="807" y="771" width="1" height="14" fill="#5a5a5a"/>
<rect x="880" y="771" width="1" height="14" fill="#5a5a5a"/>
<rect x="960" y="771" width="1" height="14" fill="#5a5a5a"/>
<rect x="1040" y="771" width="1" height="14" fill="#5a5a5a"/>
<rect x="1119" y="771" width="1" height="14" fill="#5a5a5a"/>
<rect x="1195" y="771" width="1" height="14" fill="#5a5a5a"/>
<rect x="1279" y="771" width="1" height="14" fill="#5a5a5a"/>
<rect x="1363" y="771" width="1" height="14" fill="#5a5a5a"/>
<rect x="1443" y="771" width="1" height="14" fill="#5a5a5a"/>
<rect x="1543" y="771" width="1" height="14" fill="#5a5a5a"/>
<rect x="415" y="767" width="104" height="20" fill="#fff"/>
<rect x="415" y="768" width="1" height="19" fill="#000"/><rect x="518" y="768" width="1" height="19" fill="#000"/><rect x="415" y="786" width="104" height="1" fill="#000"/>
</g>
<text x="15.6" y="783" font-size="12" fill="#747474" textLength="79.4" lengthAdjust="spacingAndGlyphs">EURUSD,Daily</text>
<text x="117.3" y="783" font-size="12" fill="#747474" textLength="79.4" lengthAdjust="spacingAndGlyphs">USDCHF,Daily</text>
<text x="218.3" y="783" font-size="12" fill="#747474" textLength="82.4" lengthAdjust="spacingAndGlyphs">AUDUSD,Daily</text>
<text x="322.7" y="783" font-size="12" fill="#747474" textLength="81.3" lengthAdjust="spacingAndGlyphs">USDCAD,Daily</text>
<text x="532" y="783" font-size="12" fill="#747474" textLength="79.4" lengthAdjust="spacingAndGlyphs">EURUSD,Daily</text>
<text x="635" y="783" font-size="12" fill="#747474" textLength="68.3" lengthAdjust="spacingAndGlyphs">GBPUSD,H4</text>
<text x="726" y="783" font-size="12" fill="#747474" textLength="69" lengthAdjust="spacingAndGlyphs">XAUUSD,H1</text>
<text x="818.3" y="783" font-size="12" fill="#747474" textLength="50" lengthAdjust="spacingAndGlyphs">HK50,H1</text>
<text x="890.7" y="783" font-size="12" fill="#747474" textLength="56.6" lengthAdjust="spacingAndGlyphs">UK100,H1</text>
<text x="970.7" y="783" font-size="12" fill="#747474" textLength="56.6" lengthAdjust="spacingAndGlyphs">UK100,H1</text>
<text x="1051" y="783" font-size="12" fill="#747474" textLength="55" lengthAdjust="spacingAndGlyphs">GER30,H1</text>
<text x="1129.2" y="783" font-size="12" fill="#747474" textLength="54.5" lengthAdjust="spacingAndGlyphs">FRA40,H1</text>
<text x="1205.5" y="783" font-size="12" fill="#747474" textLength="62.5" lengthAdjust="spacingAndGlyphs">USOil,Daily</text>
<text x="1289" y="783" font-size="12" fill="#747474" textLength="62.7" lengthAdjust="spacingAndGlyphs">USDJPY,H1</text>
<text x="1373.4" y="783" font-size="12" fill="#747474" textLength="58.6" lengthAdjust="spacingAndGlyphs">DJ30,Daily</text>
<text x="1453" y="783" font-size="12" fill="#747474" textLength="78.7" lengthAdjust="spacingAndGlyphs">CHINA300,H1</text>
<text x="1553.4" y="783" font-size="12" fill="#747474" textLength="33.5" lengthAdjust="spacingAndGlyphs">USOil,</text>
<text x="425.6" y="783" font-size="12" fill="#000" textLength="82.6" lengthAdjust="spacingAndGlyphs">USDCNH,Daily</text>
<path d="M1596.5,776 L1592.5,779.5 L1596.5,783 Z" fill="#a8a8a8"/><path d="M1611.5,775.5 L1615.5,779.5 L1611.5,783.5 Z" fill="#000"/>
</svg>
</body></html>
